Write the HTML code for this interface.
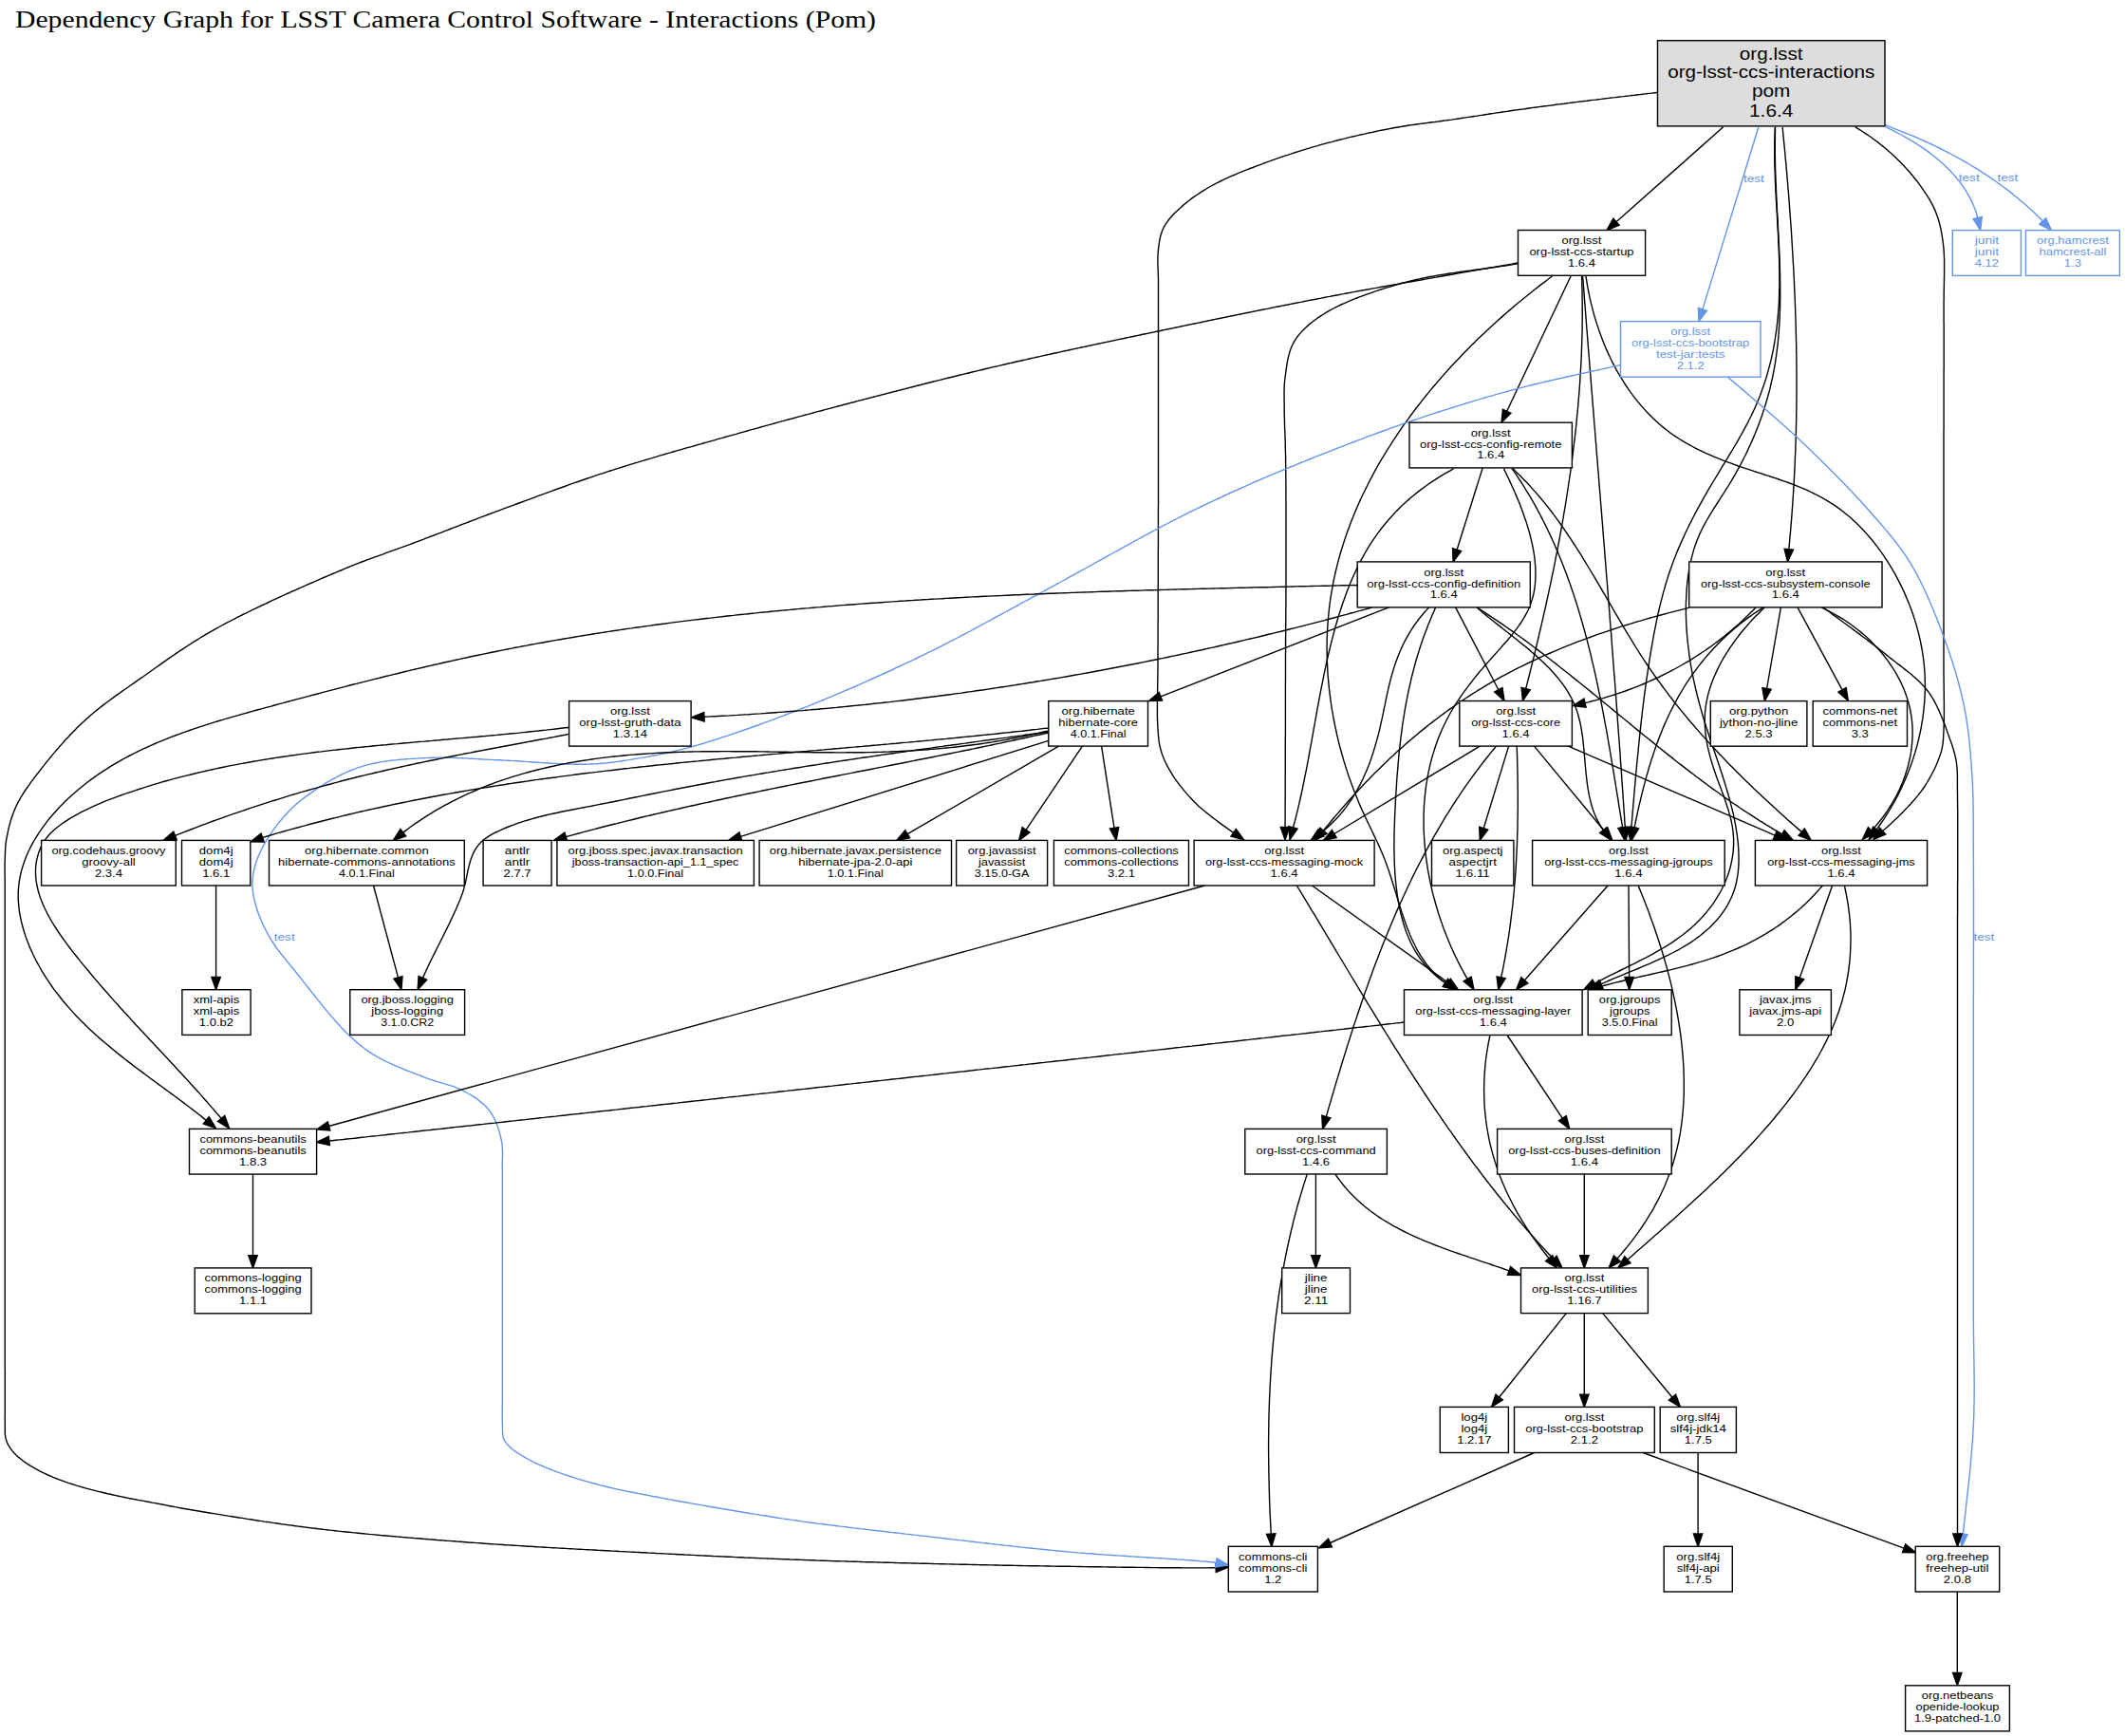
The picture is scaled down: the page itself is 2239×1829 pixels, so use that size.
<!DOCTYPE html><html><head><meta charset="utf-8"><style>html,body{margin:0;padding:0;background:#fff;overflow:hidden}svg{display:block}text{font-family:"Liberation Sans",sans-serif}</style></head><body>
<svg xmlns="http://www.w3.org/2000/svg" width="2239" height="1829" viewBox="0 0 2239 1829">
<rect width="2239" height="1829" fill="#fff"/>
<text x="16" y="29.3" font-family="Liberation Serif, serif" style="font-family:'Liberation Serif',serif" font-size="24.5" textLength="907" lengthAdjust="spacingAndGlyphs">Dependency Graph for LSST Camera Control Software - Interactions (Pom)</text>
<path d="M1815.7,133.8 1703,233.7" fill="none" stroke="#000" stroke-width="1.4"/>
<polygon points="1693,242.5 1699.8,230.2 1706.1,237.2" fill="#000" stroke="#000" stroke-width="1.4"/>
<path d="M1852.9,133.8 1793.9,325.9" fill="none" stroke="#6495ed" stroke-width="1.4"/>
<polygon points="1790,338.6 1789.4,324.5 1798.4,327.3" fill="#6495ed" stroke="#6495ed" stroke-width="1.4"/>
<path d="M1986.5,133.6 1990.2,135.4 1993.9,137.2 1997.6,139.1 2001.3,141 2005,143 2008.6,145.1 2012.3,147.2 2015.9,149.3 2019.4,151.6 2023,153.9 2026.5,156.2 2029.9,158.6 2033.3,161.1 2036.6,163.7 2039.9,166.3 2043.1,169 2046.2,171.7 2049.3,174.5 2052.3,177.4 2055.2,180.4 2058,183.4 2060.7,186.5 2063.3,189.7 2065.8,193 2068.2,196.3 2070.5,199.7 2072.6,203.2 2074.7,206.8 2076.6,210.4 2078.4,214.1 2080,218 2081.5,221.8 2082.8,225.8 2083.7,229.5" fill="none" stroke="#6495ed" stroke-width="1.4"/>
<polygon points="2086.7,242.5 2079.1,230.6 2088.3,228.5" fill="#6495ed" stroke="#6495ed" stroke-width="1.4"/>
<path d="M1986.7,131.9 1990.5,133.4 1994.4,134.8 1998.2,136.3 2002,137.8 2005.8,139.3 2009.6,140.9 2013.4,142.4 2017.2,144 2021,145.7 2024.7,147.3 2028.4,149 2032.2,150.7 2035.9,152.4 2039.6,154.2 2043.3,156 2046.9,157.8 2050.6,159.7 2054.2,161.5 2057.8,163.5 2061.4,165.4 2065,167.4 2068.6,169.4 2072.1,171.4 2075.6,173.5 2079.1,175.6 2082.6,177.7 2086.1,179.9 2089.5,182.1 2092.9,184.3 2096.3,186.6 2099.7,188.9 2103,191.2 2106.3,193.6 2109.6,196 2112.9,198.4 2116.1,200.9 2119.4,203.4 2122.5,206 2125.7,208.5 2128.8,211.2 2132,213.8 2135,216.5 2138.1,219.3 2141.1,222 2144.1,224.8 2147.1,227.7 2150,230.6 2152.2,232.9" fill="none" stroke="#6495ed" stroke-width="1.4"/>
<polygon points="2161.4,242.5 2148.8,236.2 2155.6,229.6" fill="#6495ed" stroke="#6495ed" stroke-width="1.4"/>
<path d="M1746.6,97.4 1743.6,97.7 1740.6,98.1 1737.7,98.4 1734.7,98.8 1731.7,99.1 1728.7,99.5 1725.7,99.8 1722.8,100.2 1719.8,100.5 1716.8,100.9 1713.8,101.2 1710.8,101.6 1707.8,101.9 1704.9,102.2 1701.9,102.6 1698.9,102.9 1695.9,103.3 1692.9,103.6 1690,104 1687,104.4 1684,104.7 1681,105.1 1678,105.4 1675.1,105.8 1672.1,106.2 1669.1,106.5 1666.1,106.9 1663.2,107.3 1660.2,107.6 1657.2,108 1654.2,108.4 1651.2,108.8 1648.3,109.2 1645.3,109.5 1642.3,109.9 1639.3,110.3 1636.4,110.7 1633.4,111.1 1630.4,111.5 1627.4,111.8 1624.5,112.2 1621.5,112.6 1618.5,113 1615.5,113.4 1612.6,113.8 1609.6,114.2 1606.6,114.7 1603.6,115.1 1600.7,115.5 1597.7,115.9 1594.7,116.3 1591.8,116.7 1588.8,117.2 1585.8,117.6 1582.8,118 1579.9,118.5 1576.9,118.9 1573.9,119.4 1571,119.8 1568,120.3 1565,120.7 1562.1,121.2 1559.1,121.6 1556.1,122.1 1553.2,122.5 1550.2,123 1547.2,123.4 1544.3,123.9 1541.3,124.3 1538.3,124.8 1535.4,125.2 1532.4,125.6 1529.4,126.1 1526.5,126.5 1523.5,126.9 1520.5,127.3 1517.5,127.7 1514.6,128.1 1511.6,128.5 1508.6,128.8 1505.6,129.2 1502.6,129.6 1499.7,130 1496.7,130.4 1493.7,130.8 1490.7,131.2 1487.8,131.6 1484.8,132 1481.8,132.5 1478.9,133 1475.9,133.5 1473,134 1470,134.5 1467.1,135 1464.1,135.6 1461.2,136.2 1458.2,136.8 1455.3,137.3 1452.3,137.9 1449.4,138.5 1446.5,139.2 1443.5,139.8 1440.6,140.4 1437.7,141.1 1434.7,141.7 1431.8,142.4 1428.9,143.1 1426,143.7 1423,144.4 1420.1,145.1 1417.2,145.9 1414.3,146.6 1411.4,147.3 1408.5,148 1405.6,148.8 1402.7,149.6 1399.8,150.3 1396.9,151.1 1394,151.9 1391.1,152.7 1388.2,153.6 1385.3,154.4 1382.4,155.2 1379.6,156.1 1376.7,156.9 1373.8,157.8 1370.9,158.7 1368.1,159.6 1365.2,160.5 1362.4,161.4 1359.5,162.3 1356.7,163.3 1353.8,164.2 1351,165.2 1348.1,166.2 1345.3,167.1 1342.5,168.1 1339.6,169.1 1336.8,170.2 1334,171.2 1331.2,172.2 1328.4,173.3 1325.5,174.3 1322.7,175.4 1319.9,176.5 1317.1,177.5 1314.3,178.6 1311.5,179.7 1308.7,180.8 1306,181.9 1303.2,183.1 1300.4,184.3 1297.7,185.4 1294.9,186.7 1292.2,187.9 1289.5,189.2 1286.8,190.5 1284.1,191.8 1281.4,193.2 1278.8,194.6 1276.1,196 1273.5,197.5 1270.9,199 1268.4,200.6 1265.8,202.2 1263.3,203.8 1260.8,205.5 1258.3,207.2 1255.9,208.9 1253.5,210.7 1251.1,212.6 1248.8,214.5 1246.5,216.4 1244.3,218.4 1242.1,220.4 1239.9,222.5 1237.7,224.6 1235.6,226.7 1233.6,229 1231.7,231.3 1229.9,233.6 1228.2,236.1 1226.7,238.7 1225.3,241.4 1224.2,244.2 1223.3,247 1222.5,249.9 1221.9,252.9 1221.4,255.8 1221,258.8 1220.6,261.8 1220.3,264.8 1220.1,267.8 1219.9,270.8 1219.9,273.8 1219.9,276.8 1220,279.8 1220.1,282.8 1220.2,285.8 1220.3,288.8 1220.4,291.8 1220.5,294.8 1220.5,297.8 1220.5,300.8 1220.5,303.8 1220.5,306.8 1220.5,309.8 1220.5,312.8 1220.5,315.8 1220.5,318.8 1220.5,321.8 1220.5,324.8 1220.5,327.8 1220.5,330.8 1220.5,333.8 1220.5,336.8 1220.5,339.8 1220.5,342.8 1220.5,345.8 1220.5,348.8 1220.5,351.8 1220.5,354.8 1220.5,357.8 1220.5,360.8 1220.5,363.8 1220.5,366.8 1220.5,369.8 1220.5,372.8 1220.5,375.8 1220.5,378.8 1220.5,381.8 1220.5,384.8 1220.5,387.8 1220.5,390.8 1220.5,393.8 1220.5,396.8 1220.5,399.8 1220.5,402.8 1220.5,405.8 1220.5,408.8 1220.5,411.8 1220.5,414.8 1220.5,417.8 1220.5,420.8 1220.5,423.8 1220.5,426.8 1220.5,429.8 1220.5,432.8 1220.5,435.8 1220.5,438.8 1220.5,441.8 1220.5,444.8 1220.5,447.8 1220.5,450.8 1220.5,453.8 1220.5,456.8 1220.5,459.8 1220.5,462.8 1220.5,465.8 1220.5,468.8 1220.5,471.8 1220.5,474.8 1220.5,477.8 1220.5,480.8 1220.5,483.8 1220.5,486.8 1220.5,489.8 1220.5,492.8 1220.5,495.8 1220.5,498.8 1220.5,501.8 1220.5,504.8 1220.5,507.8 1220.5,510.8 1220.5,513.8 1220.5,516.8 1220.5,519.8 1220.5,522.8 1220.5,525.9 1220.5,528.9 1220.5,531.9 1220.4,534.9 1220.4,537.9 1220.4,540.9 1220.4,543.9 1220.4,546.9 1220.4,549.9 1220.4,552.9 1220.4,555.9 1220.4,558.9 1220.4,561.9 1220.4,564.9 1220.4,567.9 1220.4,570.9 1220.4,573.9 1220.4,576.9 1220.3,579.9 1220.3,582.9 1220.3,585.9 1220.3,588.9 1220.3,591.9 1220.3,594.9 1220.3,597.9 1220.3,600.9 1220.3,603.9 1220.3,606.9 1220.3,609.9 1220.3,612.9 1220.3,615.9 1220.2,618.9 1220.2,621.9 1220.2,624.9 1220.2,627.9 1220.2,630.9 1220.2,633.9 1220.2,636.9 1220.2,639.9 1220.2,642.9 1220.2,645.9 1220.2,648.9 1220.2,651.9 1220.1,654.9 1220.1,657.9 1220.1,660.9 1220.1,663.9 1220.1,666.9 1220.1,669.9 1220.1,672.9 1220.1,675.9 1220.1,678.9 1220.1,681.9 1220,684.9 1220,687.9 1220,690.9 1220,693.9 1220,696.9 1220,699.9 1220,702.9 1220,705.9 1219.9,708.9 1219.9,711.9 1219.8,714.9 1219.8,717.9 1219.7,720.9 1219.7,723.9 1219.6,726.9 1219.6,729.9 1219.5,732.9 1219.5,735.9 1219.4,738.9 1219.4,741.9 1219.4,744.9 1219.4,747.9 1219.4,750.9 1219.4,753.9 1219.5,756.9 1219.6,759.9 1219.7,762.9 1219.9,765.9 1220.1,768.9 1220.3,771.9 1220.5,774.9 1220.8,777.9 1221.1,780.9 1221.6,783.8 1222.2,786.8 1223,789.7 1223.8,792.5 1224.8,795.4 1225.9,798.2 1227,801 1228.3,803.7 1229.6,806.4 1231,809 1232.5,811.7 1234,814.2 1235.6,816.8 1237.2,819.3 1239,821.8 1240.7,824.2 1242.5,826.6 1244.4,828.9 1246.3,831.3 1248.2,833.6 1250.1,835.9 1252.1,838.1 1254.1,840.3 1256.2,842.5 1258.3,844.7 1260.4,846.8 1262.6,848.9 1264.8,850.9 1267.1,852.8 1269.4,854.8 1271.7,856.6 1274.1,858.5 1276.4,860.4 1278.8,862.2 1281.2,864 1283.6,865.9 1286,867.6 1288.4,869.4 1290.9,871.1 1293.3,872.9 1295.8,874.6 1298.3,876.3 1299.7,877.2" fill="none" stroke="#000" stroke-width="1.4"/>
<polygon points="1310.6,884.8 1297,881.1 1302.3,873.4" fill="#000" stroke="#000" stroke-width="1.4"/>
<path d="M1954.8,133.6 1957.3,135.3 1959.8,136.9 1962.3,138.5 1964.8,140.2 1967.4,141.8 1969.8,143.5 1972.3,145.2 1974.7,147 1977.1,148.8 1979.5,150.6 1981.9,152.5 1984.2,154.4 1986.5,156.3 1988.8,158.2 1991.1,160.2 1993.4,162.2 1995.6,164.2 1997.7,166.3 1999.9,168.4 2002,170.5 2004.1,172.7 2006.1,174.8 2008.2,177.1 2010.2,179.3 2012.2,181.5 2014.1,183.8 2016,186.1 2017.9,188.5 2019.8,190.8 2021.6,193.2 2023.3,195.7 2025.1,198.1 2026.8,200.6 2028.5,203.1 2030.2,205.6 2031.8,208.1 2033.3,210.7 2034.8,213.3 2036.2,215.9 2037.5,218.6 2038.8,221.4 2039.9,224.2 2040.9,227 2041.9,229.8 2042.8,232.7 2043.6,235.6 2044.3,238.5 2045,241.4 2045.5,244.4 2046.1,247.3 2046.5,250.3 2047,253.3 2047.3,256.2 2047.7,259.2 2048,262.2 2048.2,265.2 2048.4,268.2 2048.5,271.2 2048.6,274.2 2048.6,277.2 2048.6,280.2 2048.6,283.2 2048.6,286.2 2048.6,289.2 2048.5,292.2 2048.5,295.2 2048.4,298.2 2048.4,301.2 2048.3,304.2 2048.2,307.2 2048.2,310.2 2048.2,313.2 2048.1,316.3 2048.1,319.3 2048.1,322.3 2048.1,325.3 2048.1,328.3 2048.1,331.3 2048.1,334.3 2048.1,337.3 2048.1,340.3 2048.2,343.3 2048.2,346.3 2048.2,349.3 2048.2,352.3 2048.2,355.3 2048.2,358.3 2048.2,361.3 2048.2,364.3 2048.2,367.3 2048.2,370.3 2048.2,373.3 2048.2,376.3 2048.2,379.3 2048.2,382.3 2048.2,385.3 2048.2,388.3 2048.1,391.3 2048.1,394.3 2048.1,397.3 2048.1,400.3 2048.1,403.3 2048.1,406.3 2048.1,409.3 2048.1,412.4 2048.1,415.4 2048.1,418.4 2048.1,421.4 2048.1,424.4 2048.1,427.4 2048.1,430.4 2048.1,433.4 2048.1,436.4 2048.1,439.4 2048.1,442.4 2048.1,445.4 2048.1,448.4 2048.1,451.4 2048,454.4 2048,457.4 2048,460.4 2048,463.4 2048,466.4 2048,469.4 2048,472.4 2048,475.4 2048,478.4 2048,481.4 2048,484.4 2048,487.4 2048,490.4 2048,493.4 2048,496.4 2048,499.4 2048,502.4 2048,505.4 2048,508.5 2048,511.5 2048,514.5 2048,517.5 2048,520.5 2048,523.5 2048,526.5 2048,529.5 2048,532.5 2048,535.5 2048,538.5 2048,541.5 2048,544.5 2048,547.5 2048,550.5 2048,553.5 2048,556.5 2048,559.5 2048,562.5 2048,565.5 2048,568.5 2048,571.5 2048,574.5 2048,577.5 2048,580.5 2048,583.5 2048,586.5 2048,589.5 2048,592.5 2048,595.5 2048,598.5 2048,601.5 2048,604.6 2048,607.6 2048,610.6 2048,613.6 2048,616.6 2048,619.6 2048,622.6 2048,625.6 2048,628.6 2048,631.6 2048,634.6 2048,637.6 2048,640.6 2048,643.6 2048,646.6 2048,649.6 2048,652.6 2048,655.6 2048,658.6 2048,661.6 2048,664.6 2048,667.6 2048,670.6 2048,673.6 2048,676.6 2048,679.6 2048,682.6 2048,685.6 2048,688.6 2048,691.6 2048,694.6 2048,697.6 2048,700.7 2048,703.7 2048,706.7 2048,709.7 2048.1,712.7 2048.1,715.7 2048.1,718.7 2048.2,721.7 2048.2,724.7 2048.2,727.7 2048.3,730.7 2048.3,733.7 2048.3,736.7 2048.4,739.7 2048.4,742.7 2048.4,745.7 2048.4,748.7 2048.4,751.7 2048.4,754.7 2048.4,757.7 2048.3,760.7 2048.2,763.7 2048.1,766.7 2048,769.7 2047.8,772.7 2047.7,775.7 2047.5,778.7 2047.3,781.7 2046.9,784.7 2046.4,787.6 2045.7,790.6 2044.9,793.5 2043.9,796.3 2042.9,799.1 2041.8,801.9 2040.7,804.7 2039.5,807.5 2038.2,810.2 2036.9,812.9 2035.5,815.5 2034.1,818.2 2032.6,820.8 2031.1,823.4 2029.6,826 2027.9,828.5 2026.2,831 2024.5,833.4 2022.6,835.8 2020.8,838.1 2018.8,840.4 2016.9,842.7 2014.9,845 2012.9,847.2 2010.8,849.4 2008.8,851.6 2006.7,853.8 2004.6,855.9 2002.5,858.1 2000.4,860.2 1998.2,862.3 1996,864.3 1993.8,866.4 1991.6,868.4 1989.4,870.4 1987.2,872.4 1984.9,874.4 1983.6,875.6" fill="none" stroke="#000" stroke-width="1.4"/>
<polygon points="1973.8,884.5 1980.5,872.1 1986.8,879" fill="#000" stroke="#000" stroke-width="1.4"/>
<path d="M1878.2,134 1878.5,138 1878.9,142.1 1879.3,146.1 1879.7,150.2 1880.1,154.2 1880.5,158.2 1880.9,162.3 1881.2,166.3 1881.6,170.4 1882,174.4 1882.3,178.5 1882.7,182.5 1883,186.6 1883.4,190.6 1883.7,194.6 1884,198.7 1884.4,202.7 1884.7,206.8 1885,210.8 1885.3,214.9 1885.6,218.9 1885.9,223 1886.2,227 1886.5,231.1 1886.8,235.1 1887.1,239.2 1887.4,243.2 1887.6,247.3 1887.9,251.3 1888.1,255.4 1888.4,259.4 1888.6,263.5 1888.9,267.6 1889.1,271.6 1889.3,275.7 1889.6,279.7 1889.8,283.8 1890,287.8 1890.2,291.9 1890.4,295.9 1890.6,300 1890.7,304 1890.9,308.1 1891.1,312.2 1891.3,316.2 1891.4,320.3 1891.6,324.3 1891.7,328.4 1891.8,332.4 1892,336.5 1892.1,340.6 1892.2,344.6 1892.3,348.7 1892.4,352.7 1892.5,356.8 1892.6,360.8 1892.7,364.9 1892.7,369 1892.8,373 1892.9,377.1 1892.9,381.1 1892.9,385.2 1893,389.2 1893,393.3 1893,397.4 1893,401.4 1893,405.5 1893,409.5 1893,413.6 1893,417.6 1892.9,421.7 1892.9,425.8 1892.9,429.8 1892.8,433.9 1892.7,437.9 1892.7,442 1892.6,446 1892.5,450.1 1892.4,454.2 1892.3,458.2 1892.2,462.3 1892,466.3 1891.9,470.4 1891.8,474.4 1891.6,478.5 1891.4,482.5 1891.3,486.6 1891.1,490.7 1890.9,494.7 1890.7,498.8 1890.5,502.8 1890.3,506.9 1890.1,510.9 1889.8,515 1889.6,519 1889.3,523.1 1889,527.1 1888.8,531.2 1888.5,535.2 1888.2,539.3 1887.9,543.3 1887.6,547.4 1887.2,551.4 1886.9,555.5 1886.6,559.5 1886.2,563.6 1885.8,567.6 1885.5,571.7 1885.1,575.7 1884.8,578.7" fill="none" stroke="#000" stroke-width="1.4"/>
<polygon points="1883.5,591.9 1880.1,578.2 1889.5,579.1" fill="#000" stroke="#000" stroke-width="1.4"/>
<path d="M1870.3,133.8 1870.2,137.8 1870,141.7 1869.9,145.7 1869.8,149.6 1869.8,153.6 1869.8,157.6 1869.8,161.6 1869.8,165.6 1869.8,169.6 1869.9,173.6 1870,177.6 1870.2,181.6 1870.3,185.7 1870.4,189.7 1870.6,193.8 1870.8,197.8 1871,201.9 1871.2,206 1871.4,210 1871.7,214.1 1871.9,218.2 1872.1,222.3 1872.4,226.3 1872.6,230.4 1872.8,234.5 1873,238.6 1873.3,242.7 1873.5,246.8 1873.7,250.9 1873.9,255 1874.1,259.1 1874.3,263.2 1874.4,267.3 1874.5,271.3 1874.7,275.4 1874.8,279.5 1874.8,283.6 1874.9,287.7 1874.9,291.7 1874.9,295.8 1874.9,299.9 1874.8,303.9 1874.7,308 1874.6,312 1874.5,316.1 1874.3,320.1 1874,324.1 1873.7,328.1 1873.4,332.1 1873.1,336.1 1872.6,340.1 1872.2,344.1 1871.7,348.1 1871.1,352 1870.5,356 1869.9,359.9 1869.2,363.8 1868.5,367.8 1867.7,371.7 1866.9,375.5 1866,379.4 1865,383.3 1864,387.1 1863,390.9 1861.9,394.7 1860.8,398.5 1859.6,402.3 1858.3,406.1 1857,409.8 1855.7,413.5 1854.3,417.2 1852.8,420.9 1851.3,424.5 1849.7,428.2 1848.1,431.8 1846.4,435.4 1844.7,439 1842.9,442.5 1841.1,446.1 1839.2,449.6 1837.3,453.1 1835.4,456.6 1833.4,460.1 1831.5,463.6 1829.5,467.1 1827.4,470.5 1825.4,474 1823.3,477.4 1821.2,480.9 1819.1,484.3 1817,487.8 1814.9,491.2 1812.9,494.7 1810.8,498.1 1808.7,501.6 1806.6,505 1804.5,508.5 1802.5,511.9 1800.4,515.4 1798.4,518.9 1796.4,522.4 1794.4,525.8 1792.5,529.3 1790.5,532.9 1788.6,536.4 1786.7,539.9 1784.8,543.5 1783,547 1781.2,550.6 1779.4,554.1 1777.7,557.7 1775.9,561.3 1774.3,565 1772.6,568.6 1771,572.2 1769.4,575.9 1767.8,579.6 1766.3,583.3 1764.9,587 1763.4,590.7 1762,594.4 1760.7,598.2 1759.4,602 1758.1,605.8 1756.9,609.6 1755.7,613.4 1754.6,617.3 1753.5,621.1 1752.4,625 1751.4,628.9 1750.3,632.8 1749.4,636.7 1748.4,640.6 1747.5,644.5 1746.6,648.5 1745.8,652.4 1745,656.4 1744.2,660.4 1743.4,664.3 1742.6,668.3 1741.9,672.3 1741.2,676.3 1740.5,680.3 1739.8,684.3 1739.1,688.3 1738.5,692.3 1737.8,696.3 1737.2,700.3 1736.6,704.3 1736,708.3 1735.4,712.3 1734.8,716.4 1734.3,720.4 1733.7,724.4 1733.2,728.4 1732.6,732.4 1732.1,736.4 1731.6,740.5 1731.1,744.5 1730.6,748.5 1730.2,752.5 1729.7,756.5 1729.2,760.6 1728.8,764.6 1728.3,768.6 1727.9,772.6 1727.5,776.6 1727.1,780.7 1726.7,784.7 1726.3,788.7 1725.9,792.7 1725.5,796.8 1725.1,800.8 1724.7,804.8 1724.3,808.8 1724,812.8 1723.6,816.9 1723.2,820.9 1722.9,824.9 1722.5,828.9 1722.2,832.9 1721.8,836.9 1721.5,840.9 1721.1,845 1720.8,849 1720.5,853 1720.1,857 1719.8,861 1719.5,865 1719.1,869 1718.9,871.7" fill="none" stroke="#000" stroke-width="1.4"/>
<polygon points="1717.8,885 1714.2,871.4 1723.6,872.1" fill="#000" stroke="#000" stroke-width="1.4"/>
<path d="M1870.5,134 1870.5,138 1870.4,141.9 1870.4,145.9 1870.3,149.9 1870.3,153.8 1870.3,157.8 1870.3,161.8 1870.4,165.8 1870.4,169.8 1870.5,173.8 1870.6,177.8 1870.7,181.8 1870.9,185.8 1871,189.8 1871.2,193.9 1871.4,197.9 1871.5,201.9 1871.7,206 1871.9,210 1872.1,214.1 1872.3,218.1 1872.5,222.2 1872.8,226.2 1873,230.3 1873.2,234.3 1873.4,238.4 1873.6,242.5 1873.8,246.5 1874,250.6 1874.2,254.7 1874.4,258.7 1874.6,262.8 1874.8,266.9 1875,270.9 1875.1,275 1875.2,279 1875.4,283.1 1875.5,287.2 1875.6,291.2 1875.6,295.3 1875.7,299.3 1875.7,303.4 1875.7,307.4 1875.7,311.5 1875.7,315.5 1875.6,319.5 1875.6,323.6 1875.4,327.6 1875.3,331.6 1875.1,335.6 1874.9,339.7 1874.7,343.7 1874.4,347.7 1874.1,351.7 1873.8,355.6 1873.4,359.6 1873,363.6 1872.5,367.6 1872,371.5 1871.5,375.5 1870.9,379.4 1870.3,383.4 1869.6,387.3 1868.9,391.2 1868.1,395.1 1867.3,399 1866.4,402.9 1865.5,406.8 1864.6,410.7 1863.6,414.5 1862.5,418.4 1861.4,422.2 1860.3,426.1 1859.1,429.9 1857.8,433.7 1856.6,437.5 1855.2,441.2 1853.9,445 1852.5,448.8 1851,452.5 1849.5,456.2 1848,459.9 1846.4,463.6 1844.8,467.3 1843.1,470.9 1841.4,474.6 1839.7,478.2 1837.9,481.8 1836,485.4 1834.2,489 1832.3,492.5 1830.3,496.1 1828.4,499.6 1826.3,503.1 1824.3,506.6 1822.2,510 1820.1,513.5 1817.9,516.9 1815.7,520.3 1813.5,523.7 1811.4,527.1 1809.2,530.5 1807,533.8 1804.9,537.2 1802.8,540.6 1800.7,544.1 1798.7,547.5 1796.8,550.9 1794.9,554.4 1793.1,557.9 1791.4,561.5 1789.9,565 1788.4,568.6 1787,572.3 1785.7,575.9 1784.5,579.6 1783.5,583.4 1782.5,587.1 1781.6,590.9 1780.7,594.7 1780,598.6 1779.4,602.4 1778.8,606.3 1778.3,610.2 1777.8,614.1 1777.4,618.1 1777.1,622 1776.9,626 1776.7,629.9 1776.5,633.9 1776.4,637.9 1776.4,641.9 1776.4,645.9 1776.5,649.9 1776.6,653.9 1776.8,657.9 1777,661.9 1777.3,665.9 1777.6,669.9 1778,673.9 1778.4,678 1778.9,682 1779.4,686 1779.9,690 1780.5,694.1 1781.1,698.1 1781.8,702.1 1782.5,706.1 1783.3,710.1 1784.1,714.1 1784.9,718.1 1785.8,722.1 1786.7,726.1 1787.7,730.1 1788.6,734 1789.7,738 1790.7,741.9 1791.8,745.9 1792.9,749.8 1794,753.7 1795.2,757.6 1796.4,761.5 1797.6,765.4 1798.9,769.3 1800.1,773.1 1801.4,777 1802.7,780.8 1804,784.7 1805.3,788.5 1806.6,792.3 1807.9,796.2 1809.2,800 1810.5,803.8 1811.8,807.7 1813,811.5 1814.3,815.3 1815.5,819.2 1816.7,823 1817.9,826.8 1819.1,830.7 1820.2,834.5 1821.3,838.4 1822.4,842.3 1823.4,846.1 1824.4,850 1825.4,853.9 1826.3,857.8 1827.1,861.7 1827.9,865.7 1828.7,869.6 1829.3,873.6 1830,877.6 1830.5,881.6 1831,885.6 1831.4,889.6 1831.7,893.6 1831.9,897.6 1832,901.6 1832.1,905.6 1832,909.5 1831.8,913.4 1831.5,917.3 1831,921.2 1830.4,925 1829.7,928.8 1828.8,932.5 1827.8,936.2 1826.6,939.8 1825.2,943.3 1823.7,946.8 1822,950.2 1820.2,953.6 1818.2,956.8 1816.1,960 1813.9,963.1 1811.5,966.2 1809,969.2 1806.4,972.1 1803.6,974.9 1800.8,977.7 1797.8,980.3 1794.8,982.9 1791.7,985.5 1788.5,987.9 1785.2,990.3 1781.8,992.6 1778.4,994.8 1774.8,996.9 1771.3,999 1767.7,1001.1 1764,1003 1760.3,1005 1756.5,1006.8 1752.7,1008.7 1748.9,1010.4 1745.1,1012.2 1741.2,1013.9 1737.4,1015.6 1733.5,1017.2 1729.6,1018.9 1725.8,1020.5 1721.9,1022.1 1718.1,1023.6 1714.2,1025.2 1710.4,1026.8 1706.7,1028.3 1702.9,1029.9 1699.2,1031.4 1695.6,1033 1692,1034.6 1688.5,1036.2 1686.9,1037" fill="none" stroke="#000" stroke-width="1.4"/>
<polygon points="1674.9,1042.8 1684.8,1032.8 1688.9,1041.2" fill="#000" stroke="#000" stroke-width="1.4"/>
<path d="M1599,277 1596,277.5 1593.1,278.1 1590.1,278.6 1587.2,279.1 1584.2,279.6 1581.3,280.1 1578.3,280.7 1575.4,281.2 1572.4,281.7 1569.4,282.2 1566.5,282.8 1563.5,283.3 1560.6,283.8 1557.6,284.3 1554.7,284.8 1551.7,285.3 1548.8,285.9 1545.8,286.4 1542.8,286.9 1539.9,287.4 1536.9,287.9 1534,288.4 1531,289 1528.1,289.5 1525.1,290 1522.2,290.5 1519.2,291 1516.2,291.5 1513.3,292.1 1510.3,292.6 1507.4,293.1 1504.4,293.6 1501.5,294.1 1498.5,294.7 1495.5,295.2 1492.6,295.7 1489.6,296.2 1486.7,296.7 1483.7,297.3 1480.8,297.8 1477.8,298.3 1474.9,298.8 1471.9,299.4 1469,299.9 1466,300.4 1463,300.9 1460.1,301.5 1457.1,302 1454.2,302.5 1451.2,303.1 1448.3,303.6 1445.3,304.1 1442.4,304.7 1439.4,305.2 1436.5,305.7 1433.5,306.3 1430.6,306.8 1427.6,307.4 1424.7,307.9 1421.7,308.5 1418.8,309 1415.8,309.6 1412.9,310.1 1409.9,310.7 1407,311.2 1404,311.8 1401.1,312.4 1398.1,312.9 1395.2,313.5 1392.2,314.1 1389.3,314.6 1386.3,315.2 1383.4,315.8 1380.4,316.3 1377.5,316.9 1374.5,317.5 1371.6,318.1 1368.7,318.6 1365.7,319.2 1362.8,319.8 1359.8,320.4 1356.9,321 1353.9,321.5 1351,322.1 1348,322.7 1345.1,323.3 1342.2,323.9 1339.2,324.5 1336.3,325.1 1333.3,325.6 1330.4,326.2 1327.5,326.8 1324.5,327.4 1321.6,328 1318.6,328.6 1315.7,329.2 1312.7,329.8 1309.8,330.4 1306.9,331 1303.9,331.6 1301,332.2 1298,332.8 1295.1,333.4 1292.2,334 1289.2,334.6 1286.3,335.2 1283.3,335.8 1280.4,336.4 1277.5,337 1274.5,337.6 1271.6,338.3 1268.6,338.9 1265.7,339.5 1262.8,340.1 1259.8,340.7 1256.9,341.3 1254,341.9 1251,342.5 1248.1,343.1 1245.1,343.7 1242.2,344.4 1239.3,345 1236.3,345.6 1233.4,346.2 1230.5,346.8 1227.5,347.4 1224.6,348 1221.6,348.7 1218.7,349.3 1215.8,349.9 1212.8,350.5 1209.9,351.1 1207,351.7 1204,352.3 1201.1,353 1198.1,353.6 1195.2,354.2 1192.3,354.8 1189.3,355.4 1186.4,356 1183.5,356.7 1180.5,357.3 1177.6,357.9 1174.7,358.5 1171.7,359.1 1168.8,359.8 1165.8,360.4 1162.9,361 1160,361.6 1157,362.2 1154.1,362.9 1151.2,363.5 1148.2,364.1 1145.3,364.7 1142.4,365.4 1139.4,366 1136.5,366.6 1133.6,367.3 1130.6,367.9 1127.7,368.5 1124.8,369.2 1121.8,369.8 1118.9,370.4 1116,371.1 1113,371.7 1110.1,372.3 1107.2,373 1104.2,373.6 1101.3,374.3 1098.4,374.9 1095.4,375.6 1092.5,376.2 1089.6,376.9 1086.7,377.5 1083.7,378.2 1080.8,378.9 1077.9,379.5 1074.9,380.2 1072,380.8 1069.1,381.5 1066.2,382.2 1063.2,382.8 1060.3,383.5 1057.4,384.2 1054.5,384.9 1051.5,385.6 1048.6,386.2 1045.7,386.9 1042.8,387.6 1039.9,388.3 1036.9,389 1034,389.7 1031.1,390.4 1028.2,391.1 1025.3,391.8 1022.3,392.5 1019.4,393.2 1016.5,393.9 1013.6,394.6 1010.7,395.3 1007.8,396 1004.9,396.8 1001.9,397.5 999,398.2 996.1,398.9 993.2,399.6 990.3,400.4 987.4,401.1 984.5,401.8 981.6,402.5 978.6,403.3 975.7,404 972.8,404.7 969.9,405.5 967,406.2 964.1,407 961.2,407.7 958.3,408.4 955.4,409.2 952.5,409.9 949.6,410.7 946.7,411.4 943.7,412.2 940.8,412.9 937.9,413.7 935,414.4 932.1,415.2 929.2,415.9 926.3,416.7 923.4,417.4 920.5,418.2 917.6,418.9 914.7,419.7 911.8,420.4 908.9,421.2 906,421.9 903.1,422.7 900.2,423.5 897.3,424.2 894.4,425 891.5,425.7 888.6,426.5 885.7,427.3 882.8,428 879.9,428.8 877,429.6 874.1,430.4 871.2,431.1 868.3,431.9 865.4,432.7 862.5,433.4 859.6,434.2 856.7,435 853.8,435.8 850.9,436.6 848,437.3 845.1,438.1 842.2,438.9 839.3,439.7 836.4,440.5 833.5,441.3 830.6,442 827.7,442.8 824.8,443.6 821.9,444.4 819,445.2 816.1,446 813.2,446.8 810.3,447.6 807.4,448.4 804.5,449.2 801.6,450 798.8,450.8 795.9,451.6 793,452.4 790.1,453.2 787.2,454 784.3,454.8 781.4,455.6 778.5,456.4 775.6,457.3 772.7,458.1 769.9,458.9 767,459.7 764.1,460.5 761.2,461.3 758.3,462.1 755.4,462.9 752.5,463.8 749.6,464.6 746.7,465.4 743.9,466.2 741,467 738.1,467.8 735.2,468.6 732.3,469.5 729.4,470.3 726.5,471.1 723.6,471.9 720.8,472.7 717.9,473.6 715,474.4 712.1,475.2 709.2,476 706.3,476.9 703.4,477.7 700.6,478.5 697.7,479.4 694.8,480.2 691.9,481.1 689,481.9 686.2,482.8 683.3,483.6 680.4,484.5 677.5,485.3 674.7,486.2 671.8,487.1 668.9,487.9 666,488.8 663.2,489.7 660.3,490.6 657.4,491.5 654.6,492.4 651.7,493.3 648.9,494.2 646,495.1 643.1,496 640.3,496.9 637.4,497.8 634.6,498.8 631.7,499.7 628.9,500.7 626,501.6 623.2,502.6 620.4,503.5 617.5,504.5 614.7,505.5 611.8,506.5 609,507.5 606.2,508.4 603.3,509.4 600.5,510.4 597.7,511.4 594.9,512.5 592,513.5 589.2,514.5 586.4,515.5 583.6,516.5 580.7,517.6 577.9,518.6 575.1,519.6 572.3,520.6 569.5,521.7 566.7,522.7 563.8,523.8 561,524.8 558.2,525.8 555.4,526.9 552.6,527.9 549.8,529 546.9,530 544.1,531 541.3,532.1 538.5,533.1 535.7,534.1 532.9,535.2 530.1,536.2 527.2,537.3 524.4,538.3 521.6,539.4 518.8,540.4 516,541.5 513.2,542.5 510.4,543.6 507.6,544.7 504.8,545.7 502,546.8 499.2,547.9 496.4,548.9 493.6,550 490.8,551.1 487.9,552.1 485.1,553.2 482.3,554.3 479.5,555.4 476.7,556.4 473.9,557.5 471.1,558.6 468.3,559.7 465.5,560.8 462.7,561.8 459.9,562.9 457.1,564 454.3,565 451.5,566.1 448.7,567.2 445.9,568.3 443.1,569.3 440.3,570.4 437.5,571.4 434.7,572.5 431.9,573.6 429.1,574.6 426.2,575.6 423.4,576.7 420.6,577.7 417.8,578.7 415,579.7 412.1,580.7 409.3,581.7 406.5,582.7 403.7,583.8 400.8,584.8 398,585.8 395.2,586.8 392.4,587.8 389.6,588.9 386.7,589.9 383.9,591 381.1,592 378.3,593.1 375.5,594.2 372.7,595.3 369.9,596.4 367.2,597.5 364.4,598.7 361.6,599.8 358.8,601 356.1,602.1 353.3,603.3 350.6,604.5 347.8,605.7 345,606.8 342.3,608 339.5,609.2 336.8,610.4 334,611.6 331.3,612.8 328.5,614 325.8,615.2 323,616.4 320.3,617.6 317.5,618.8 314.8,620 312,621.3 309.3,622.5 306.6,623.7 303.8,625 301.1,626.2 298.4,627.4 295.6,628.7 292.9,629.9 290.2,631.2 287.4,632.4 284.7,633.7 282,635 279.3,636.3 276.6,637.5 273.9,638.8 271.2,640.1 268.4,641.4 265.7,642.7 263,644 260.4,645.4 257.7,646.7 255,648 252.3,649.4 249.6,650.7 246.9,652.1 244.3,653.5 241.6,654.8 238.9,656.2 236.3,657.6 233.6,659 231,660.5 228.4,661.9 225.8,663.4 223.1,664.9 220.5,666.3 217.9,667.9 215.4,669.4 212.8,670.9 210.2,672.5 207.7,674.1 205.1,675.6 202.6,677.2 200.1,678.9 197.5,680.5 195,682.1 192.5,683.8 190,685.4 187.5,687.1 185,688.8 182.6,690.5 180.1,692.2 177.6,693.9 175.2,695.6 172.7,697.4 170.3,699.1 167.8,700.8 165.4,702.5 162.9,704.3 160.5,706 158,707.8 155.6,709.5 153.1,711.2 150.7,713 148.2,714.7 145.7,716.4 143.3,718.1 140.8,719.8 138.4,721.5 135.9,723.3 133.4,725 131,726.7 128.5,728.4 126.1,730.2 123.6,731.9 121.2,733.6 118.8,735.4 116.3,737.2 113.9,739 111.5,740.8 109.1,742.6 106.8,744.4 104.4,746.3 102.1,748.1 99.7,750 97.4,752 95.1,753.9 92.9,755.9 90.6,757.9 88.4,759.9 86.2,762 84.1,764 81.9,766.1 79.8,768.2 77.7,770.4 75.6,772.5 73.5,774.7 71.5,776.9 69.4,779.1 67.4,781.3 65.4,783.6 63.4,785.8 61.5,788.1 59.5,790.3 57.6,792.6 55.6,794.9 53.7,797.2 51.8,799.6 49.9,801.9 48,804.2 46.2,806.6 44.3,808.9 42.5,811.3 40.6,813.7 38.8,816 36.9,818.4 35.1,820.8 33.3,823.2 31.6,825.6 29.8,828.1 28.1,830.5 26.4,833 24.8,835.5 23.2,838.1 21.6,840.6 20.2,843.3 18.7,845.9 17.4,848.6 16.2,851.3 15,854.1 13.9,856.9 12.9,859.7 11.9,862.5 11.1,865.4 10.3,868.3 9.5,871.2 8.8,874.1 8.2,877.1 7.6,880 7,882.9 6.5,885.9 6.1,888.9 5.8,891.9 5.6,894.9 5.5,897.9 5.4,900.9 5.3,903.9 5.2,906.9 5.1,909.9 5.1,912.9 5.1,915.9 5.1,918.9 5.1,921.9 5.2,924.9 5.2,927.9 5.2,930.9 5.2,933.9 5.2,936.9 5.2,939.9 5.2,942.9 5.2,945.9 5.2,948.9 5.2,951.9 5.2,954.9 5.2,957.9 5.2,960.9 5.2,963.9 5.2,966.9 5.2,969.9 5.2,972.9 5.2,975.9 5.2,978.9 5.2,981.9 5.2,984.9 5.2,987.9 5.2,990.9 5.2,993.9 5.2,996.9 5.2,999.9 5.2,1002.9 5.2,1005.9 5.2,1008.9 5.2,1011.9 5.2,1014.9 5.2,1017.9 5.2,1020.9 5.2,1023.9 5.2,1026.9 5.2,1029.9 5.2,1032.9 5.2,1035.9 5.2,1038.9 5.2,1041.9 5.2,1044.9 5.2,1047.9 5.2,1050.9 5.2,1053.9 5.2,1056.9 5.2,1059.9 5.2,1062.9 5.2,1065.9 5.2,1068.9 5.2,1071.9 5.2,1074.9 5.2,1077.9 5.2,1080.9 5.2,1083.9 5.2,1086.9 5.2,1089.9 5.2,1092.9 5.2,1095.9 5.2,1098.9 5.2,1101.9 5.2,1104.9 5.2,1107.9 5.2,1110.9 5.2,1113.9 5.2,1116.9 5.2,1119.9 5.2,1122.9 5.2,1125.9 5.2,1128.9 5.2,1131.9 5.2,1134.9 5.2,1137.9 5.2,1140.9 5.2,1143.9 5.2,1146.9 5.2,1149.9 5.2,1152.9 5.2,1155.9 5.2,1158.9 5.2,1161.9 5.2,1164.9 5.2,1167.9 5.2,1170.9 5.2,1173.9 5.2,1176.9 5.2,1179.9 5.2,1182.9 5.2,1186 5.2,1189 5.2,1192 5.2,1195 5.2,1198 5.2,1201 5.2,1204 5.2,1207 5.2,1210 5.2,1213 5.2,1216 5.2,1219 5.2,1222 5.2,1225 5.2,1228 5.2,1231 5.2,1234 5.2,1237 5.2,1240 5.2,1243 5.2,1246 5.2,1249 5.2,1252 5.2,1255 5.2,1258 5.2,1261 5.2,1264 5.2,1267 5.2,1270 5.2,1273 5.2,1276 5.2,1279 5.2,1282 5.2,1285 5.2,1288 5.2,1291 5.2,1294 5.2,1297 5.2,1300 5.2,1303 5.2,1306 5.2,1309 5.2,1312 5.2,1315 5.2,1318 5.2,1321 5.2,1324 5.2,1327 5.2,1330 5.2,1333 5.2,1336 5.2,1339 5.2,1342 5.2,1345 5.2,1348 5.2,1351 5.2,1354 5.2,1357 5.2,1360 5.2,1363 5.2,1366 5.2,1369 5.2,1372 5.2,1375 5.2,1378 5.2,1381 5.2,1384 5.2,1387 5.2,1390 5.2,1393 5.2,1396 5.2,1399 5.2,1402 5.2,1405 5.2,1408 5.2,1411 5.2,1414 5.2,1417 5.2,1420 5.2,1423 5.2,1426 5.2,1429 5.2,1432 5.2,1435 5.2,1438 5.2,1441 5.3,1444 5.3,1447 5.3,1450 5.3,1453 5.3,1456 5.3,1459 5.3,1462 5.3,1465 5.3,1468 5.3,1471 5.3,1474 5.3,1477 5.3,1480 5.3,1483.1 5.3,1486.1 5.3,1489.1 5.2,1492.1 5.2,1495.1 5.3,1498.1 5.3,1501.1 5.3,1504.1 5.3,1507.1 5.3,1510.1 5.6,1513 6.2,1516 7.1,1518.8 8.3,1521.6 9.8,1524.2 11.5,1526.7 13.3,1529.1 15.3,1531.3 17.5,1533.4 19.7,1535.4 22,1537.3 24.4,1539.2 26.8,1540.9 29.3,1542.6 31.8,1544.2 34.4,1545.7 37,1547.2 39.6,1548.7 42.3,1550.1 45,1551.4 47.7,1552.7 50.4,1554 53.2,1555.2 55.9,1556.4 58.7,1557.5 61.5,1558.6 64.3,1559.7 67.1,1560.7 70,1561.7 72.8,1562.6 75.7,1563.5 78.5,1564.4 81.4,1565.3 84.3,1566.1 87.1,1567 90,1567.8 92.9,1568.6 95.8,1569.4 98.7,1570.1 101.6,1570.9 104.6,1571.6 107.5,1572.3 110.4,1573 113.3,1573.7 116.2,1574.3 119.2,1575 122.1,1575.6 125,1576.3 128,1576.9 130.9,1577.5 133.8,1578.1 136.8,1578.7 139.7,1579.3 142.7,1579.8 145.6,1580.4 148.6,1580.9 151.5,1581.4 154.5,1582 157.4,1582.5 160.4,1583.1 163.3,1583.6 166.3,1584.2 169.2,1584.8 172.2,1585.3 175.1,1585.9 178.1,1586.5 181,1587 184,1587.6 186.9,1588.1 189.9,1588.7 192.8,1589.2 195.8,1589.7 198.8,1590.2 201.7,1590.7 204.7,1591.2 207.6,1591.7 210.6,1592.2 213.5,1592.7 216.5,1593.2 219.5,1593.7 222.4,1594.2 225.4,1594.6 228.4,1595.1 231.3,1595.6 234.3,1596.1 237.2,1596.6 240.2,1597.1 243.2,1597.5 246.1,1598 249.1,1598.5 252.1,1599 255,1599.4 258,1599.9 260.9,1600.4 263.9,1600.8 266.9,1601.3 269.8,1601.7 272.8,1602.2 275.8,1602.6 278.7,1603.1 281.7,1603.5 284.7,1603.9 287.7,1604.4 290.6,1604.8 293.6,1605.2 296.6,1605.7 299.5,1606.1 302.5,1606.5 305.5,1606.9 308.5,1607.3 311.4,1607.7 314.4,1608.1 317.4,1608.5 320.4,1608.9 323.3,1609.3 326.3,1609.6 329.3,1610 332.3,1610.3 335.3,1610.7 338.2,1611 341.2,1611.4 344.2,1611.7 347.2,1612.1 350.2,1612.4 353.1,1612.7 356.1,1613.1 359.1,1613.4 362.1,1613.7 365.1,1614 368.1,1614.3 371,1614.6 374,1614.9 377,1615.2 380,1615.5 383,1615.8 386,1616.1 389,1616.4 392,1616.6 394.9,1616.9 397.9,1617.2 400.9,1617.5 403.9,1617.7 406.9,1618 409.9,1618.3 412.9,1618.5 415.9,1618.8 418.9,1619.1 421.8,1619.3 424.8,1619.6 427.8,1619.8 430.8,1620.1 433.8,1620.3 436.8,1620.6 439.8,1620.8 442.8,1621 445.8,1621.3 448.8,1621.5 451.8,1621.8 454.8,1622 457.7,1622.2 460.7,1622.5 463.7,1622.7 466.7,1622.9 469.7,1623.2 472.7,1623.4 475.7,1623.6 478.7,1623.8 481.7,1624.1 484.7,1624.3 487.7,1624.5 490.7,1624.7 493.7,1625 496.6,1625.2 499.6,1625.4 502.6,1625.6 505.6,1625.8 508.6,1626 511.6,1626.3 514.6,1626.5 517.6,1626.7 520.6,1626.9 523.6,1627.1 526.6,1627.3 529.6,1627.5 532.6,1627.7 535.6,1627.9 538.6,1628 541.6,1628.2 544.6,1628.4 547.5,1628.6 550.5,1628.8 553.5,1629 556.5,1629.2 559.5,1629.3 562.5,1629.5 565.5,1629.7 568.5,1629.9 571.5,1630 574.5,1630.2 577.5,1630.4 580.5,1630.6 583.5,1630.7 586.5,1630.9 589.5,1631.1 592.5,1631.2 595.5,1631.4 598.5,1631.6 601.5,1631.7 604.5,1631.9 607.5,1632.1 610.5,1632.2 613.5,1632.4 616.5,1632.6 619.5,1632.7 622.4,1632.9 625.4,1633 628.4,1633.2 631.4,1633.4 634.4,1633.5 637.4,1633.7 640.4,1633.8 643.4,1634 646.4,1634.1 649.4,1634.3 652.4,1634.5 655.4,1634.6 658.4,1634.8 661.4,1634.9 664.4,1635.1 667.4,1635.2 670.4,1635.4 673.4,1635.5 676.4,1635.7 679.4,1635.8 682.4,1636 685.4,1636.1 688.4,1636.3 691.4,1636.5 694.4,1636.6 697.4,1636.8 700.4,1636.9 703.4,1637.1 706.4,1637.2 709.4,1637.4 712.4,1637.5 715.4,1637.7 718.4,1637.8 721.4,1638 724.3,1638.1 727.3,1638.3 730.3,1638.4 733.3,1638.6 736.3,1638.7 739.3,1638.9 742.3,1639 745.3,1639.2 748.3,1639.3 751.3,1639.5 754.3,1639.6 757.3,1639.7 760.3,1639.9 763.3,1640 766.3,1640.2 769.3,1640.3 772.3,1640.4 775.3,1640.6 778.3,1640.7 781.3,1640.8 784.3,1641 787.3,1641.1 790.3,1641.2 793.3,1641.4 796.3,1641.5 799.3,1641.6 802.3,1641.8 805.3,1641.9 808.3,1642 811.3,1642.1 814.3,1642.2 817.3,1642.4 820.3,1642.5 823.3,1642.6 826.3,1642.7 829.3,1642.8 832.3,1643 835.3,1643.1 838.3,1643.2 841.3,1643.3 844.3,1643.4 847.3,1643.5 850.3,1643.6 853.3,1643.7 856.3,1643.8 859.3,1644 862.3,1644.1 865.3,1644.2 868.3,1644.3 871.3,1644.4 874.3,1644.5 877.3,1644.6 880.3,1644.7 883.3,1644.8 886.3,1644.9 889.3,1644.9 892.3,1645 895.3,1645.1 898.3,1645.2 901.3,1645.3 904.3,1645.4 907.3,1645.5 910.3,1645.6 913.3,1645.7 916.3,1645.8 919.3,1645.8 922.3,1645.9 925.3,1646 928.3,1646.1 931.3,1646.2 934.3,1646.3 937.3,1646.3 940.3,1646.4 943.3,1646.5 946.3,1646.6 949.3,1646.7 952.3,1646.7 955.3,1646.8 958.3,1646.9 961.3,1647 964.3,1647 967.3,1647.1 970.3,1647.2 973.3,1647.3 976.3,1647.3 979.3,1647.4 982.3,1647.5 985.3,1647.6 988.3,1647.6 991.3,1647.7 994.3,1647.8 997.3,1647.9 1000.3,1647.9 1003.3,1648 1006.3,1648.1 1009.3,1648.1 1012.3,1648.2 1015.3,1648.3 1018.3,1648.3 1021.3,1648.4 1024.3,1648.5 1027.3,1648.5 1030.3,1648.6 1033.3,1648.7 1036.3,1648.7 1039.3,1648.8 1042.3,1648.9 1045.3,1648.9 1048.3,1649 1051.3,1649 1054.3,1649.1 1057.3,1649.2 1060.3,1649.2 1063.3,1649.3 1066.3,1649.3 1069.3,1649.4 1072.3,1649.5 1075.3,1649.5 1078.3,1649.6 1081.3,1649.6 1084.3,1649.7 1087.3,1649.7 1090.3,1649.8 1093.3,1649.8 1096.3,1649.9 1099.3,1649.9 1102.3,1650 1105.3,1650 1108.3,1650.1 1111.3,1650.1 1114.3,1650.2 1117.3,1650.2 1120.3,1650.3 1123.3,1650.3 1126.3,1650.3 1129.3,1650.4 1132.3,1650.4 1135.3,1650.5 1138.3,1650.5 1141.3,1650.6 1144.3,1650.6 1147.3,1650.7 1150.3,1650.7 1153.3,1650.7 1156.3,1650.8 1159.3,1650.8 1162.3,1650.9 1165.3,1650.9 1168.3,1651 1171.3,1651 1174.3,1651 1177.3,1651.1 1180.3,1651.1 1183.3,1651.2 1186.3,1651.2 1189.3,1651.3 1192.3,1651.3 1195.3,1651.3 1198.3,1651.4 1201.3,1651.4 1204.3,1651.4 1207.3,1651.5 1210.3,1651.5 1213.3,1651.6 1216.3,1651.6 1219.3,1651.6 1222.3,1651.7 1225.3,1651.7 1228.3,1651.7 1231.3,1651.7 1234.3,1651.8 1237.3,1651.8 1240.3,1651.8 1243.3,1651.8 1246.3,1651.9 1249.3,1651.9 1252.3,1651.9 1255.3,1651.9 1258.3,1651.9 1261.3,1651.9 1264.3,1651.9 1267.3,1651.9 1270.3,1651.9 1273.3,1651.9 1276.3,1651.8 1279.3,1651.8 1281,1651.7" fill="none" stroke="#000" stroke-width="1.4"/>
<polygon points="1294.3,1651 1281.3,1656.4 1280.8,1647" fill="#000" stroke="#000" stroke-width="1.4"/>
<path d="M1599,277.9 1596,278.4 1593.1,278.9 1590.1,279.3 1587.2,279.8 1584.2,280.2 1581.2,280.6 1578.3,281 1575.3,281.5 1572.3,281.9 1569.4,282.3 1566.4,282.7 1563.4,283.1 1560.5,283.5 1557.5,283.9 1554.5,284.3 1551.5,284.7 1548.6,285.1 1545.6,285.5 1542.6,285.9 1539.7,286.3 1536.7,286.7 1533.7,287.2 1530.8,287.6 1527.8,288 1524.9,288.5 1521.9,289 1518.9,289.4 1516,289.9 1513,290.4 1510.1,291 1507.1,291.5 1504.2,292 1501.3,292.6 1498.3,293.2 1495.4,293.9 1492.5,294.5 1489.5,295.2 1486.6,295.9 1483.7,296.6 1480.8,297.4 1477.9,298.2 1475.1,299 1472.2,299.8 1469.3,300.6 1466.4,301.5 1463.6,302.3 1460.7,303.2 1457.8,304.1 1455,305 1452.1,305.9 1449.3,306.9 1446.4,307.8 1443.6,308.8 1440.8,309.8 1438,310.8 1435.2,311.9 1432.4,312.9 1429.6,314 1426.8,315.1 1424,316.2 1421.2,317.4 1418.5,318.6 1415.7,319.8 1413,321 1410.3,322.3 1407.6,323.6 1405,325 1402.3,326.4 1399.7,327.9 1397.1,329.4 1394.6,331 1392,332.6 1389.6,334.2 1387.1,336 1384.7,337.7 1382.3,339.5 1380,341.4 1377.7,343.4 1375.5,345.4 1373.3,347.5 1371.3,349.6 1369.3,351.9 1367.4,354.2 1365.7,356.7 1364,359.2 1362.6,361.8 1361.3,364.5 1360.1,367.3 1359.1,370.1 1358.3,373 1357.5,375.9 1356.9,378.8 1356.3,381.7 1355.9,384.7 1355.4,387.6 1355,390.6 1354.6,393.6 1354.2,396.6 1353.8,399.5 1353.5,402.5 1353.3,405.5 1353.1,408.5 1353.1,411.5 1353,414.5 1353.1,417.5 1353.1,420.5 1353.1,423.5 1353.2,426.5 1353.2,429.5 1353.2,432.5 1353.2,435.4 1353.3,438.4 1353.4,441.4 1353.5,444.4 1353.5,447.4 1353.6,450.4 1353.8,453.4 1353.9,456.4 1354,459.4 1354.1,462.4 1354.2,465.4 1354.3,468.4 1354.3,471.4 1354.4,474.4 1354.5,477.4 1354.6,480.4 1354.6,483.4 1354.6,486.4 1354.7,489.4 1354.7,492.3 1354.8,495.3 1354.8,498.3 1354.8,501.3 1354.8,504.3 1354.9,507.3 1354.9,510.3 1354.9,513.3 1354.9,516.3 1354.9,519.3 1354.9,522.3 1354.9,525.3 1355,528.3 1355,531.3 1355,534.3 1355,537.3 1355,540.3 1355,543.3 1355,546.3 1355,549.3 1355,552.3 1355,555.3 1355,558.3 1355,561.3 1355,564.2 1355,567.2 1355,570.2 1355,573.2 1355,576.2 1355,579.2 1355,582.2 1355,585.2 1355,588.2 1355,591.2 1355,594.2 1355,597.2 1355,600.2 1355,603.2 1355,606.2 1355,609.2 1355,612.2 1355,615.2 1355,618.2 1354.9,621.2 1354.9,624.2 1354.9,627.2 1354.9,630.2 1354.9,633.2 1354.9,636.1 1354.9,639.1 1354.8,642.1 1354.8,645.1 1354.8,648.1 1354.8,651.1 1354.8,654.1 1354.7,657.1 1354.7,660.1 1354.7,663.1 1354.7,666.1 1354.7,669.1 1354.6,672.1 1354.6,675.1 1354.6,678.1 1354.6,681.1 1354.6,684.1 1354.6,687.1 1354.5,690.1 1354.5,693.1 1354.5,696.1 1354.5,699.1 1354.5,702.1 1354.5,705 1354.5,708 1354.5,711 1354.5,714 1354.5,717 1354.4,720 1354.4,723 1354.4,726 1354.4,729 1354.4,732 1354.4,735 1354.4,738 1354.4,741 1354.4,744 1354.4,747 1354.4,750 1354.4,753 1354.4,756 1354.4,759 1354.4,762 1354.4,765 1354.4,768 1354.4,771 1354.4,774 1354.3,776.9 1354.3,779.9 1354.3,782.9 1354.3,785.9 1354.3,788.9 1354.3,791.9 1354.3,794.9 1354.3,797.9 1354.3,800.9 1354.3,803.9 1354.3,806.9 1354.3,809.9 1354.3,812.9 1354.3,815.9 1354.2,818.9 1354.2,821.9 1354.2,824.9 1354.2,827.9 1354.2,830.9 1354.2,833.9 1354.2,836.9 1354.2,839.9 1354.2,842.9 1354.1,845.9 1354.1,848.9 1354.1,851.8 1354.1,854.8 1354.1,857.8 1354.1,860.8 1354.1,863.8 1354.1,866.8 1354.1,869.8 1354,871.5" fill="none" stroke="#000" stroke-width="1.4"/>
<polygon points="1354,884.8 1349.3,871.5 1358.7,871.5" fill="#000" stroke="#000" stroke-width="1.4"/>
<path d="M1655.4,290.3 1587.7,433.2" fill="none" stroke="#000" stroke-width="1.4"/>
<polygon points="1582,445.2 1583.4,431.2 1591.9,435.2" fill="#000" stroke="#000" stroke-width="1.4"/>
<path d="M1636.2,290.3 1633,292.8 1629.9,295.2 1626.8,297.6 1623.6,299.9 1620.5,302.4 1617.4,304.8 1614.3,307.3 1611.2,309.7 1608.1,312.2 1605,314.7 1601.9,317.3 1598.8,319.8 1595.7,322.4 1592.7,325 1589.6,327.6 1586.6,330.3 1583.6,332.9 1580.5,335.6 1577.5,338.3 1574.5,341 1571.6,343.7 1568.6,346.5 1565.6,349.2 1562.7,352 1559.7,354.8 1556.8,357.6 1553.9,360.5 1551,363.3 1548.1,366.2 1545.3,369.1 1542.4,372 1539.6,374.9 1536.8,377.9 1534,380.8 1531.2,383.8 1528.4,386.8 1525.7,389.8 1523,392.9 1520.2,395.9 1517.6,399 1514.9,402.1 1512.2,405.2 1509.6,408.3 1507,411.4 1504.4,414.6 1501.8,417.7 1499.3,420.9 1496.8,424.1 1494.3,427.3 1491.8,430.5 1489.3,433.8 1486.9,437 1484.5,440.3 1482.1,443.6 1479.7,446.9 1477.4,450.2 1475.1,453.6 1472.8,456.9 1470.6,460.3 1468.3,463.7 1466.1,467.1 1464,470.5 1461.8,473.9 1459.7,477.3 1457.6,480.8 1455.5,484.2 1453.5,487.7 1451.5,491.2 1449.5,494.7 1447.6,498.2 1445.7,501.8 1443.8,505.3 1442,508.9 1440.2,512.5 1438.4,516.1 1436.6,519.7 1434.9,523.3 1433.2,526.9 1431.6,530.5 1430,534.2 1428.4,537.9 1426.9,541.5 1425.4,545.2 1423.9,548.9 1422.5,552.6 1421.1,556.4 1419.7,560.1 1418.4,563.9 1417.1,567.6 1415.9,571.4 1414.7,575.2 1413.5,579 1412.4,582.8 1411.3,586.6 1410.2,590.4 1409.2,594.3 1408.3,598.1 1407.3,602 1406.5,605.9 1405.6,609.7 1404.8,613.6 1404.1,617.5 1403.4,621.5 1402.7,625.4 1402.1,629.3 1401.5,633.3 1401,637.2 1400.5,641.2 1400.1,645.2 1399.7,649.2 1399.3,653.1 1399,657.1 1398.8,661.2 1398.5,665.2 1398.4,669.2 1398.2,673.2 1398.2,677.2 1398.1,681.3 1398.1,685.3 1398.2,689.4 1398.3,693.4 1398.4,697.5 1398.6,701.5 1398.8,705.6 1399,709.6 1399.3,713.7 1399.7,717.7 1400.1,721.8 1400.5,725.8 1401,729.8 1401.5,733.9 1402,737.9 1402.6,742 1403.2,746 1403.9,750 1404.6,754 1405.3,758 1406.1,762 1406.9,766 1407.8,770 1408.6,774 1409.6,777.9 1410.5,781.9 1411.5,785.8 1412.6,789.8 1413.7,793.7 1414.8,797.6 1415.9,801.5 1417.1,805.4 1418.3,809.2 1419.6,813.1 1420.8,816.9 1422.2,820.7 1423.5,824.5 1424.9,828.3 1426.3,832.1 1427.8,835.8 1429.3,839.6 1430.8,843.3 1432.3,847 1433.9,850.6 1435.5,854.3 1437.2,857.9 1438.9,861.5 1440.6,865.1 1442.3,868.7 1444,872.2 1445.7,875.8 1447.4,879.4 1449.1,883 1450.8,886.5 1452.5,890.1 1454.1,893.8 1455.7,897.4 1457.2,901.1 1458.7,904.8 1460.1,908.5 1461.5,912.2 1462.8,916 1464.1,919.8 1465.4,923.7 1466.6,927.5 1467.8,931.4 1469,935.3 1470.2,939.1 1471.4,943 1472.5,946.9 1473.7,950.8 1474.9,954.7 1476.1,958.5 1477.4,962.4 1478.7,966.2 1480,970 1481.3,973.8 1482.7,977.6 1484.2,981.3 1485.7,985 1487.3,988.7 1489,992.3 1490.7,995.8 1492.5,999.3 1494.4,1002.8 1496.4,1006.2 1498.6,1009.5 1500.8,1012.7 1503.1,1015.9 1505.6,1019 1508.2,1022 1510.9,1025 1513.7,1027.8 1516.7,1030.5 1519.9,1033.2 1523,1035.3" fill="none" stroke="#000" stroke-width="1.4"/>
<polygon points="1534,1042.8 1520.4,1039.2 1525.7,1031.4" fill="#000" stroke="#000" stroke-width="1.4"/>
<path d="M1666.6,290.3 1666.7,294.4 1666.8,298.4 1666.9,302.5 1667,306.6 1667.1,310.6 1667.1,314.7 1667.2,318.7 1667.2,322.8 1667.2,326.9 1667.2,330.9 1667.2,335 1667.2,339 1667.1,343.1 1667.1,347.2 1667,351.2 1666.9,355.3 1666.8,359.3 1666.6,363.4 1666.5,367.4 1666.3,371.5 1666.2,375.5 1666,379.6 1665.8,383.6 1665.6,387.7 1665.3,391.7 1665.1,395.7 1664.8,399.8 1664.6,403.8 1664.3,407.9 1664,411.9 1663.7,415.9 1663.3,420 1663,424 1662.7,428.1 1662.3,432.1 1661.9,436.1 1661.5,440.1 1661.1,444.2 1660.7,448.2 1660.3,452.2 1659.8,456.3 1659.4,460.3 1658.9,464.3 1658.4,468.3 1657.9,472.4 1657.4,476.4 1656.9,480.4 1656.4,484.4 1655.9,488.4 1655.3,492.4 1654.8,496.5 1654.2,500.5 1653.6,504.5 1653,508.5 1652.4,512.5 1651.8,516.5 1651.2,520.5 1650.6,524.5 1649.9,528.5 1649.3,532.5 1648.6,536.5 1647.9,540.5 1647.3,544.5 1646.6,548.5 1645.9,552.5 1645.2,556.5 1644.4,560.5 1643.7,564.5 1643,568.5 1642.2,572.5 1641.5,576.4 1640.7,580.4 1639.9,584.4 1639.1,588.4 1638.4,592.4 1637.6,596.3 1636.8,600.3 1635.9,604.3 1635.1,608.3 1634.3,612.2 1633.5,616.2 1632.6,620.2 1631.8,624.2 1630.9,628.1 1630,632.1 1629.2,636 1628.3,640 1627.4,644 1626.5,647.9 1625.6,651.9 1624.7,655.8 1623.8,659.8 1622.9,663.7 1621.9,667.7 1621,671.6 1620.1,675.6 1619.1,679.5 1618.2,683.5 1617.2,687.4 1616.3,691.4 1615.3,695.3 1614.3,699.2 1613.4,703.2 1612.4,707.1 1611.4,711 1610.4,715 1609.4,718.9 1608.4,722.8 1607.7,725.6" fill="none" stroke="#000" stroke-width="1.4"/>
<polygon points="1604.4,738.5 1603.1,724.4 1612.3,726.8" fill="#000" stroke="#000" stroke-width="1.4"/>
<path d="M1667.5,290.3 1667.9,294.3 1668.2,298.3 1668.5,302.3 1668.8,306.4 1669.1,310.4 1669.4,314.4 1669.7,318.4 1670.1,322.4 1670.4,326.5 1670.7,330.5 1671,334.5 1671.3,338.5 1671.6,342.5 1671.9,346.5 1672.3,350.6 1672.6,354.6 1672.9,358.6 1673.2,362.6 1673.5,366.6 1673.8,370.6 1674.2,374.7 1674.5,378.7 1674.8,382.7 1675.1,386.7 1675.4,390.7 1675.8,394.8 1676.1,398.8 1676.4,402.8 1676.7,406.8 1677,410.8 1677.4,414.8 1677.7,418.9 1678,422.9 1678.3,426.9 1678.7,430.9 1679,434.9 1679.3,438.9 1679.6,443 1679.9,447 1680.3,451 1680.6,455 1680.9,459 1681.2,463 1681.6,467.1 1681.9,471.1 1682.2,475.1 1682.5,479.1 1682.9,483.1 1683.2,487.1 1683.5,491.2 1683.8,495.2 1684.2,499.2 1684.5,503.2 1684.8,507.2 1685.1,511.3 1685.4,515.3 1685.8,519.3 1686.1,523.3 1686.4,527.3 1686.7,531.3 1687.1,535.4 1687.4,539.4 1687.7,543.4 1688,547.4 1688.4,551.4 1688.7,555.4 1689,559.5 1689.3,563.5 1689.6,567.5 1690,571.5 1690.3,575.5 1690.6,579.5 1690.9,583.6 1691.2,587.6 1691.6,591.6 1691.9,595.6 1692.2,599.6 1692.5,603.7 1692.8,607.7 1693.2,611.7 1693.5,615.7 1693.8,619.7 1694.1,623.7 1694.4,627.8 1694.7,631.8 1695.1,635.8 1695.4,639.8 1695.7,643.8 1696,647.8 1696.3,651.9 1696.6,655.9 1696.9,659.9 1697.3,663.9 1697.6,667.9 1697.9,672 1698.2,676 1698.5,680 1698.8,684 1699.1,688 1699.4,692 1699.7,696.1 1700,700.1 1700.3,704.1 1700.6,708.1 1701,712.1 1701.3,716.2 1701.6,720.2 1701.9,724.2 1702.2,728.2 1702.5,732.2 1702.8,736.2 1703.1,740.3 1703.4,744.3 1703.7,748.3 1704,752.3 1704.2,756.3 1704.5,760.4 1704.8,764.4 1705.1,768.4 1705.4,772.4 1705.7,776.4 1706,780.5 1706.3,784.5 1706.6,788.5 1706.9,792.5 1707.2,796.5 1707.4,800.6 1707.7,804.6 1708,808.6 1708.3,812.6 1708.6,816.6 1708.8,820.7 1709.1,824.7 1709.4,828.7 1709.7,832.7 1710,836.7 1710.2,840.8 1710.5,844.8 1710.8,848.8 1711,852.8 1711.3,856.8 1711.6,860.9 1711.8,864.9 1712.1,868.9 1712.3,871.7" fill="none" stroke="#000" stroke-width="1.4"/>
<polygon points="1713.1,885 1707.6,872 1717,871.4" fill="#000" stroke="#000" stroke-width="1.4"/>
<path d="M1670.8,290.3 1671.5,294.2 1672.1,298.1 1672.8,302.1 1673.5,306 1674.3,309.9 1675.1,313.9 1676,317.8 1677,321.7 1678,325.7 1679,329.6 1680.1,333.5 1681.3,337.4 1682.5,341.3 1683.8,345.1 1685.1,349 1686.5,352.8 1687.9,356.6 1689.4,360.4 1690.9,364.2 1692.5,367.9 1694.2,371.6 1695.9,375.3 1697.6,379 1699.4,382.6 1701.3,386.2 1703.2,389.8 1705.2,393.3 1707.3,396.8 1709.4,400.2 1711.5,403.6 1713.7,407 1716,410.3 1718.3,413.6 1720.7,416.8 1723.1,419.9 1725.6,423.1 1728.1,426.1 1730.7,429.1 1733.4,432.1 1736.1,435 1738.8,437.8 1741.6,440.6 1744.5,443.3 1747.4,446 1750.4,448.5 1753.5,451.1 1756.6,453.5 1759.7,455.9 1762.9,458.2 1766.2,460.4 1769.5,462.5 1772.9,464.6 1776.3,466.7 1779.8,468.6 1783.3,470.5 1786.8,472.4 1790.4,474.2 1794.1,475.9 1797.7,477.6 1801.4,479.2 1805.1,480.8 1808.9,482.4 1812.6,483.9 1816.4,485.4 1820.2,486.8 1824.1,488.2 1827.9,489.6 1831.7,491 1835.6,492.3 1839.5,493.6 1843.4,494.9 1847.2,496.2 1851.1,497.5 1855,498.7 1858.9,500 1862.7,501.2 1866.6,502.5 1870.4,503.7 1874.2,505 1878,506.3 1881.8,507.6 1885.6,509 1889.3,510.4 1893,511.8 1896.7,513.3 1900.4,514.8 1904,516.4 1907.5,518.1 1911.1,519.8 1914.6,521.6 1918,523.4 1921.5,525.3 1924.8,527.3 1928.2,529.3 1931.5,531.4 1934.7,533.6 1937.9,535.9 1941,538.2 1944.1,540.7 1947.2,543.2 1950.2,545.7 1953.1,548.4 1956,551.1 1958.8,553.9 1961.6,556.7 1964.4,559.7 1967,562.6 1969.7,565.7 1972.3,568.7 1974.8,571.9 1977.3,575.1 1979.7,578.3 1982.1,581.6 1984.4,584.9 1986.6,588.3 1988.9,591.7 1991,595.2 1993.1,598.7 1995.2,602.2 1997.2,605.7 1999.1,609.3 2001,612.9 2002.8,616.6 2004.6,620.2 2006.3,623.9 2007.9,627.6 2009.5,631.4 2011.1,635.1 2012.5,638.9 2014,642.7 2015.3,646.5 2016.6,650.3 2017.8,654.1 2019,658 2020.1,661.9 2021.1,665.8 2022.1,669.7 2023,673.6 2023.8,677.5 2024.6,681.5 2025.3,685.4 2025.9,689.4 2026.5,693.3 2027,697.3 2027.4,701.3 2027.7,705.3 2028,709.3 2028.2,713.3 2028.3,717.3 2028.4,721.3 2028.4,725.3 2028.3,729.3 2028.1,733.3 2027.9,737.3 2027.6,741.3 2027.2,745.2 2026.8,749.2 2026.3,753.2 2025.8,757.2 2025.1,761.2 2024.5,765.1 2023.7,769.1 2022.9,773 2022,776.9 2021.1,780.8 2020.1,784.7 2019,788.6 2017.9,792.5 2016.7,796.4 2015.5,800.2 2014.2,804 2012.8,807.8 2011.4,811.6 2009.9,815.3 2008.4,819.1 2006.8,822.8 2005.1,826.5 2003.4,830.1 2001.7,833.8 1999.9,837.4 1998,841 1996.1,844.5 1994.1,848 1992.1,851.5 1990,855 1987.9,858.4 1985.7,861.8 1983.5,865.1 1981.2,868.5 1978.9,871.7 1977.3,873.9" fill="none" stroke="#000" stroke-width="1.4"/>
<polygon points="1969.2,884.5 1973.5,871.1 1981,876.8" fill="#000" stroke="#000" stroke-width="1.4"/>
<path d="M1707.5,384.4 1704.6,385.1 1701.7,385.7 1698.7,386.4 1695.8,387.1 1692.9,387.7 1689.9,388.4 1687,389.1 1684.1,389.7 1681.2,390.4 1678.2,391 1675.3,391.6 1672.4,392.3 1669.4,392.9 1666.5,393.6 1663.6,394.2 1660.6,394.9 1657.7,395.5 1654.8,396.2 1651.8,396.8 1648.9,397.5 1646,398.1 1643.1,398.8 1640.1,399.5 1637.2,400.1 1634.3,400.8 1631.4,401.5 1628.4,402.2 1625.5,402.9 1622.6,403.6 1619.7,404.3 1616.8,405 1613.8,405.7 1610.9,406.4 1608,407.1 1605.1,407.9 1602.2,408.6 1599.3,409.4 1596.4,410.2 1593.5,410.9 1590.6,411.7 1587.7,412.5 1584.8,413.3 1581.9,414.1 1579,414.9 1576.1,415.7 1573.3,416.6 1570.4,417.4 1567.5,418.2 1564.6,419 1561.7,419.9 1558.8,420.7 1556,421.6 1553.1,422.4 1550.2,423.3 1547.3,424.2 1544.5,425 1541.6,425.9 1538.7,426.8 1535.9,427.7 1533,428.6 1530.1,429.5 1527.3,430.4 1524.4,431.3 1521.5,432.2 1518.7,433.1 1515.8,434 1513,434.9 1510.1,435.9 1507.3,436.8 1504.4,437.7 1501.6,438.7 1498.7,439.6 1495.9,440.6 1493,441.6 1490.2,442.5 1487.3,443.5 1484.5,444.5 1481.7,445.4 1478.8,446.4 1476,447.4 1473.2,448.4 1470.3,449.4 1467.5,450.4 1464.7,451.4 1461.9,452.4 1459,453.5 1456.2,454.5 1453.4,455.5 1450.6,456.5 1447.8,457.6 1445,458.6 1442.1,459.7 1439.3,460.7 1436.5,461.8 1433.7,462.8 1430.9,463.9 1428.1,465 1425.3,466 1422.5,467.1 1419.7,468.2 1416.9,469.3 1414.1,470.3 1411.3,471.4 1408.5,472.5 1405.7,473.6 1402.9,474.7 1400.1,475.8 1397.3,476.9 1394.5,478 1391.7,479.1 1388.9,480.2 1386.1,481.3 1383.4,482.4 1380.6,483.5 1377.8,484.6 1375,485.8 1372.2,486.9 1369.4,488 1366.6,489.1 1363.9,490.3 1361.1,491.4 1358.3,492.5 1355.5,493.7 1352.8,494.8 1350,496 1347.2,497.1 1344.4,498.3 1341.7,499.4 1338.9,500.6 1336.1,501.8 1333.4,502.9 1330.6,504.1 1327.9,505.3 1325.1,506.5 1322.4,507.7 1319.6,508.9 1316.9,510.1 1314.1,511.3 1311.4,512.6 1308.6,513.8 1305.9,515 1303.2,516.3 1300.4,517.5 1297.7,518.7 1295,520 1292.3,521.2 1289.5,522.5 1286.8,523.8 1284.1,525 1281.4,526.3 1278.6,527.6 1275.9,528.8 1273.2,530.1 1270.5,531.4 1267.8,532.7 1265.1,534 1262.4,535.3 1259.7,536.6 1257,537.9 1254.3,539.2 1251.6,540.6 1248.9,541.9 1246.2,543.3 1243.6,544.6 1240.9,546 1238.2,547.4 1235.5,548.7 1232.9,550.1 1230.2,551.5 1227.5,552.9 1224.9,554.3 1222.2,555.7 1219.6,557.1 1216.9,558.5 1214.3,559.9 1211.6,561.3 1209,562.8 1206.4,564.2 1203.7,565.6 1201.1,567.1 1198.5,568.5 1195.8,569.9 1193.2,571.4 1190.6,572.8 1187.9,574.3 1185.3,575.7 1182.7,577.2 1180,578.6 1177.4,580.1 1174.8,581.5 1172.2,583 1169.5,584.4 1166.9,585.9 1164.3,587.3 1161.7,588.8 1159,590.3 1156.4,591.7 1153.8,593.2 1151.2,594.6 1148.5,596.1 1145.9,597.5 1143.3,599 1140.7,600.4 1138,601.9 1135.4,603.3 1132.8,604.8 1130.2,606.2 1127.5,607.7 1124.9,609.1 1122.3,610.6 1119.6,612 1117,613.5 1114.4,614.9 1111.7,616.4 1109.1,617.8 1106.5,619.2 1103.8,620.7 1101.2,622.1 1098.6,623.5 1095.9,624.9 1093.3,626.4 1090.6,627.8 1088,629.2 1085.3,630.6 1082.7,632.1 1080.1,633.5 1077.4,634.9 1074.8,636.4 1072.2,637.8 1069.5,639.3 1066.9,640.7 1064.3,642.1 1061.6,643.6 1059,645 1056.3,646.4 1053.7,647.9 1051.1,649.3 1048.4,650.7 1045.8,652.2 1043.2,653.6 1040.5,655 1037.9,656.5 1035.2,657.9 1032.6,659.3 1030,660.7 1027.3,662.1 1024.7,663.6 1022,665 1019.4,666.4 1016.7,667.8 1014.1,669.2 1011.4,670.6 1008.7,672 1006.1,673.4 1003.4,674.7 1000.7,676.1 998.1,677.5 995.4,678.8 992.7,680.2 990,681.6 987.4,682.9 984.7,684.3 982,685.6 979.3,686.9 976.6,688.2 973.9,689.6 971.2,690.9 968.5,692.2 965.8,693.5 963.1,694.8 960.4,696.1 957.7,697.3 955,698.6 952.2,699.9 949.5,701.2 946.8,702.5 944.1,703.7 941.4,705 938.6,706.3 935.9,707.5 933.2,708.8 930.5,710 927.7,711.3 925,712.5 922.3,713.7 919.5,715 916.8,716.2 914,717.4 911.3,718.6 908.6,719.8 905.8,721.1 903.1,722.3 900.3,723.5 897.6,724.7 894.8,725.9 892,727 889.3,728.2 886.5,729.4 883.8,730.6 881,731.7 878.2,732.9 875.5,734.1 872.7,735.2 869.9,736.4 867.2,737.5 864.4,738.7 861.6,739.8 858.8,740.9 856,742.1 853.3,743.2 850.5,744.3 847.7,745.4 844.9,746.5 842.1,747.6 839.3,748.7 836.5,749.8 833.7,750.9 830.9,751.9 828.1,753 825.3,754.1 822.5,755.1 819.7,756.2 816.9,757.3 814.1,758.3 811.2,759.3 808.4,760.4 805.6,761.4 802.8,762.4 800,763.5 797.1,764.5 794.3,765.5 791.5,766.5 788.7,767.5 785.8,768.5 783,769.5 780.2,770.5 777.3,771.4 774.5,772.4 771.6,773.4 768.8,774.3 765.9,775.3 763.1,776.2 760.2,777.2 757.4,778.1 754.5,779 751.7,779.9 748.8,780.8 745.9,781.7 743.1,782.6 740.2,783.5 737.3,784.3 734.4,785.2 731.6,786 728.7,786.8 725.8,787.6 722.9,788.4 720,789.1 717.1,789.9 714.1,790.6 711.2,791.3 708.3,792 705.4,792.7 702.5,793.3 699.5,794 696.6,794.6 693.6,795.2 690.7,795.7 687.7,796.3 684.8,796.8 681.8,797.4 678.9,797.9 675.9,798.4 673,798.9 670,799.4 667,799.9 664.1,800.4 661.1,800.9 658.2,801.3 655.2,801.8 652.2,802.2 649.2,802.6 646.3,803 643.3,803.3 640.3,803.7 637.3,804 634.3,804.2 631.3,804.5 628.3,804.7 625.3,804.9 622.3,805 619.3,805.1 616.3,805.2 613.3,805.2 610.3,805.3 607.3,805.2 604.3,805.2 601.3,805.1 598.3,805 595.3,804.9 592.3,804.8 589.3,804.7 586.3,804.5 583.3,804.4 580.4,804.2 577.4,804 574.4,803.8 571.4,803.6 568.4,803.4 565.4,803.2 562.4,803 559.4,802.8 556.4,802.6 553.4,802.4 550.4,802.2 547.4,802 544.4,801.8 541.4,801.6 538.4,801.5 535.4,801.3 532.4,801.1 529.4,801 526.4,800.8 523.4,800.7 520.4,800.6 517.4,800.4 514.4,800.3 511.4,800.1 508.4,800 505.4,799.8 502.5,799.6 499.5,799.4 496.5,799.2 493.5,799.1 490.5,798.9 487.5,798.7 484.5,798.6 481.5,798.5 478.5,798.3 475.5,798.2 472.5,798.2 469.5,798.1 466.5,798.1 463.5,798.1 460.5,798.1 457.5,798.2 454.5,798.3 451.5,798.4 448.5,798.6 445.5,798.7 442.5,798.9 439.5,799.1 436.5,799.2 433.5,799.4 430.5,799.6 427.5,799.8 424.5,800.1 421.5,800.3 418.5,800.6 415.5,800.9 412.6,801.2 409.6,801.6 406.6,802 403.6,802.4 400.7,802.9 397.7,803.5 394.8,804 391.8,804.7 388.9,805.4 386,806.1 383.1,806.9 380.3,807.8 377.4,808.7 374.6,809.8 371.8,810.8 369,812 366.2,813.1 363.5,814.4 360.8,815.7 358.1,817 355.4,818.4 352.8,819.8 350.1,821.2 347.5,822.7 344.9,824.2 342.4,825.7 339.8,827.3 337.3,828.9 334.8,830.5 332.3,832.2 329.8,833.9 327.3,835.6 324.9,837.4 322.4,839.1 320,840.9 317.7,842.8 315.3,844.7 313,846.6 310.8,848.6 308.6,850.6 306.4,852.7 304.3,854.8 302.2,857 300.2,859.2 298.2,861.4 296.3,863.7 294.4,866 292.5,868.4 290.7,870.8 288.9,873.2 287.1,875.6 285.5,878.1 283.8,880.6 282.2,883.2 280.6,885.7 279.1,888.3 277.6,890.9 276.2,893.6 274.9,896.2 273.6,899 272.4,901.7 271.3,904.5 270.2,907.3 269.3,910.2 268.5,913 267.7,916 267.1,918.9 266.6,921.9 266.3,924.8 266,927.8 265.9,930.8 265.9,933.8 266.1,936.8 266.5,939.8 266.9,942.8 267.5,945.7 268.2,948.6 268.9,951.5 269.7,954.4 270.6,957.3 271.5,960.2 272.5,963 273.6,965.8 274.7,968.6 275.9,971.3 277.1,974.1 278.4,976.8 279.8,979.5 281.2,982.1 282.6,984.8 284.1,987.4 285.6,989.9 287.2,992.5 288.9,995 290.6,997.5 292.3,999.9 294.1,1002.3 296,1004.7 297.8,1007 299.7,1009.4 301.6,1011.7 303.5,1014 305.4,1016.3 307.3,1018.7 309.2,1021 311.1,1023.3 313,1025.7 314.8,1028 316.7,1030.4 318.6,1032.7 320.4,1035.1 322.3,1037.4 324.1,1039.8 326,1042.2 327.8,1044.5 329.7,1046.9 331.6,1049.2 333.4,1051.6 335.3,1053.9 337.2,1056.3 339.1,1058.6 341,1060.9 342.9,1063.3 344.8,1065.6 346.7,1067.9 348.6,1070.2 350.6,1072.4 352.6,1074.7 354.5,1077 356.6,1079.2 358.6,1081.4 360.6,1083.6 362.7,1085.7 364.9,1087.9 367,1089.9 369.2,1092 371.4,1094.1 373.6,1096.1 375.8,1098.1 378.1,1100 380.5,1101.9 382.8,1103.8 385.2,1105.5 387.7,1107.3 390.2,1108.9 392.7,1110.6 395.3,1112.2 397.8,1113.7 400.5,1115.1 403.1,1116.5 405.8,1117.9 408.5,1119.2 411.2,1120.4 414,1121.7 416.7,1122.9 419.5,1124.1 422.3,1125.2 425,1126.3 427.8,1127.5 430.6,1128.6 433.4,1129.7 436.2,1130.7 439,1131.8 441.8,1132.9 444.6,1134 447.4,1135.1 450.2,1136.2 453,1137.2 455.9,1138.1 458.7,1139 461.6,1139.9 464.5,1140.7 467.4,1141.6 470.3,1142.4 473.1,1143.3 476,1144.2 478.8,1145.2 481.6,1146.3 484.4,1147.4 487.1,1148.7 489.8,1150.1 492.4,1151.5 495,1153 497.6,1154.6 500.1,1156.2 502.6,1157.9 505,1159.7 507.3,1161.6 509.6,1163.5 511.7,1165.6 513.8,1167.8 515.7,1170.1 517.4,1172.6 519,1175.1 520.4,1177.8 521.7,1180.5 522.9,1183.2 524,1186 525,1188.9 525.9,1191.7 526.7,1194.6 527.4,1197.5 528.1,1200.5 528.7,1203.4 529.1,1206.4 529.3,1209.4 529.5,1212.4 529.5,1215.4 529.5,1218.4 529.4,1221.4 529.3,1224.4 529.3,1227.4 529.3,1230.4 529.4,1233.4 529.4,1236.4 529.4,1239.4 529.4,1242.4 529.4,1245.4 529.4,1248.4 529.4,1251.4 529.4,1254.4 529.4,1257.4 529.4,1260.4 529.4,1263.4 529.4,1266.4 529.4,1269.4 529.4,1272.4 529.4,1275.4 529.4,1278.4 529.4,1281.4 529.4,1284.4 529.4,1287.4 529.4,1290.4 529.4,1293.4 529.4,1296.4 529.4,1299.4 529.4,1302.4 529.4,1305.4 529.4,1308.4 529.4,1311.4 529.4,1314.4 529.4,1317.4 529.4,1320.4 529.4,1323.4 529.4,1326.4 529.4,1329.4 529.4,1332.4 529.4,1335.4 529.4,1338.4 529.4,1341.4 529.4,1344.4 529.4,1347.4 529.4,1350.4 529.4,1353.4 529.4,1356.4 529.4,1359.4 529.4,1362.4 529.4,1365.4 529.4,1368.4 529.4,1371.4 529.4,1374.4 529.4,1377.4 529.4,1380.4 529.4,1383.5 529.4,1386.5 529.4,1389.5 529.4,1392.5 529.4,1395.5 529.4,1398.5 529.4,1401.5 529.4,1404.5 529.4,1407.5 529.4,1410.5 529.4,1413.5 529.4,1416.5 529.4,1419.5 529.4,1422.5 529.4,1425.5 529.4,1428.5 529.4,1431.5 529.4,1434.5 529.4,1437.5 529.4,1440.5 529.4,1443.5 529.4,1446.5 529.4,1449.5 529.4,1452.5 529.4,1455.5 529.4,1458.5 529.4,1461.5 529.4,1464.5 529.4,1467.5 529.4,1470.5 529.4,1473.5 529.4,1476.5 529.3,1479.5 529.3,1482.5 529.3,1485.5 529.3,1488.5 529.2,1491.5 529.3,1494.5 529.3,1497.5 529.4,1500.5 529.5,1503.5 529.5,1506.5 529.6,1509.5 529.9,1512.5 530.5,1515.4 531.8,1518.1 533.5,1520.6 535.5,1522.8 537.7,1524.9 539.9,1526.8 542.3,1528.7 544.8,1530.4 547.3,1532 549.9,1533.6 552.5,1535.1 555.1,1536.6 557.7,1538 560.4,1539.4 563,1540.8 565.8,1542.1 568.5,1543.3 571.2,1544.5 574,1545.7 576.8,1546.9 579.5,1548 582.3,1549.1 585.2,1550.1 588,1551.1 590.8,1552.1 593.6,1553.1 596.5,1554.1 599.3,1555 602.2,1556 605,1556.9 607.9,1557.8 610.8,1558.6 613.7,1559.5 616.5,1560.3 619.4,1561.2 622.3,1562 625.2,1562.8 628.1,1563.5 631,1564.3 633.9,1565.1 636.8,1565.8 639.7,1566.5 642.7,1567.2 645.6,1567.9 648.5,1568.6 651.4,1569.3 654.4,1569.9 657.3,1570.5 660.2,1571.1 663.2,1571.7 666.1,1572.2 669.1,1572.8 672,1573.4 675,1573.9 677.9,1574.5 680.9,1575 683.8,1575.6 686.8,1576.2 689.7,1576.7 692.7,1577.3 695.6,1577.9 698.6,1578.4 701.5,1579 704.5,1579.6 707.4,1580.1 710.4,1580.7 713.3,1581.2 716.3,1581.7 719.2,1582.3 722.2,1582.8 725.1,1583.3 728.1,1583.9 731,1584.4 734,1584.9 737,1585.4 739.9,1585.9 742.9,1586.4 745.8,1587 748.8,1587.5 751.7,1588 754.7,1588.5 757.7,1589 760.6,1589.5 763.6,1590 766.5,1590.5 769.5,1591 772.4,1591.5 775.4,1592 778.4,1592.5 781.3,1593 784.3,1593.5 787.3,1594 790.2,1594.5 793.2,1594.9 796.1,1595.4 799.1,1595.9 802.1,1596.4 805,1596.8 808,1597.3 811,1597.8 813.9,1598.2 816.9,1598.7 819.9,1599.2 822.8,1599.6 825.8,1600.1 828.8,1600.5 831.7,1600.9 834.7,1601.4 837.7,1601.8 840.6,1602.2 843.6,1602.6 846.6,1603.1 849.6,1603.5 852.5,1603.9 855.5,1604.3 858.5,1604.7 861.5,1605.1 864.4,1605.4 867.4,1605.8 870.4,1606.2 873.4,1606.6 876.3,1607 879.3,1607.3 882.3,1607.7 885.3,1608.1 888.3,1608.4 891.2,1608.8 894.2,1609.2 897.2,1609.5 900.2,1609.9 903.2,1610.2 906.1,1610.6 909.1,1610.9 912.1,1611.3 915.1,1611.6 918.1,1612 921,1612.3 924,1612.7 927,1613 930,1613.3 933,1613.7 936,1614 938.9,1614.4 941.9,1614.7 944.9,1615 947.9,1615.4 950.9,1615.7 953.9,1616.1 956.8,1616.4 959.8,1616.7 962.8,1617.1 965.8,1617.4 968.8,1617.8 971.7,1618.1 974.7,1618.4 977.7,1618.8 980.7,1619.1 983.7,1619.5 986.7,1619.8 989.6,1620.1 992.6,1620.5 995.6,1620.8 998.6,1621.2 1001.6,1621.5 1004.5,1621.9 1007.5,1622.2 1010.5,1622.6 1013.5,1622.9 1016.5,1623.3 1019.4,1623.6 1022.4,1624 1025.4,1624.3 1028.4,1624.7 1031.4,1625 1034.4,1625.4 1037.3,1625.7 1040.3,1626 1043.3,1626.4 1046.3,1626.7 1049.3,1627.1 1052.2,1627.4 1055.2,1627.7 1058.2,1628.1 1061.2,1628.4 1064.2,1628.7 1067.2,1629.1 1070.1,1629.4 1073.1,1629.7 1076.1,1630.1 1079.1,1630.4 1082.1,1630.7 1085.1,1631 1088,1631.3 1091,1631.6 1094,1631.9 1097,1632.2 1100,1632.5 1103,1632.8 1106,1633.1 1109,1633.4 1111.9,1633.7 1114.9,1634 1117.9,1634.3 1120.9,1634.6 1123.9,1634.8 1126.9,1635.1 1129.9,1635.4 1132.9,1635.6 1135.9,1635.9 1138.8,1636.1 1141.8,1636.3 1144.8,1636.6 1147.8,1636.8 1150.8,1637 1153.8,1637.2 1156.8,1637.5 1159.8,1637.7 1162.8,1637.9 1165.8,1638.1 1168.8,1638.3 1171.8,1638.5 1174.8,1638.7 1177.8,1638.9 1180.8,1639.1 1183.8,1639.3 1186.8,1639.5 1189.7,1639.7 1192.7,1639.9 1195.7,1640.1 1198.7,1640.2 1201.7,1640.4 1204.7,1640.6 1207.7,1640.8 1210.7,1641 1213.7,1641.2 1216.7,1641.4 1219.7,1641.6 1222.7,1641.8 1225.7,1641.9 1228.7,1642.1 1231.7,1642.3 1234.7,1642.5 1237.7,1642.7 1240.7,1642.9 1243.7,1643.1 1246.7,1643.3 1249.6,1643.6 1252.6,1643.8 1255.6,1644 1258.6,1644.2 1261.6,1644.4 1264.6,1644.7 1267.6,1644.9 1270.6,1645.2 1273.6,1645.5 1276.6,1645.8 1279.5,1646.2 1281.2,1646.5" fill="none" stroke="#6495ed" stroke-width="1.4"/>
<polygon points="1294.3,1648.9 1280.4,1651.1 1282.1,1641.9" fill="#6495ed" stroke="#6495ed" stroke-width="1.4"/>
<path d="M1820.5,397.2 1822.8,399.2 1825.1,401.1 1827.3,403.1 1829.6,405 1831.9,407 1834.2,408.9 1836.5,410.9 1838.7,412.8 1841,414.8 1843.3,416.7 1845.6,418.7 1847.9,420.6 1850.1,422.6 1852.4,424.5 1854.7,426.5 1857,428.4 1859.2,430.4 1861.5,432.4 1863.8,434.3 1866,436.3 1868.3,438.3 1870.5,440.3 1872.8,442.3 1875,444.3 1877.3,446.2 1879.5,448.2 1881.8,450.2 1884,452.2 1886.3,454.2 1888.5,456.2 1890.7,458.2 1892.9,460.3 1895.1,462.3 1897.3,464.4 1899.5,466.4 1901.7,468.5 1903.8,470.6 1906,472.7 1908.1,474.8 1910.3,476.9 1912.4,479 1914.6,481.1 1916.7,483.2 1918.9,485.3 1921,487.4 1923.1,489.5 1925.2,491.6 1927.4,493.7 1929.5,495.9 1931.6,498 1933.7,500.1 1935.8,502.2 1937.9,504.4 1940,506.5 1942.1,508.7 1944.2,510.8 1946.3,513 1948.4,515.2 1950.5,517.3 1952.5,519.5 1954.6,521.7 1956.6,523.9 1958.7,526.1 1960.7,528.3 1962.7,530.5 1964.7,532.7 1966.7,535 1968.7,537.2 1970.7,539.5 1972.7,541.8 1974.6,544 1976.6,546.3 1978.6,548.5 1980.6,550.8 1982.5,553.1 1984.5,555.3 1986.4,557.6 1988.4,559.9 1990.3,562.2 1992.2,564.5 1994.1,566.9 1996,569.2 1997.8,571.6 1999.6,574 2001.4,576.4 2003.2,578.8 2004.9,581.2 2006.6,583.7 2008.3,586.2 2010,588.7 2011.6,591.2 2013.2,593.8 2014.7,596.4 2016.2,599 2017.7,601.6 2019.1,604.2 2020.6,606.8 2021.9,609.5 2023.3,612.2 2024.6,614.9 2026,617.6 2027.2,620.3 2028.5,623 2029.8,625.7 2031,628.5 2032.2,631.2 2033.4,634 2034.6,636.7 2035.7,639.5 2036.9,642.3 2038,645 2039.1,647.8 2040.3,650.6 2041.4,653.4 2042.4,656.2 2043.5,659 2044.6,661.8 2045.6,664.6 2046.7,667.4 2047.7,670.3 2048.8,673.1 2049.8,675.9 2050.8,678.7 2051.8,681.5 2052.8,684.4 2053.8,687.2 2054.7,690.1 2055.7,692.9 2056.6,695.8 2057.5,698.6 2058.4,701.5 2059.3,704.4 2060.2,707.2 2061,710.1 2061.9,713 2062.7,715.9 2063.5,718.8 2064.2,721.7 2065,724.6 2065.7,727.5 2066.4,730.4 2067.1,733.3 2067.8,736.3 2068.4,739.2 2069.1,742.1 2069.7,745.1 2070.2,748 2070.8,751 2071.3,753.9 2071.8,756.9 2072.3,759.8 2072.7,762.8 2073.1,765.8 2073.5,768.7 2073.9,771.7 2074.3,774.7 2074.6,777.7 2074.9,780.7 2075.2,783.7 2075.5,786.6 2075.8,789.6 2076.1,792.6 2076.3,795.6 2076.5,798.6 2076.8,801.6 2077,804.6 2077.2,807.6 2077.4,810.6 2077.6,813.6 2077.8,816.6 2078,819.6 2078.2,822.6 2078.3,825.6 2078.5,828.6 2078.6,831.6 2078.7,834.6 2078.8,837.6 2078.9,840.6 2079,843.6 2079,846.6 2079.1,849.6 2079.1,852.6 2079.1,855.6 2079.2,858.6 2079.2,861.6 2079.2,864.6 2079.2,867.6 2079.2,870.6 2079.2,873.6 2079.2,876.6 2079.2,879.6 2079.2,882.6 2079.2,885.6 2079.2,888.6 2079.2,891.6 2079.3,894.6 2079.3,897.6 2079.3,900.6 2079.3,903.6 2079.3,906.6 2079.4,909.6 2079.4,912.6 2079.4,915.6 2079.4,918.6 2079.4,921.6 2079.4,924.6 2079.4,927.6 2079.5,930.6 2079.5,933.6 2079.5,936.6 2079.5,939.6 2079.5,942.6 2079.5,945.6 2079.5,948.6 2079.5,951.6 2079.5,954.6 2079.5,957.6 2079.5,960.6 2079.5,963.6 2079.5,966.6 2079.5,969.6 2079.5,972.6 2079.5,975.6 2079.5,978.6 2079.5,981.6 2079.5,984.6 2079.5,987.6 2079.5,990.6 2079.5,993.6 2079.5,996.6 2079.4,999.6 2079.4,1002.6 2079.4,1005.6 2079.4,1008.6 2079.4,1011.6 2079.4,1014.6 2079.4,1017.6 2079.4,1020.6 2079.4,1023.6 2079.4,1026.6 2079.4,1029.6 2079.4,1032.6 2079.4,1035.6 2079.4,1038.6 2079.4,1041.6 2079.4,1044.6 2079.4,1047.7 2079.3,1050.7 2079.3,1053.7 2079.3,1056.7 2079.3,1059.7 2079.3,1062.7 2079.3,1065.7 2079.3,1068.7 2079.3,1071.7 2079.3,1074.7 2079.3,1077.7 2079.3,1080.7 2079.3,1083.7 2079.3,1086.7 2079.3,1089.7 2079.3,1092.7 2079.3,1095.7 2079.3,1098.7 2079.3,1101.7 2079.3,1104.7 2079.3,1107.7 2079.3,1110.7 2079.3,1113.7 2079.3,1116.7 2079.3,1119.7 2079.3,1122.7 2079.3,1125.7 2079.3,1128.7 2079.3,1131.7 2079.3,1134.7 2079.3,1137.7 2079.3,1140.7 2079.3,1143.7 2079.3,1146.7 2079.3,1149.7 2079.3,1152.7 2079.3,1155.7 2079.3,1158.7 2079.3,1161.7 2079.3,1164.7 2079.3,1167.7 2079.3,1170.7 2079.3,1173.7 2079.3,1176.7 2079.3,1179.7 2079.3,1182.7 2079.3,1185.7 2079.3,1188.7 2079.3,1191.7 2079.3,1194.7 2079.3,1197.7 2079.3,1200.7 2079.3,1203.7 2079.3,1206.7 2079.3,1209.7 2079.3,1212.7 2079.3,1215.7 2079.3,1218.7 2079.3,1221.7 2079.3,1224.7 2079.3,1227.7 2079.3,1230.7 2079.3,1233.7 2079.3,1236.7 2079.3,1239.7 2079.3,1242.7 2079.3,1245.7 2079.3,1248.7 2079.3,1251.7 2079.3,1254.7 2079.3,1257.7 2079.3,1260.7 2079.3,1263.7 2079.3,1266.8 2079.3,1269.8 2079.3,1272.8 2079.3,1275.8 2079.3,1278.8 2079.3,1281.8 2079.3,1284.8 2079.3,1287.8 2079.3,1290.8 2079.3,1293.8 2079.3,1296.8 2079.3,1299.8 2079.3,1302.8 2079.3,1305.8 2079.3,1308.8 2079.3,1311.8 2079.3,1314.8 2079.3,1317.8 2079.3,1320.8 2079.3,1323.8 2079.3,1326.8 2079.3,1329.8 2079.3,1332.8 2079.3,1335.8 2079.3,1338.8 2079.3,1341.8 2079.3,1344.8 2079.3,1347.8 2079.3,1350.8 2079.3,1353.8 2079.3,1356.8 2079.3,1359.8 2079.3,1362.8 2079.3,1365.8 2079.3,1368.8 2079.3,1371.8 2079.3,1374.8 2079.3,1377.8 2079.3,1380.8 2079.3,1383.8 2079.3,1386.8 2079.3,1389.8 2079.3,1392.8 2079.4,1395.8 2079.4,1398.8 2079.4,1401.8 2079.5,1404.8 2079.5,1407.8 2079.5,1410.8 2079.6,1413.8 2079.6,1416.8 2079.7,1419.8 2079.7,1422.8 2079.8,1425.8 2079.8,1428.8 2079.9,1431.8 2079.9,1434.8 2080,1437.8 2080,1440.8 2080,1443.8 2080.1,1446.8 2080.1,1449.8 2080.1,1452.8 2080.1,1455.8 2080.2,1458.8 2080.2,1461.8 2080.2,1464.8 2080.2,1467.8 2080.1,1470.8 2080.1,1473.8 2080.1,1476.8 2080,1479.8 2079.9,1482.8 2079.9,1485.8 2079.8,1488.8 2079.7,1491.8 2079.6,1494.8 2079.5,1497.8 2079.3,1500.8 2079.2,1503.8 2079,1506.8 2078.8,1509.8 2078.7,1512.8 2078.5,1515.8 2078.3,1518.8 2078,1521.8 2077.8,1524.8 2077.6,1527.8 2077.3,1530.8 2077.1,1533.8 2076.8,1536.8 2076.5,1539.8 2076.3,1542.7 2076,1545.7 2075.7,1548.7 2075.4,1551.7 2075.1,1554.7 2074.8,1557.7 2074.5,1560.7 2074.1,1563.6 2073.8,1566.6 2073.5,1569.6 2073.2,1572.6 2072.8,1575.6 2072.5,1578.6 2072.2,1581.5 2071.8,1584.5 2071.5,1587.5 2071.2,1590.5 2070.9,1593.5 2070.5,1596.5 2070.2,1599.4 2069.9,1602.4 2069.5,1605.4 2069.2,1608.4 2068.9,1611.4 2068.6,1614.4 2068.4,1616.1" fill="none" stroke="#6495ed" stroke-width="1.4"/>
<polygon points="2067.1,1629.3 2063.8,1615.6 2073.1,1616.5" fill="#6495ed" stroke="#6495ed" stroke-width="1.4"/>
<path d="M1562.2,492.9 1535.1,579.2" fill="none" stroke="#000" stroke-width="1.4"/>
<polygon points="1531.1,591.9 1530.6,577.8 1539.6,580.6" fill="#000" stroke="#000" stroke-width="1.4"/>
<path d="M1531.6,493.6 1528.1,495.8 1524.4,497.8 1520.8,499.9 1517.2,502.1 1513.7,504.3 1510.2,506.6 1506.8,508.9 1503.4,511.3 1500,513.7 1496.8,516.1 1493.5,518.6 1490.4,521.2 1487.2,523.8 1484.2,526.4 1481.2,529.1 1478.2,531.8 1475.3,534.6 1472.5,537.5 1469.7,540.3 1467,543.2 1464.3,546.2 1461.7,549.2 1459.2,552.2 1456.7,555.3 1454.2,558.5 1451.9,561.6 1449.6,564.8 1447.3,568.1 1445.1,571.4 1443,574.7 1440.9,578.1 1438.9,581.5 1437,584.9 1435.1,588.4 1433.2,591.9 1431.4,595.4 1429.7,599 1428,602.6 1426.3,606.2 1424.7,609.8 1423.1,613.5 1421.6,617.2 1420.1,620.9 1418.7,624.7 1417.3,628.4 1416,632.2 1414.6,636 1413.4,639.8 1412.1,643.7 1410.9,647.5 1409.7,651.4 1408.6,655.2 1407.4,659.1 1406.4,663 1405.3,666.9 1404.3,670.9 1403.2,674.8 1402.3,678.7 1401.3,682.6 1400.3,686.6 1399.4,690.5 1398.5,694.5 1397.6,698.5 1396.8,702.4 1395.9,706.4 1395.1,710.4 1394.3,714.4 1393.5,718.3 1392.7,722.3 1391.9,726.3 1391.1,730.3 1390.4,734.3 1389.6,738.3 1388.9,742.3 1388.1,746.3 1387.4,750.3 1386.7,754.3 1386,758.3 1385.3,762.3 1384.5,766.3 1383.8,770.4 1383.1,774.4 1382.4,778.4 1381.7,782.4 1380.9,786.4 1380.2,790.4 1379.5,794.4 1378.8,798.3 1378,802.3 1377.3,806.3 1376.5,810.3 1375.7,814.3 1374.9,818.2 1374.1,822.2 1373.3,826.2 1372.5,830.1 1371.7,834.1 1370.8,838 1369.9,842 1369,845.9 1368.1,849.8 1367.2,853.7 1366.2,857.6 1365.3,861.5 1364.3,865.4 1363.2,869.3 1362.5,872" fill="none" stroke="#000" stroke-width="1.4"/>
<polygon points="1359,884.8 1358,870.7 1367,873.2" fill="#000" stroke="#000" stroke-width="1.4"/>
<path d="M1584.4,493.6 1586,497 1587.7,500.5 1589.4,504 1591.1,507.6 1592.7,511.2 1594.4,514.9 1596.1,518.7 1597.7,522.4 1599.3,526.3 1600.9,530.1 1602.4,534 1603.9,537.9 1605.3,541.9 1606.7,545.9 1608.1,549.9 1609.3,553.9 1610.5,557.9 1611.7,562 1612.7,566 1613.7,570.1 1614.6,574.1 1615.4,578.2 1616.1,582.2 1616.7,586.2 1617.2,590.2 1617.5,594.2 1617.8,598.2 1617.9,602.1 1618,606 1617.8,609.9 1617.6,613.8 1617.2,617.6 1616.7,621.3 1616,625 1615.1,628.7 1614.1,632.3 1612.9,635.8 1611.6,639.3 1610.1,642.8 1608.4,646.1 1606.6,649.4 1604.6,652.7 1602.6,656 1600.4,659.2 1598.1,662.3 1595.7,665.4 1593.3,668.6 1590.7,671.6 1588.2,674.7 1585.5,677.8 1582.8,680.8 1580.1,683.9 1577.4,686.9 1574.6,689.9 1571.9,693 1569.1,696.1 1566.4,699.2 1563.7,702.3 1561.1,705.4 1558.4,708.5 1555.8,711.7 1553.2,714.9 1550.7,718.1 1548.2,721.3 1545.8,724.6 1543.3,727.8 1541,731.1 1538.7,734.4 1536.4,737.8 1534.2,741.2 1532.1,744.6 1530,748 1528,751.5 1526.1,755 1524.2,758.5 1522.5,762.1 1520.7,765.7 1519.1,769.3 1517.5,772.9 1516,776.6 1514.6,780.3 1513.3,784 1512,787.8 1510.8,791.6 1509.6,795.4 1508.5,799.2 1507.5,803 1506.6,806.9 1505.7,810.8 1504.9,814.7 1504.1,818.6 1503.5,822.5 1502.8,826.5 1502.3,830.4 1501.8,834.4 1501.4,838.4 1501,842.4 1500.7,846.4 1500.4,850.4 1500.3,854.5 1500.1,858.5 1500.1,862.6 1500.1,866.6 1500.1,870.7 1500.2,874.7 1500.4,878.8 1500.6,882.8 1500.9,886.9 1501.2,891 1501.6,895 1502,899.1 1502.5,903.2 1503.1,907.2 1503.7,911.3 1504.3,915.3 1505,919.4 1505.8,923.4 1506.6,927.4 1507.4,931.4 1508.3,935.4 1509.2,939.4 1510.2,943.4 1511.3,947.4 1512.4,951.3 1513.5,955.2 1514.7,959.2 1515.9,963.1 1517.2,967 1518.5,970.8 1519.8,974.7 1521.2,978.5 1522.7,982.3 1524.1,986.1 1525.7,989.8 1527.2,993.6 1528.8,997.3 1530.5,1001 1532.1,1004.6 1533.9,1008.2 1535.6,1011.8 1537.4,1015.4 1539.2,1018.9 1541.1,1022.4 1543,1025.9 1544.9,1029.3 1546.1,1031.4" fill="none" stroke="#000" stroke-width="1.4"/>
<polygon points="1553,1042.8 1542.1,1033.8 1550.2,1029" fill="#000" stroke="#000" stroke-width="1.4"/>
<path d="M1592.8,493.6 1595.3,496.9 1597.6,500.2 1599.8,503.6 1602.1,507 1604.3,510.4 1606.4,513.8 1608.5,517.3 1610.6,520.7 1612.7,524.2 1614.7,527.7 1616.7,531.2 1618.7,534.7 1620.6,538.3 1622.5,541.8 1624.3,545.4 1626.2,549 1628,552.6 1629.8,556.2 1631.5,559.8 1633.2,563.4 1634.9,567.1 1636.6,570.8 1638.2,574.4 1639.8,578.1 1641.4,581.8 1642.9,585.5 1644.4,589.3 1645.9,593 1647.4,596.7 1648.8,600.5 1650.3,604.3 1651.6,608 1653,611.8 1654.4,615.6 1655.7,619.4 1657,623.3 1658.3,627.1 1659.5,630.9 1660.8,634.8 1662,638.6 1663.2,642.5 1664.3,646.4 1665.5,650.3 1666.6,654.1 1667.7,658 1668.8,661.9 1669.9,665.8 1670.9,669.8 1672,673.7 1673,677.6 1674,681.6 1675,685.5 1676,689.4 1676.9,693.4 1677.8,697.4 1678.8,701.3 1679.7,705.3 1680.6,709.3 1681.5,713.2 1682.3,717.2 1683.2,721.2 1684,725.2 1684.8,729.2 1685.7,733.2 1686.5,737.2 1687.3,741.2 1688.1,745.2 1688.8,749.2 1689.6,753.2 1690.3,757.2 1691.1,761.2 1691.8,765.2 1692.6,769.2 1693.3,773.2 1694,777.3 1694.7,781.3 1695.4,785.3 1696.1,789.3 1696.8,793.3 1697.4,797.3 1698.1,801.3 1698.8,805.3 1699.5,809.4 1700.1,813.4 1700.8,817.4 1701.4,821.4 1702.1,825.4 1702.7,829.4 1703.4,833.4 1704,837.3 1704.7,841.3 1705.3,845.3 1705.9,849.3 1706.6,853.3 1707.2,857.2 1707.9,861.2 1708.5,865.2 1709.2,869.1 1709.6,871.9" fill="none" stroke="#000" stroke-width="1.4"/>
<polygon points="1711.6,885 1704.9,872.6 1714.2,871.1" fill="#000" stroke="#000" stroke-width="1.4"/>
<path d="M1594,493.6 1596.8,496.5 1599.8,499.4 1602.7,502.3 1605.5,505.2 1608.4,508.1 1611.2,511.1 1613.9,514.1 1616.6,517.1 1619.3,520.1 1621.9,523.2 1624.5,526.3 1627.1,529.4 1629.6,532.6 1632.1,535.8 1634.6,539 1637,542.2 1639.4,545.4 1641.8,548.7 1644.1,552 1646.5,555.3 1648.8,558.6 1651,561.9 1653.3,565.3 1655.5,568.6 1657.7,572 1659.9,575.4 1662.1,578.8 1664.3,582.2 1666.4,585.7 1668.5,589.1 1670.6,592.6 1672.7,596 1674.8,599.5 1676.9,603 1679,606.4 1681,609.9 1683.1,613.4 1685.1,616.9 1687.2,620.4 1689.2,623.9 1691.3,627.4 1693.3,630.9 1695.3,634.4 1697.4,637.9 1699.4,641.4 1701.4,644.9 1703.5,648.4 1705.5,651.9 1707.6,655.4 1709.6,658.9 1711.7,662.4 1713.8,665.8 1715.9,669.3 1718,672.7 1720.1,676.2 1722.2,679.6 1724.3,683 1726.5,686.5 1728.6,689.9 1730.8,693.2 1733,696.6 1735.3,700 1737.5,703.3 1739.8,706.6 1742.1,709.9 1744.4,713.2 1746.7,716.5 1749.1,719.7 1751.5,723 1753.9,726.2 1756.3,729.4 1758.7,732.6 1761.2,735.8 1763.6,739 1766.1,742.1 1768.6,745.3 1771.2,748.4 1773.7,751.5 1776.3,754.6 1778.8,757.7 1781.4,760.8 1784.1,763.8 1786.7,766.9 1789.3,769.9 1792,772.9 1794.7,775.9 1797.4,778.9 1800.1,781.9 1802.8,784.9 1805.5,787.8 1808.3,790.8 1811,793.7 1813.8,796.6 1816.6,799.6 1819.4,802.5 1822.2,805.4 1825.1,808.2 1827.9,811.1 1830.8,814 1833.6,816.8 1836.5,819.7 1839.4,822.5 1842.3,825.3 1845.2,828.1 1848.1,830.9 1851.1,833.7 1854,836.5 1857,839.3 1859.9,842 1862.9,844.8 1865.9,847.5 1868.9,850.3 1871.9,853 1874.9,855.7 1877.9,858.5 1880.9,861.2 1883.9,863.9 1887,866.6 1890,869.3 1893,871.9 1896.1,874.6 1898.3,876.6" fill="none" stroke="#000" stroke-width="1.4"/>
<polygon points="1908.2,885.4 1895.1,880.1 1901.4,873" fill="#000" stroke="#000" stroke-width="1.4"/>
<path d="M1430.2,616.7 1426.1,616.5 1422.1,616.6 1418.1,616.7 1414.1,616.8 1410.1,616.9 1406.1,617 1402.1,617.1 1398.2,617.2 1394.2,617.3 1390.2,617.4 1386.2,617.4 1382.2,617.5 1378.2,617.6 1374.2,617.7 1370.2,617.8 1366.2,617.9 1362.2,618 1358.2,618.1 1354.2,618.2 1350.2,618.3 1346.2,618.4 1342.2,618.5 1338.2,618.6 1334.2,618.7 1330.2,618.7 1326.2,618.8 1322.2,618.9 1318.2,619 1314.2,619.1 1310.2,619.2 1306.2,619.3 1302.2,619.4 1298.2,619.5 1294.2,619.6 1290.2,619.7 1286.2,619.8 1282.2,619.9 1278.2,620 1274.2,620.1 1270.2,620.2 1266.2,620.3 1262.1,620.4 1258.1,620.5 1254.1,620.6 1250.1,620.7 1246.1,620.8 1242.1,620.9 1238.1,621 1234.1,621.1 1230,621.3 1226,621.4 1222,621.5 1218,621.6 1214,621.7 1210,621.8 1206,621.9 1201.9,622.1 1197.9,622.2 1193.9,622.3 1189.9,622.4 1185.9,622.5 1181.8,622.7 1177.8,622.8 1173.8,622.9 1169.8,623 1165.8,623.2 1161.8,623.3 1157.7,623.4 1153.7,623.6 1149.7,623.7 1145.7,623.9 1141.7,624 1137.6,624.1 1133.6,624.3 1129.6,624.4 1125.6,624.6 1121.6,624.7 1117.5,624.9 1113.5,625 1109.5,625.2 1105.5,625.3 1101.5,625.5 1097.4,625.7 1093.4,625.8 1089.4,626 1085.4,626.1 1081.3,626.3 1077.3,626.5 1073.3,626.7 1069.3,626.8 1065.3,627 1061.2,627.2 1057.2,627.4 1053.2,627.6 1049.2,627.8 1045.2,627.9 1041.1,628.1 1037.1,628.3 1033.1,628.5 1029.1,628.7 1025.1,628.9 1021,629.1 1017,629.3 1013,629.6 1009,629.8 1005,630 1000.9,630.2 996.9,630.4 992.9,630.7 988.9,630.9 984.9,631.1 980.9,631.3 976.8,631.6 972.8,631.8 968.8,632.1 964.8,632.3 960.8,632.6 956.8,632.8 952.7,633.1 948.7,633.3 944.7,633.6 940.7,633.9 936.7,634.1 932.7,634.4 928.7,634.7 924.6,635 920.6,635.2 916.6,635.5 912.6,635.8 908.6,636.1 904.6,636.4 900.6,636.7 896.6,637 892.6,637.3 888.6,637.6 884.5,637.9 880.5,638.3 876.5,638.6 872.5,638.9 868.5,639.2 864.5,639.6 860.5,639.9 856.5,640.2 852.5,640.6 848.5,640.9 844.5,641.3 840.5,641.6 836.5,642 832.5,642.4 828.5,642.7 824.5,643.1 820.5,643.5 816.5,643.9 812.5,644.3 808.5,644.7 804.5,645 800.5,645.4 796.5,645.9 792.5,646.3 788.6,646.7 784.6,647.1 780.6,647.5 776.6,647.9 772.6,648.4 768.6,648.8 764.6,649.2 760.6,649.7 756.7,650.1 752.7,650.6 748.7,651.1 744.7,651.5 740.7,652 736.7,652.5 732.8,652.9 728.8,653.4 724.8,653.9 720.8,654.4 716.9,654.9 712.9,655.4 708.9,655.9 704.9,656.4 701,657 697,657.5 693,658 689.1,658.5 685.1,659.1 681.1,659.6 677.2,660.2 673.2,660.7 669.2,661.3 665.3,661.9 661.3,662.4 657.4,663 653.4,663.6 649.4,664.2 645.5,664.8 641.5,665.4 637.6,666 633.6,666.6 629.7,667.2 625.7,667.8 621.8,668.5 617.8,669.1 613.9,669.7 609.9,670.4 606,671 602.1,671.7 598.1,672.4 594.2,673 590.2,673.7 586.3,674.4 582.4,675.1 578.4,675.8 574.5,676.5 570.6,677.2 566.6,677.9 562.7,678.6 558.8,679.3 554.9,680.1 550.9,680.8 547,681.6 543.1,682.3 539.2,683.1 535.3,683.8 531.4,684.6 527.4,685.4 523.5,686.2 519.6,687 515.7,687.8 511.8,688.6 507.9,689.4 504,690.2 500.1,691 496.2,691.8 492.3,692.7 488.4,693.5 484.5,694.4 480.6,695.2 476.7,696.1 472.8,697 468.9,697.8 465,698.7 461.1,699.6 457.2,700.5 453.3,701.4 449.4,702.3 445.5,703.2 441.6,704.1 437.8,705 433.9,705.9 430,706.9 426.1,707.8 422.2,708.7 418.3,709.7 414.4,710.6 410.5,711.6 406.6,712.5 402.8,713.5 398.9,714.5 395,715.4 391.1,716.4 387.2,717.4 383.3,718.4 379.4,719.4 375.5,720.4 371.6,721.3 367.7,722.3 363.8,723.4 359.9,724.4 356,725.4 352.1,726.4 348.2,727.4 344.3,728.4 340.4,729.4 336.5,730.5 332.6,731.5 328.7,732.5 324.8,733.6 320.9,734.6 317,735.6 313,736.7 309.1,737.7 305.2,738.8 301.3,739.8 297.4,740.9 293.4,741.9 289.5,743 285.6,744.1 281.7,745.1 277.7,746.2 273.8,747.3 269.8,748.3 265.9,749.4 262,750.5 258,751.6 254.1,752.7 250.2,753.8 246.3,754.9 242.3,756.1 238.4,757.2 234.5,758.4 230.6,759.5 226.7,760.7 222.8,761.9 218.9,763.1 215.1,764.4 211.2,765.6 207.4,766.9 203.5,768.2 199.7,769.5 195.9,770.8 192.1,772.2 188.3,773.6 184.5,775 180.7,776.4 177,777.9 173.2,779.4 169.5,780.9 165.8,782.4 162.1,784 158.5,785.6 154.8,787.3 151.2,788.9 147.6,790.6 144,792.4 140.5,794.2 136.9,796 133.4,797.8 129.9,799.7 126.5,801.6 123,803.6 119.6,805.6 116.2,807.7 112.8,809.8 109.5,811.9 106.2,814.1 102.9,816.3 99.7,818.6 96.5,820.9 93.3,823.3 90.1,825.7 87,828.2 83.9,830.7 80.9,833.3 77.8,835.9 74.9,838.6 71.9,841.3 69,844.1 66.1,846.9 63.3,849.8 60.6,852.7 57.9,855.7 55.2,858.7 52.6,861.8 50.1,864.9 47.7,868.1 45.3,871.3 43,874.6 40.8,877.8 38.7,881.2 36.6,884.5 34.7,887.9 32.8,891.4 31.1,894.8 29.4,898.3 27.9,901.8 26.5,905.4 25.2,909 24,912.6 22.9,916.2 22,919.9 21.2,923.6 20.5,927.3 20,931 19.6,934.8 19.3,938.6 19.2,942.4 19.2,946.2 19.4,950 19.7,953.8 20.1,957.6 20.6,961.5 21.3,965.3 22.1,969.2 23,973 24,976.8 25.1,980.7 26.3,984.5 27.6,988.3 29,992.1 30.5,995.8 32.1,999.6 33.8,1003.3 35.5,1007 37.4,1010.7 39.3,1014.4 41.3,1018 43.3,1021.6 45.4,1025.1 47.6,1028.7 49.9,1032.1 52.2,1035.6 54.5,1039 56.9,1042.3 59.4,1045.6 61.9,1048.8 64.4,1052 67,1055.2 69.6,1058.3 72.3,1061.4 75,1064.4 77.7,1067.4 80.5,1070.4 83.3,1073.3 86.2,1076.2 89.1,1079.1 92,1081.9 94.9,1084.7 97.9,1087.5 100.9,1090.2 103.9,1092.9 107,1095.6 110.1,1098.2 113.2,1100.8 116.3,1103.4 119.4,1106 122.6,1108.6 125.7,1111.1 128.9,1113.6 132.1,1116.2 135.3,1118.6 138.5,1121.1 141.7,1123.6 145,1126 148.2,1128.4 151.5,1130.9 154.7,1133.3 158,1135.7 161.2,1138.1 164.5,1140.5 167.7,1142.9 171,1145.2 174.2,1147.6 177.5,1150 180.7,1152.4 183.9,1154.8 187.2,1157.1 190.4,1159.5 193.5,1161.9 196.7,1164.3 199.9,1166.7 203,1169.1 206.2,1171.5 209.3,1174 212.4,1176.4 215.4,1178.9 217.3,1180.4" fill="none" stroke="#000" stroke-width="1.4"/>
<polygon points="227.6,1188.8 214.3,1184 220.3,1176.7" fill="#000" stroke="#000" stroke-width="1.4"/>
<path d="M1445.8,639.9 1441.9,641 1438.1,642.1 1434.2,643.1 1430.3,644.2 1426.4,645.3 1422.5,646.3 1418.7,647.4 1414.8,648.4 1410.9,649.4 1407,650.5 1403.1,651.5 1399.2,652.5 1395.3,653.6 1391.4,654.6 1387.5,655.6 1383.7,656.6 1379.8,657.6 1375.9,658.6 1372,659.6 1368.1,660.6 1364.2,661.6 1360.3,662.5 1356.4,663.5 1352.5,664.5 1348.6,665.5 1344.7,666.4 1340.7,667.4 1336.8,668.3 1332.9,669.3 1329,670.2 1325.1,671.2 1321.2,672.1 1317.3,673 1313.4,673.9 1309.4,674.9 1305.5,675.8 1301.6,676.7 1297.7,677.6 1293.8,678.5 1289.9,679.4 1285.9,680.3 1282,681.2 1278.1,682.1 1274.2,682.9 1270.2,683.8 1266.3,684.7 1262.4,685.5 1258.4,686.4 1254.5,687.2 1250.6,688.1 1246.6,688.9 1242.7,689.8 1238.8,690.6 1234.8,691.4 1230.9,692.3 1227,693.1 1223,693.9 1219.1,694.7 1215.2,695.5 1211.2,696.3 1207.3,697.1 1203.3,697.9 1199.4,698.7 1195.4,699.5 1191.5,700.2 1187.5,701 1183.6,701.8 1179.6,702.5 1175.7,703.3 1171.7,704 1167.8,704.8 1163.8,705.5 1159.9,706.3 1155.9,707 1152,707.7 1148,708.5 1144.1,709.2 1140.1,709.9 1136.1,710.6 1132.2,711.3 1128.2,712 1124.3,712.7 1120.3,713.4 1116.3,714.1 1112.4,714.7 1108.4,715.4 1104.4,716.1 1100.5,716.7 1096.5,717.4 1092.5,718 1088.6,718.7 1084.6,719.3 1080.6,720 1076.6,720.6 1072.7,721.2 1068.7,721.9 1064.7,722.5 1060.8,723.1 1056.8,723.7 1052.8,724.3 1048.8,724.9 1044.8,725.5 1040.9,726.1 1036.9,726.7 1032.9,727.2 1028.9,727.8 1024.9,728.4 1021,728.9 1017,729.5 1013,730.1 1009,730.6 1005,731.1 1001,731.7 997.1,732.2 993.1,732.7 989.1,733.3 985.1,733.8 981.1,734.3 977.1,734.8 973.1,735.3 969.1,735.8 965.1,736.3 961.2,736.8 957.2,737.2 953.2,737.7 949.2,738.2 945.2,738.6 941.2,739.1 937.2,739.6 933.2,740 929.2,740.5 925.2,740.9 921.2,741.3 917.2,741.8 913.2,742.2 909.2,742.6 905.2,743 901.2,743.4 897.2,743.8 893.2,744.2 889.2,744.6 885.2,745 881.2,745.4 877.2,745.7 873.2,746.1 869.2,746.5 865.2,746.8 861.2,747.2 857.1,747.5 853.1,747.9 849.1,748.2 845.1,748.6 841.1,748.9 837.1,749.2 833.1,749.5 829.1,749.8 825.1,750.1 821.1,750.4 817,750.7 813,751 809,751.3 805,751.6 801,751.9 797,752.1 793,752.4 789,752.7 784.9,752.9 780.9,753.1 776.9,753.4 772.9,753.6 768.9,753.9 764.9,754.1 760.8,754.3 756.8,754.5 752.8,754.7 748.8,754.9 744.8,755.1 742,755.3" fill="none" stroke="#000" stroke-width="1.4"/>
<polygon points="728.7,756 741.7,750.6 742.2,760" fill="#000" stroke="#000" stroke-width="1.4"/>
<path d="M1463.4,639.9 1222.9,733.8" fill="none" stroke="#000" stroke-width="1.4"/>
<polygon points="1210.5,738.6 1221.2,729.4 1224.6,738.1" fill="#000" stroke="#000" stroke-width="1.4"/>
<path d="M1505.6,639.9 1502.8,643.1 1499.9,646.2 1497.2,649.5 1494.6,652.8 1492.1,656.1 1489.7,659.5 1487.5,662.9 1485.3,666.3 1483.3,669.8 1481.3,673.4 1479.4,677 1477.7,680.6 1476,684.3 1474.4,688 1472.9,691.7 1471.5,695.5 1470.1,699.3 1468.9,703.1 1467.7,707 1466.6,710.9 1465.5,714.8 1464.5,718.8 1463.5,722.7 1462.6,726.7 1461.7,730.7 1460.8,734.7 1460,738.7 1459.2,742.7 1458.3,746.7 1457.5,750.8 1456.7,754.8 1455.8,758.8 1454.9,762.8 1454,766.8 1453.1,770.8 1452.1,774.7 1451,778.7 1449.9,782.6 1448.8,786.5 1447.6,790.4 1446.4,794.3 1445.1,798.1 1443.8,801.9 1442.4,805.7 1440.9,809.5 1439.3,813.2 1437.7,816.8 1436.1,820.5 1434.3,824.1 1432.5,827.7 1430.6,831.2 1428.6,834.7 1426.6,838.1 1424.5,841.5 1422.2,844.8 1419.9,848.1 1417.6,851.3 1415.1,854.5 1412.5,857.6 1409.8,860.7 1407,863.7 1404.2,866.6 1401.2,869.5 1398.1,872.3 1394.9,875.1 1391.8,877.4" fill="none" stroke="#000" stroke-width="1.4"/>
<polygon points="1381.2,885.4 1389,873.6 1394.7,881.1" fill="#000" stroke="#000" stroke-width="1.4"/>
<path d="M1512.6,639.9 1511,643.7 1509.3,647.5 1507.7,651.4 1506.1,655.2 1504.6,659.1 1503.1,662.9 1501.6,666.8 1500.2,670.6 1498.8,674.5 1497.5,678.4 1496.2,682.2 1495,686.1 1493.8,690 1492.6,693.9 1491.5,697.8 1490.4,701.7 1489.4,705.6 1488.4,709.5 1487.4,713.4 1486.5,717.3 1485.6,721.3 1484.7,725.2 1483.9,729.1 1483,733.1 1482.3,737 1481.5,741 1480.8,744.9 1480.1,748.9 1479.5,752.9 1478.8,756.9 1478.2,760.8 1477.6,764.8 1477.1,768.8 1476.6,772.8 1476,776.8 1475.6,780.8 1475.1,784.9 1474.7,788.9 1474.2,792.9 1473.8,797 1473.5,801 1473.1,805.1 1472.8,809.1 1472.4,813.2 1472.1,817.2 1471.8,821.3 1471.5,825.4 1471.3,829.5 1471,833.6 1470.8,837.7 1470.5,841.8 1470.3,845.9 1470.1,850 1469.9,854.1 1469.7,858.3 1469.5,862.4 1469.4,866.5 1469.2,870.7 1469.1,874.8 1469,879 1469,883.1 1468.9,887.2 1468.9,891.4 1468.9,895.5 1469,899.6 1469.1,903.7 1469.2,907.8 1469.4,911.9 1469.6,916 1469.8,920.1 1470.1,924.2 1470.5,928.2 1470.9,932.2 1471.4,936.3 1471.9,940.3 1472.4,944.2 1473.1,948.2 1473.8,952.1 1474.6,956.1 1475.4,960 1476.3,963.8 1477.3,967.7 1478.3,971.5 1479.5,975.3 1480.7,979 1482,982.7 1483.5,986.3 1485,989.9 1486.7,993.5 1488.4,997 1490.3,1000.4 1492.3,1003.8 1494.4,1007 1496.6,1010.3 1499,1013.4 1501.5,1016.5 1504.2,1019.5 1506.9,1022.4 1509.9,1025.3 1512.9,1028 1516.1,1030.7 1519.4,1033.3 1522.9,1035.5" fill="none" stroke="#000" stroke-width="1.4"/>
<polygon points="1534,1042.8 1520.3,1039.5 1525.4,1031.6" fill="#000" stroke="#000" stroke-width="1.4"/>
<path d="M1533.6,639.9 1578.9,726.7" fill="none" stroke="#000" stroke-width="1.4"/>
<polygon points="1585,738.5 1574.7,728.9 1583,724.5" fill="#000" stroke="#000" stroke-width="1.4"/>
<path d="M1556.2,639.9 1559.1,642.5 1562.1,645.1 1565.1,647.6 1568.2,650.2 1571.4,652.8 1574.5,655.3 1577.8,657.9 1581,660.4 1584.3,663 1587.6,665.5 1590.8,668.1 1594.1,670.7 1597.4,673.3 1600.7,676 1604,678.6 1607.3,681.3 1610.5,683.9 1613.7,686.7 1616.8,689.4 1620,692.2 1623,695 1626,697.8 1629,700.7 1631.9,703.6 1634.7,706.5 1637.4,709.5 1640,712.5 1642.6,715.6 1645,718.7 1647.4,721.9 1649.6,725.2 1651.7,728.4 1653.7,731.8 1655.6,735.2 1657.3,738.7 1658.9,742.2 1660.4,745.8 1661.7,749.5 1662.8,753.2 1663.8,757 1664.8,760.8 1665.6,764.7 1666.3,768.6 1666.9,772.6 1667.5,776.6 1668,780.6 1668.4,784.7 1668.8,788.8 1669.2,792.9 1669.5,797 1669.9,801.1 1670.2,805.3 1670.6,809.4 1671,813.5 1671.4,817.7 1671.9,821.8 1672.4,825.8 1673,829.9 1673.7,833.9 1674.4,837.9 1675.3,841.9 1676.3,845.8 1677.4,849.7 1678.6,853.5 1680,857.3 1681.6,861 1683.3,864.6 1685.2,868.2 1687.3,871.7 1689.4,874.5" fill="none" stroke="#000" stroke-width="1.4"/>
<polygon points="1697.6,885 1685.7,877.4 1693.1,871.6" fill="#000" stroke="#000" stroke-width="1.4"/>
<path d="M1556.2,639.9 1559.6,642.2 1563,644.4 1566.4,646.6 1569.8,648.8 1573.2,651.1 1576.6,653.4 1579.9,655.6 1583.3,657.9 1586.6,660.3 1589.9,662.6 1593.3,664.9 1596.6,667.3 1599.9,669.7 1603.2,672 1606.4,674.4 1609.7,676.8 1613,679.2 1616.2,681.7 1619.5,684.1 1622.7,686.6 1626,689 1629.2,691.5 1632.4,694 1635.6,696.5 1638.8,698.9 1642,701.5 1645.2,704 1648.4,706.5 1651.6,709 1654.8,711.5 1657.9,714.1 1661.1,716.6 1664.3,719.2 1667.4,721.7 1670.6,724.3 1673.8,726.8 1676.9,729.4 1680.1,732 1683.2,734.5 1686.4,737.1 1689.5,739.7 1692.7,742.3 1695.8,744.8 1698.9,747.4 1702.1,750 1705.2,752.6 1708.4,755.2 1711.5,757.8 1714.7,760.3 1717.8,762.9 1720.9,765.5 1724.1,768.1 1727.2,770.6 1730.4,773.2 1733.5,775.8 1736.7,778.3 1739.9,780.9 1743,783.4 1746.2,786 1749.3,788.5 1752.5,791.1 1755.7,793.6 1758.9,796.1 1762.1,798.6 1765.2,801.2 1768.4,803.7 1771.6,806.1 1774.8,808.6 1778.1,811.1 1781.3,813.6 1784.5,816 1787.7,818.5 1791,820.9 1794.2,823.4 1797.5,825.8 1800.7,828.2 1804,830.6 1807.3,833 1810.6,835.3 1813.9,837.7 1817.2,840 1820.5,842.4 1823.8,844.7 1827.2,847 1830.5,849.2 1833.9,851.5 1837.3,853.8 1840.7,856 1844,858.2 1847.5,860.4 1850.9,862.6 1854.3,864.8 1857.8,866.9 1861.2,869.1 1864.7,871.2 1868.2,873.3 1871.7,875.3 1875.2,877.4 1877.8,878.9" fill="none" stroke="#000" stroke-width="1.4"/>
<polygon points="1889.4,885.4 1875.5,883 1880.1,874.8" fill="#000" stroke="#000" stroke-width="1.4"/>
<path d="M1780.3,639.9 1776.5,641.1 1772.5,642.1 1768.6,643.1 1764.6,644.1 1760.7,645.1 1756.7,646.1 1752.8,647.2 1748.9,648.2 1744.9,649.3 1741,650.4 1737.1,651.5 1733.2,652.6 1729.3,653.8 1725.3,654.9 1721.4,656.1 1717.5,657.3 1713.6,658.5 1709.7,659.7 1705.9,660.9 1702,662.2 1698.1,663.5 1694.2,664.8 1690.4,666.1 1686.5,667.4 1682.7,668.7 1678.8,670.1 1675,671.5 1671.2,672.9 1667.4,674.3 1663.6,675.7 1659.8,677.2 1656,678.7 1652.2,680.2 1648.4,681.7 1644.7,683.2 1640.9,684.8 1637.2,686.4 1633.5,688 1629.7,689.6 1626,691.2 1622.3,692.9 1618.7,694.6 1615,696.3 1611.3,698 1607.7,699.8 1604.1,701.6 1600.4,703.4 1596.8,705.2 1593.2,707 1589.7,708.9 1586.1,710.8 1582.5,712.7 1579,714.7 1575.5,716.7 1572,718.6 1568.5,720.7 1565,722.7 1561.6,724.8 1558.1,726.9 1554.7,729 1551.3,731.2 1547.9,733.3 1544.5,735.5 1541.2,737.8 1537.8,740 1534.5,742.3 1531.2,744.6 1527.9,746.9 1524.6,749.3 1521.4,751.6 1518.1,754 1514.9,756.5 1511.7,758.9 1508.5,761.4 1505.3,763.8 1502.2,766.4 1499,768.9 1495.9,771.4 1492.8,774 1489.7,776.6 1486.6,779.2 1483.5,781.9 1480.5,784.5 1477.5,787.2 1474.4,789.9 1471.4,792.6 1468.5,795.4 1465.5,798.1 1462.5,800.9 1459.6,803.7 1456.7,806.5 1453.8,809.4 1450.9,812.2 1448,815.1 1445.1,818 1442.3,820.9 1439.5,823.8 1436.6,826.8 1433.8,829.7 1431.1,832.7 1428.3,835.7 1425.5,838.7 1422.8,841.7 1420.1,844.8 1417.4,847.8 1414.7,850.9 1412,854 1409.4,857.1 1406.7,860.2 1404.1,863.3 1401.5,866.5 1398.9,869.7 1396.3,872.8 1394.4,875.2" fill="none" stroke="#000" stroke-width="1.4"/>
<polygon points="1385.9,885.4 1390.8,872.2 1398,878.2" fill="#000" stroke="#000" stroke-width="1.4"/>
<path d="M1850,639.9 1847.1,642.9 1844.2,645.8 1841.3,648.7 1838.3,651.6 1835.3,654.4 1832.3,657.2 1829.2,659.9 1826.1,662.6 1822.9,665.3 1819.8,667.9 1816.6,670.5 1813.3,673.1 1810.1,675.6 1806.8,678 1803.5,680.5 1800.1,682.8 1796.7,685.2 1793.3,687.5 1789.9,689.7 1786.4,692 1783,694.2 1779.5,696.3 1775.9,698.4 1772.4,700.5 1768.8,702.5 1765.2,704.5 1761.5,706.4 1757.9,708.3 1754.2,710.2 1750.5,712 1746.8,713.8 1743.1,715.5 1739.3,717.2 1735.6,718.9 1731.8,720.5 1728,722.1 1724.2,723.6 1720.3,725.1 1716.5,726.5 1712.6,728 1708.7,729.3 1704.8,730.7 1700.9,732 1697,733.2 1693,734.4 1689.1,735.6 1685.1,736.7 1681.1,737.8 1677.2,738.8 1673.2,739.9 1670.1,740.6" fill="none" stroke="#000" stroke-width="1.4"/>
<polygon points="1657.1,743.5 1669,736 1671.1,745.1" fill="#000" stroke="#000" stroke-width="1.4"/>
<path d="M1857.8,639.9 1854.4,642.3 1850.8,644.6 1847.3,647 1843.9,649.4 1840.5,651.9 1837.2,654.4 1833.9,657 1830.7,659.6 1827.5,662.3 1824.4,665 1821.3,667.7 1818.3,670.5 1815.3,673.3 1812.4,676.2 1809.5,679.1 1806.7,682 1803.9,685 1801.2,688 1798.5,691 1795.9,694.1 1793.4,697.3 1790.9,700.4 1788.4,703.6 1786,706.9 1783.6,710.1 1781.3,713.4 1779,716.8 1776.8,720.1 1774.7,723.5 1772.6,727 1770.5,730.4 1768.5,733.9 1766.5,737.5 1764.6,741 1762.7,744.6 1760.9,748.2 1759.1,751.8 1757.4,755.5 1755.7,759.2 1754,762.9 1752.4,766.6 1750.9,770.4 1749.4,774.2 1747.9,778 1746.5,781.8 1745.1,785.6 1743.7,789.5 1742.4,793.4 1741.1,797.3 1739.8,801.2 1738.6,805.1 1737.4,809 1736.3,813 1735.1,816.9 1734,820.9 1733,824.9 1731.9,828.9 1730.9,832.9 1729.9,836.9 1728.9,840.9 1728,844.9 1727,848.9 1726.1,852.9 1725.2,856.9 1724.4,861 1723.5,865 1722.7,869 1722,872" fill="none" stroke="#000" stroke-width="1.4"/>
<polygon points="1719.3,885 1717.4,871 1726.6,872.9" fill="#000" stroke="#000" stroke-width="1.4"/>
<path d="M1859.3,639.9 1856.5,642.6 1853.7,645.4 1850.9,648.2 1848.1,651.1 1845.3,654.1 1842.6,657.1 1839.9,660.2 1837.2,663.3 1834.6,666.5 1832,669.8 1829.5,673.1 1827,676.5 1824.6,679.9 1822.2,683.3 1820,686.8 1817.8,690.4 1815.6,693.9 1813.6,697.5 1811.7,701.2 1809.8,704.9 1808.1,708.6 1806.4,712.3 1804.9,716.1 1803.4,719.9 1802.1,723.7 1800.9,727.5 1799.8,731.4 1798.9,735.3 1798.1,739.2 1797.4,743.1 1796.9,747 1796.5,750.9 1796.3,754.8 1796.2,758.7 1796.3,762.7 1796.5,766.6 1796.8,770.5 1797.2,774.5 1797.8,778.4 1798.5,782.4 1799.2,786.3 1800.1,790.3 1801.1,794.2 1802.1,798.2 1803.3,802.1 1804.5,806.1 1805.7,810.1 1807.1,814 1808.5,818 1809.9,821.9 1811.4,825.9 1812.9,829.8 1814.3,833.8 1815.8,837.7 1817.2,841.6 1818.5,845.6 1819.8,849.5 1821.1,853.4 1822.2,857.4 1823.3,861.3 1824.2,865.2 1825,869.1 1825.6,873 1826.1,876.9 1826.4,880.8 1826.6,884.7 1826.6,888.5 1826.5,892.4 1826.2,896.2 1825.8,900 1825.2,903.8 1824.5,907.6 1823.7,911.3 1822.8,915 1821.7,918.7 1820.4,922.3 1819.1,925.9 1817.6,929.5 1816,933 1814.3,936.5 1812.5,940 1810.5,943.4 1808.5,946.7 1806.3,950.1 1804.1,953.3 1801.7,956.5 1799.2,959.6 1796.7,962.7 1794,965.8 1791.2,968.7 1788.4,971.6 1785.4,974.4 1782.4,977.2 1779.3,979.9 1776.1,982.5 1772.9,985 1769.5,987.5 1766.1,989.9 1762.7,992.3 1759.2,994.6 1755.6,996.8 1752,999 1748.3,1001.1 1744.7,1003.2 1741,1005.3 1737.2,1007.3 1733.5,1009.3 1729.7,1011.2 1725.9,1013.2 1722.2,1015.1 1718.4,1016.9 1714.6,1018.8 1710.9,1020.6 1707.1,1022.5 1703.4,1024.3 1699.8,1026.1 1696.1,1027.9 1692.5,1029.7 1688.9,1031.6 1685.4,1033.4 1682,1035.2 1680.3,1036.2" fill="none" stroke="#000" stroke-width="1.4"/>
<polygon points="1668.7,1042.8 1677.9,1032.1 1682.6,1040.3" fill="#000" stroke="#000" stroke-width="1.4"/>
<path d="M1876.4,639.9 1861.6,725.5" fill="none" stroke="#000" stroke-width="1.4"/>
<polygon points="1859.3,738.6 1856.9,724.7 1866.2,726.3" fill="#000" stroke="#000" stroke-width="1.4"/>
<path d="M1894,639.9 1941.1,726.9" fill="none" stroke="#000" stroke-width="1.4"/>
<polygon points="1947.4,738.6 1936.9,729.1 1945.2,724.7" fill="#000" stroke="#000" stroke-width="1.4"/>
<path d="M1919.3,639.9 1922.9,641.8 1926.6,643.6 1930.2,645.5 1933.8,647.5 1937.4,649.6 1941,651.7 1944.4,654 1947.9,656.3 1951.3,658.7 1954.6,661.2 1957.8,663.7 1961.1,666.4 1964.2,669 1967.3,671.8 1970.3,674.6 1973.2,677.5 1976,680.5 1978.8,683.5 1981.5,686.6 1984.1,689.7 1986.6,692.9 1989.1,696.2 1991.4,699.5 1993.7,702.8 1995.8,706.2 1997.9,709.6 1999.8,713.1 2001.7,716.6 2003.4,720.2 2005,723.8 2006.6,727.5 2008,731.2 2009.2,734.9 2010.4,738.6 2011.4,742.4 2012.4,746.2 2013.1,750 2013.8,753.9 2014.3,757.8 2014.7,761.7 2015,765.6 2015.1,769.5 2015.1,773.4 2015,777.4 2014.8,781.3 2014.4,785.3 2014,789.2 2013.4,793.2 2012.7,797.1 2011.9,801 2010.9,804.9 2009.9,808.8 2008.7,812.7 2007.5,816.5 2006.1,820.4 2004.7,824.2 2003.1,827.9 2001.4,831.7 1999.7,835.4 1997.8,839 1995.8,842.6 1993.8,846.2 1991.6,849.7 1989.4,853.2 1987,856.6 1984.6,860 1982.1,863.3 1979.5,866.5 1976.8,869.7 1974,872.8 1971.7,875.1" fill="none" stroke="#000" stroke-width="1.4"/>
<polygon points="1962.3,884.5 1968.4,871.8 1975,878.4" fill="#000" stroke="#000" stroke-width="1.4"/>
<path d="M1921.1,639.9 1923.5,641.7 1925.9,643.5 1928.3,645.3 1930.7,647.1 1933.1,648.9 1935.5,650.6 1937.9,652.4 1940.4,654.2 1942.8,656 1945.2,657.7 1947.6,659.5 1950,661.3 1952.4,663.1 1954.8,664.9 1957.2,666.6 1959.6,668.4 1962,670.2 1964.4,672 1966.8,673.8 1969.2,675.6 1971.6,677.4 1974,679.3 1976.4,681.1 1978.7,682.9 1981.1,684.8 1983.4,686.6 1985.8,688.5 1988.1,690.4 1990.4,692.3 1992.8,694.1 1995.2,696 1997.5,697.8 1999.9,699.6 2002.3,701.4 2004.7,703.3 2007,705.1 2009.4,707 2011.7,708.8 2014.1,710.7 2016.3,712.7 2018.6,714.7 2020.8,716.7 2022.9,718.8 2025,720.9 2027.1,723.1 2029,725.4 2030.9,727.7 2032.7,730.1 2034.4,732.6 2036,735.1 2037.5,737.7 2038.9,740.4 2040.3,743 2041.6,745.7 2042.9,748.4 2044.1,751.2 2045.3,753.9 2046.4,756.7 2047.5,759.5 2048.6,762.3 2049.7,765.1 2050.7,767.9 2051.7,770.7 2052.7,773.5 2053.7,776.4 2054.7,779.2 2055.7,782 2056.7,784.8 2057.6,787.7 2058.5,790.5 2059.3,793.4 2060,796.3 2060.7,799.3 2061.2,802.2 2061.6,805.2 2061.9,808.2 2062.2,811.2 2062.3,814.2 2062.4,817.1 2062.4,820.1 2062.4,823.1 2062.4,826.1 2062.4,829.1 2062.4,832.1 2062.5,835.1 2062.5,838.1 2062.5,841.1 2062.6,844.1 2062.6,847.1 2062.6,850.1 2062.7,853.1 2062.7,856.1 2062.7,859.1 2062.7,862.1 2062.7,865.1 2062.7,868.1 2062.7,871.1 2062.7,874.1 2062.7,877.1 2062.7,880.1 2062.7,883.1 2062.7,886.1 2062.7,889.1 2062.7,892.1 2062.7,895.1 2062.7,898.1 2062.7,901.1 2062.7,904.1 2062.7,907.1 2062.7,910 2062.7,913 2062.7,916 2062.7,919 2062.7,922 2062.7,925 2062.7,928 2062.6,931 2062.6,934 2062.6,937 2062.6,940 2062.6,943 2062.6,946 2062.6,949 2062.6,952 2062.6,955 2062.6,958 2062.6,961 2062.6,964 2062.5,967 2062.5,970 2062.5,973 2062.5,976 2062.5,979 2062.5,982 2062.5,985 2062.5,988 2062.5,991 2062.5,994 2062.5,997 2062.5,1000 2062.5,1003 2062.5,1005.9 2062.5,1008.9 2062.5,1011.9 2062.5,1014.9 2062.5,1017.9 2062.5,1020.9 2062.5,1023.9 2062.5,1026.9 2062.5,1029.9 2062.5,1032.9 2062.5,1035.9 2062.5,1038.9 2062.5,1041.9 2062.5,1044.9 2062.5,1047.9 2062.5,1050.9 2062.5,1053.9 2062.5,1056.9 2062.5,1059.9 2062.5,1062.9 2062.5,1065.9 2062.5,1068.9 2062.5,1071.9 2062.5,1074.9 2062.5,1077.9 2062.5,1080.9 2062.5,1083.9 2062.5,1086.9 2062.5,1089.9 2062.5,1092.9 2062.5,1095.9 2062.5,1098.9 2062.5,1101.8 2062.5,1104.8 2062.5,1107.8 2062.5,1110.8 2062.5,1113.8 2062.5,1116.8 2062.5,1119.8 2062.5,1122.8 2062.5,1125.8 2062.5,1128.8 2062.5,1131.8 2062.5,1134.8 2062.5,1137.8 2062.5,1140.8 2062.5,1143.8 2062.5,1146.8 2062.5,1149.8 2062.5,1152.8 2062.5,1155.8 2062.5,1158.8 2062.5,1161.8 2062.5,1164.8 2062.5,1167.8 2062.5,1170.8 2062.5,1173.8 2062.5,1176.8 2062.5,1179.8 2062.5,1182.8 2062.5,1185.8 2062.5,1188.8 2062.5,1191.8 2062.5,1194.8 2062.5,1197.7 2062.5,1200.7 2062.5,1203.7 2062.5,1206.7 2062.5,1209.7 2062.5,1212.7 2062.5,1215.7 2062.5,1218.7 2062.5,1221.7 2062.5,1224.7 2062.5,1227.7 2062.5,1230.7 2062.5,1233.7 2062.5,1236.7 2062.5,1239.7 2062.5,1242.7 2062.5,1245.7 2062.5,1248.7 2062.5,1251.7 2062.5,1254.7 2062.5,1257.7 2062.5,1260.7 2062.5,1263.7 2062.5,1266.7 2062.5,1269.7 2062.5,1272.7 2062.5,1275.7 2062.5,1278.7 2062.5,1281.7 2062.5,1284.7 2062.5,1287.7 2062.5,1290.7 2062.5,1293.6 2062.5,1296.6 2062.5,1299.6 2062.5,1302.6 2062.5,1305.6 2062.5,1308.6 2062.5,1311.6 2062.5,1314.6 2062.5,1317.6 2062.5,1320.6 2062.5,1323.6 2062.5,1326.6 2062.5,1329.6 2062.5,1332.6 2062.5,1335.6 2062.5,1338.6 2062.5,1341.6 2062.5,1344.6 2062.5,1347.6 2062.5,1350.6 2062.5,1353.6 2062.5,1356.6 2062.5,1359.6 2062.5,1362.6 2062.5,1365.6 2062.5,1368.6 2062.5,1371.6 2062.5,1374.6 2062.5,1377.6 2062.5,1380.6 2062.5,1383.6 2062.5,1386.6 2062.5,1389.5 2062.5,1392.5 2062.5,1395.5 2062.5,1398.5 2062.5,1401.5 2062.5,1404.5 2062.5,1407.5 2062.5,1410.5 2062.5,1413.5 2062.5,1416.5 2062.5,1419.5 2062.5,1422.5 2062.5,1425.5 2062.5,1428.5 2062.5,1431.5 2062.5,1434.5 2062.5,1437.5 2062.5,1440.5 2062.5,1443.5 2062.5,1446.5 2062.5,1449.5 2062.5,1452.5 2062.5,1455.5 2062.5,1458.5 2062.5,1461.5 2062.5,1464.5 2062.5,1467.5 2062.5,1470.5 2062.5,1473.5 2062.5,1476.5 2062.5,1479.5 2062.5,1482.5 2062.5,1485.4 2062.5,1488.4 2062.5,1491.4 2062.5,1494.4 2062.5,1497.4 2062.5,1500.4 2062.5,1503.4 2062.5,1506.4 2062.5,1509.4 2062.5,1512.4 2062.5,1515.4 2062.5,1518.4 2062.5,1521.4 2062.5,1524.4 2062.5,1527.4 2062.5,1530.4 2062.5,1533.4 2062.5,1536.4 2062.5,1539.4 2062.5,1542.4 2062.5,1545.4 2062.5,1548.4 2062.5,1551.4 2062.5,1554.4 2062.5,1557.4 2062.5,1560.4 2062.5,1563.4 2062.5,1566.4 2062.5,1569.4 2062.5,1572.4 2062.5,1575.4 2062.5,1578.4 2062.5,1581.3 2062.5,1584.3 2062.5,1587.3 2062.5,1590.3 2062.5,1593.3 2062.5,1596.3 2062.5,1599.3 2062.5,1602.3 2062.5,1605.3 2062.5,1608.3 2062.5,1611.3 2062.5,1614.3 2062.5,1616" fill="none" stroke="#000" stroke-width="1.4"/>
<polygon points="2062.5,1629.3 2057.8,1616 2067.2,1616" fill="#000" stroke="#000" stroke-width="1.4"/>
<path d="M599.3,766.5 595.3,766.8 591.3,767.2 587.3,767.7 583.3,768.2 579.4,768.6 575.4,769.1 571.4,769.5 567.4,770 563.4,770.4 559.4,770.8 555.4,771.2 551.4,771.6 547.4,772.1 543.4,772.5 539.4,772.8 535.4,773.2 531.4,773.6 527.4,774 523.4,774.4 519.4,774.7 515.4,775.1 511.4,775.5 507.4,775.8 503.4,776.2 499.3,776.5 495.3,776.9 491.3,777.3 487.3,777.6 483.3,777.9 479.3,778.3 475.2,778.6 471.2,779 467.2,779.3 463.2,779.7 459.1,780 455.1,780.4 451.1,780.7 447.1,781.1 443,781.4 439,781.8 435,782.1 431,782.5 427,782.8 422.9,783.2 418.9,783.6 414.9,783.9 410.9,784.3 406.8,784.7 402.8,785 398.8,785.4 394.8,785.8 390.8,786.2 386.8,786.6 382.7,787 378.7,787.4 374.7,787.8 370.7,788.2 366.7,788.7 362.7,789.1 358.7,789.5 354.7,790 350.6,790.4 346.6,790.9 342.6,791.4 338.6,791.9 334.6,792.3 330.6,792.8 326.6,793.4 322.7,793.9 318.7,794.4 314.7,794.9 310.7,795.5 306.7,796 302.7,796.6 298.7,797.2 294.8,797.8 290.8,798.4 286.8,799 282.9,799.6 278.9,800.3 274.9,800.9 271,801.6 267,802.3 263.1,803 259.1,803.7 255.2,804.4 251.2,805.1 247.3,805.9 243.3,806.6 239.4,807.4 235.5,808.2 231.5,809 227.6,809.9 223.7,810.7 219.8,811.6 215.9,812.5 212,813.4 208.1,814.3 204.2,815.2 200.3,816.2 196.4,817.1 192.5,818.1 188.6,819.1 184.7,820.1 180.9,821.2 177,822.3 173.1,823.3 169.3,824.4 165.4,825.6 161.6,826.7 157.7,827.9 153.9,829.1 150.1,830.3 146.2,831.5 142.4,832.8 138.6,834.1 134.8,835.4 131,836.7 127.2,838 123.4,839.4 119.6,840.8 115.8,842.2 112.1,843.7 108.3,845.2 104.6,846.8 100.9,848.4 97.1,850.1 93.5,851.8 89.8,853.6 86.1,855.4 82.5,857.4 78.9,859.4 75.3,861.4 71.7,863.6 68.2,865.9 64.8,868.2 61.5,870.7 58.3,873.2 55.3,875.9 52.4,878.8 49.9,881.7 47.5,884.9 45.5,888.1 43.7,891.5 42.1,894.9 40.7,898.4 39.7,902 38.8,905.6 38.1,909.2 37.7,912.8 37.5,916.4 37.5,920.1 37.7,923.7 38,927.3 38.6,930.9 39.3,934.5 40.2,938.2 41.2,941.8 42.4,945.4 43.7,949 45.2,952.6 46.8,956.2 48.5,959.8 50.3,963.3 52.3,966.9 54.3,970.5 56.4,974 58.7,977.5 60.9,981 63.3,984.5 65.7,988 68.2,991.4 70.7,994.8 73.3,998.2 75.9,1001.6 78.5,1005 81.1,1008.3 83.8,1011.6 86.4,1014.9 89.1,1018.1 91.8,1021.3 94.4,1024.5 97.1,1027.7 99.7,1030.9 102.4,1034 105.1,1037.1 107.7,1040.2 110.4,1043.3 113.1,1046.3 115.7,1049.3 118.4,1052.4 121.1,1055.4 123.8,1058.3 126.4,1061.3 129.1,1064.3 131.8,1067.2 134.5,1070.1 137.2,1073.1 139.8,1076 142.5,1078.9 145.2,1081.8 147.9,1084.7 150.6,1087.6 153.3,1090.4 155.9,1093.3 158.6,1096.2 161.3,1099.1 164,1101.9 166.7,1104.8 169.4,1107.7 172.1,1110.5 174.8,1113.4 177.4,1116.3 180.1,1119.2 182.8,1122.1 185.5,1125 188.2,1127.9 190.9,1130.8 193.6,1133.7 196.2,1136.6 198.9,1139.5 201.6,1142.5 204.3,1145.5 207,1148.4 209.7,1151.4 212.3,1154.4 215,1157.5 217.7,1160.5 220.4,1163.6 223,1166.6 225.7,1169.7 228.4,1172.9 231.1,1176 233.2,1178.5" fill="none" stroke="#000" stroke-width="1.4"/>
<polygon points="241.6,1188.8 229.5,1181.5 236.8,1175.5" fill="#000" stroke="#000" stroke-width="1.4"/>
<path d="M599.3,773.4 595.3,774.3 591.3,775 587.3,775.8 583.3,776.6 579.4,777.3 575.4,778.1 571.4,778.8 567.4,779.5 563.4,780.3 559.4,781 555.4,781.8 551.4,782.5 547.4,783.3 543.4,784 539.4,784.8 535.4,785.5 531.4,786.2 527.3,787 523.3,787.7 519.3,788.5 515.3,789.3 511.3,790 507.3,790.8 503.3,791.5 499.3,792.3 495.3,793.1 491.3,793.8 487.3,794.6 483.3,795.4 479.3,796.2 475.3,797 471.4,797.8 467.4,798.6 463.4,799.4 459.4,800.2 455.4,801 451.4,801.8 447.4,802.6 443.4,803.5 439.4,804.3 435.5,805.1 431.5,806 427.5,806.9 423.5,807.7 419.6,808.6 415.6,809.5 411.6,810.4 407.6,811.3 403.7,812.2 399.7,813.1 395.8,814 391.8,815 387.8,815.9 383.9,816.9 379.9,817.8 376,818.8 372.1,819.8 368.1,820.8 364.2,821.8 360.2,822.8 356.3,823.9 352.4,824.9 348.5,826 344.5,827 340.6,828.1 336.7,829.2 332.8,830.3 328.9,831.4 325,832.5 321.1,833.6 317.2,834.7 313.3,835.9 309.4,837 305.5,838.2 301.6,839.4 297.7,840.6 293.9,841.8 290,843 286.1,844.2 282.3,845.4 278.4,846.6 274.6,847.9 270.7,849.2 266.9,850.4 263,851.7 259.2,853 255.3,854.3 251.5,855.6 247.7,856.9 243.9,858.2 240,859.6 236.2,860.9 232.4,862.3 228.6,863.7 224.8,865 221,866.4 217.2,867.8 213.4,869.2 209.7,870.7 205.9,872.1 202.1,873.5 198.3,875 194.6,876.4 190.8,877.9 187.1,879.4 184.5,880.4" fill="none" stroke="#000" stroke-width="1.4"/>
<polygon points="172.2,885.4 182.8,876.1 186.3,884.8" fill="#000" stroke="#000" stroke-width="1.4"/>
<path d="M1104.8,767.3 1100.7,767.4 1096.7,767.9 1092.7,768.4 1088.7,768.8 1084.7,769.3 1080.8,769.7 1076.8,770.2 1072.8,770.6 1068.8,771 1064.8,771.5 1060.8,771.9 1056.8,772.3 1052.8,772.7 1048.8,773.2 1044.8,773.6 1040.8,774 1036.8,774.4 1032.7,774.8 1028.7,775.2 1024.7,775.6 1020.7,776 1016.7,776.4 1012.7,776.8 1008.7,777.2 1004.7,777.6 1000.7,778 996.7,778.4 992.6,778.7 988.6,779.1 984.6,779.5 980.6,779.9 976.6,780.2 972.6,780.6 968.6,781 964.5,781.4 960.5,781.7 956.5,782.1 952.5,782.4 948.5,782.8 944.4,783.2 940.4,783.5 936.4,783.9 932.4,784.2 928.4,784.6 924.3,785 920.3,785.3 916.3,785.7 912.3,786 908.2,786.4 904.2,786.7 900.2,787.1 896.2,787.4 892.1,787.8 888.1,788.1 884.1,788.5 880.1,788.8 876,789.2 872,789.5 868,789.9 864,790.2 859.9,790.6 855.9,790.9 851.9,791.3 847.9,791.6 843.8,792 839.8,792.3 835.8,792.7 831.8,793 827.7,793.4 823.7,793.7 819.7,794.1 815.6,794.4 811.6,794.8 807.6,795.1 803.6,795.5 799.5,795.9 795.5,796.2 791.5,796.6 787.5,797 783.4,797.3 779.4,797.7 775.4,798.1 771.4,798.4 767.3,798.8 763.3,799.2 759.3,799.5 755.3,799.9 751.2,800.3 747.2,800.7 743.2,801.1 739.2,801.5 735.2,801.9 731.1,802.2 727.1,802.6 723.1,803 719.1,803.4 715,803.8 711,804.3 707,804.7 703,805.1 699,805.5 695,805.9 690.9,806.3 686.9,806.8 682.9,807.2 678.9,807.6 674.9,808 670.9,808.5 666.8,808.9 662.8,809.4 658.8,809.8 654.8,810.3 650.8,810.7 646.8,811.2 642.8,811.7 638.8,812.1 634.8,812.6 630.8,813.1 626.8,813.6 622.7,814.1 618.7,814.5 614.7,815 610.7,815.5 606.7,816 602.7,816.6 598.7,817.1 594.7,817.6 590.7,818.1 586.7,818.7 582.7,819.2 578.8,819.7 574.8,820.3 570.8,820.8 566.8,821.4 562.8,821.9 558.8,822.5 554.8,823.1 550.8,823.7 546.8,824.3 542.9,824.8 538.9,825.4 534.9,826 530.9,826.7 526.9,827.3 522.9,827.9 519,828.5 515,829.2 511,829.8 507,830.4 503.1,831.1 499.1,831.8 495.1,832.4 491.2,833.1 487.2,833.8 483.2,834.5 479.3,835.2 475.3,835.9 471.3,836.6 467.4,837.3 463.4,838 459.5,838.7 455.5,839.5 451.6,840.2 447.6,841 443.7,841.7 439.7,842.5 435.8,843.3 431.8,844.1 427.9,844.9 423.9,845.7 420,846.5 416.1,847.3 412.1,848.1 408.2,849 404.2,849.8 400.3,850.7 396.4,851.5 392.5,852.4 388.5,853.3 384.6,854.1 380.7,855 376.8,855.9 372.8,856.9 368.9,857.8 365,858.7 361.1,859.6 357.2,860.6 353.3,861.6 349.4,862.5 345.5,863.5 341.6,864.5 337.7,865.5 333.8,866.5 329.9,867.5 326,868.5 322.1,869.6 318.2,870.6 314.3,871.7 310.4,872.7 306.5,873.8 302.6,874.9 298.8,876 294.9,877.1 291,878.2 287.1,879.3 283.3,880.5 279.4,881.6 276.7,882.6" fill="none" stroke="#000" stroke-width="1.4"/>
<polygon points="264.1,886.9 275.1,878.1 278.2,887" fill="#000" stroke="#000" stroke-width="1.4"/>
<path d="M1104.8,770.1 1100.8,770.7 1096.8,771.7 1092.8,772.6 1088.9,773.5 1084.9,774.4 1080.9,775.3 1076.9,776.1 1072.9,776.9 1069,777.7 1065,778.4 1061,779.2 1057,779.9 1053,780.6 1049.1,781.2 1045.1,781.9 1041.1,782.5 1037.1,783.1 1033.1,783.7 1029.2,784.3 1025.2,784.8 1021.2,785.3 1017.2,785.8 1013.2,786.3 1009.2,786.8 1005.3,787.2 1001.3,787.6 997.3,788 993.3,788.4 989.3,788.8 985.3,789.1 981.3,789.4 977.3,789.8 973.3,790.1 969.4,790.3 965.4,790.6 961.4,790.8 957.4,791.1 953.4,791.3 949.4,791.5 945.4,791.7 941.4,791.8 937.4,792 933.4,792.1 929.4,792.3 925.4,792.4 921.4,792.5 917.4,792.6 913.4,792.6 909.4,792.7 905.4,792.7 901.3,792.8 897.3,792.8 893.3,792.8 889.3,792.9 885.3,792.9 881.3,792.9 877.3,792.8 873.2,792.8 869.2,792.8 865.2,792.8 861.2,792.7 857.2,792.7 853.1,792.6 849.1,792.6 845.1,792.5 841.1,792.5 837,792.4 833,792.4 829,792.3 825,792.2 820.9,792.2 816.9,792.1 812.9,792.1 808.8,792 804.8,791.9 800.8,791.9 796.7,791.8 792.7,791.8 788.6,791.8 784.6,791.7 780.6,791.7 776.5,791.7 772.5,791.7 768.4,791.6 764.4,791.6 760.3,791.6 756.3,791.7 752.2,791.7 748.2,791.7 744.1,791.8 740.1,791.8 736,791.9 732,791.9 727.9,792 723.9,792.1 719.8,792.2 715.7,792.4 711.7,792.5 707.6,792.7 703.6,792.8 699.5,793 695.5,793.2 691.5,793.4 687.4,793.7 683.4,793.9 679.3,794.2 675.3,794.5 671.3,794.8 667.2,795.1 663.2,795.4 659.2,795.8 655.2,796.2 651.2,796.6 647.2,797 643.2,797.4 639.2,797.9 635.2,798.4 631.2,798.9 627.2,799.4 623.2,800 619.3,800.6 615.3,801.2 611.4,801.8 607.4,802.5 603.5,803.1 599.5,803.8 595.6,804.6 591.7,805.3 587.8,806.1 583.9,807 580,807.8 576.1,808.7 572.2,809.6 568.4,810.5 564.5,811.5 560.7,812.5 556.8,813.5 553,814.6 549.2,815.7 545.4,816.8 541.6,817.9 537.8,819.1 534,820.4 530.3,821.6 526.5,822.9 522.8,824.2 519.1,825.6 515.3,827 511.6,828.4 508,829.9 504.3,831.4 500.6,833 497,834.6 493.3,836.2 489.7,837.9 486.1,839.6 482.5,841.3 479,843.1 475.4,844.9 471.9,846.8 468.3,848.7 464.8,850.7 461.3,852.7 457.8,854.7 454.4,856.8 450.9,858.9 447.5,861.1 444.1,863.3 440.7,865.6 437.3,867.9 433.9,870.3 430.6,872.7 427.3,875.1 424.8,877.1" fill="none" stroke="#000" stroke-width="1.4"/>
<polygon points="414.4,885.4 421.9,873.4 427.7,880.8" fill="#000" stroke="#000" stroke-width="1.4"/>
<path d="M1104.8,771 1100.8,771.6 1096.8,772.1 1092.8,772.7 1088.8,773.2 1084.8,773.8 1080.8,774.3 1076.8,774.9 1072.8,775.4 1068.9,776 1064.9,776.5 1060.9,777.1 1056.9,777.6 1052.9,778.1 1048.9,778.7 1044.9,779.2 1040.9,779.8 1036.9,780.3 1032.9,780.9 1028.9,781.4 1024.9,782 1020.9,782.5 1016.9,783.1 1012.9,783.6 1008.9,784.2 1004.9,784.7 1000.9,785.3 996.9,785.8 992.9,786.4 988.9,786.9 984.9,787.5 980.9,788.1 976.9,788.6 972.9,789.2 969,789.7 965,790.3 961,790.9 957,791.4 953,792 949,792.6 945,793.1 941,793.7 937,794.3 933,794.8 929,795.4 925,796 921,796.6 917,797.2 913,797.7 909,798.3 905.1,798.9 901.1,799.5 897.1,800.1 893.1,800.7 889.1,801.3 885.1,801.9 881.1,802.5 877.1,803.1 873.1,803.7 869.2,804.3 865.2,804.9 861.2,805.6 857.2,806.2 853.2,806.8 849.2,807.4 845.2,808.1 841.3,808.7 837.3,809.3 833.3,810 829.3,810.6 825.3,811.3 821.3,811.9 817.4,812.6 813.4,813.2 809.4,813.9 805.4,814.5 801.5,815.2 797.5,815.9 793.5,816.6 789.5,817.2 785.6,817.9 781.6,818.6 777.6,819.3 773.6,820 769.7,820.7 765.7,821.4 761.7,822.1 757.8,822.8 753.8,823.6 749.8,824.3 745.9,825 741.9,825.7 737.9,826.5 734,827.2 730,828 726,828.7 722.1,829.5 718.1,830.2 714.2,831 710.2,831.8 706.3,832.6 702.3,833.4 698.4,834.1 694.4,834.9 690.4,835.7 686.5,836.5 682.5,837.3 678.6,838.1 674.6,838.9 670.7,839.7 666.7,840.5 662.8,841.3 658.8,842.1 654.9,842.9 650.9,843.7 647,844.5 643,845.3 639,846.1 635.1,846.8 631.1,847.6 627.1,848.4 623.2,849.2 619.2,849.9 615.2,850.7 611.3,851.4 607.3,852.2 603.3,853 599.4,853.8 595.4,854.5 591.4,855.3 587.5,856.2 583.5,857 579.6,857.9 575.7,858.8 571.7,859.8 567.8,860.8 563.9,861.8 560.1,862.9 556.2,864 552.3,865.2 548.5,866.4 544.7,867.7 540.9,869.1 537.1,870.5 533.3,872 529.6,873.6 525.8,875.3 522.2,877 518.6,878.9 515.1,880.9 511.8,883.1 508.7,885.5 505.9,888.2 503.4,891.1 501.2,894.3 499.3,897.6 497.7,901.2 496.3,904.9 495.1,908.8 494.1,912.7 493.1,916.7 492.3,920.7 491.5,924.8 490.7,928.8 489.7,932.7 488.7,936.6 487.5,940.5 486.1,944.2 484.7,947.9 483.2,951.6 481.6,955.3 480,959 478.3,962.6 476.6,966.2 474.9,969.9 473.2,973.5 471.4,977.1 469.6,980.7 467.8,984.4 466,988 464.2,991.6 462.4,995.2 460.6,998.8 458.8,1002.4 456.9,1006.1 455.1,1009.7 453.4,1013.3 451.6,1017 449.9,1020.6 448.2,1024.3 446.5,1027.9 445.4,1030.5" fill="none" stroke="#000" stroke-width="1.4"/>
<polygon points="440.1,1042.7 441.1,1028.6 449.7,1032.3" fill="#000" stroke="#000" stroke-width="1.4"/>
<path d="M1104.8,772 1100.8,772.8 1096.9,773.7 1092.9,774.5 1089,775.4 1085.1,776.3 1081.1,777.2 1077.2,778 1073.2,778.9 1069.3,779.7 1065.3,780.6 1061.4,781.4 1057.4,782.2 1053.5,783.1 1049.5,783.9 1045.5,784.7 1041.6,785.6 1037.6,786.4 1033.7,787.2 1029.7,788 1025.8,788.9 1021.8,789.7 1017.8,790.5 1013.9,791.3 1009.9,792.1 1005.9,792.9 1002,793.7 998,794.5 994.1,795.3 990.1,796.1 986.1,796.9 982.2,797.7 978.2,798.5 974.2,799.3 970.3,800 966.3,800.8 962.3,801.6 958.4,802.4 954.4,803.2 950.4,804 946.5,804.7 942.5,805.5 938.5,806.3 934.6,807.1 930.6,807.9 926.6,808.6 922.6,809.4 918.7,810.2 914.7,811 910.7,811.8 906.8,812.5 902.8,813.3 898.8,814.1 894.9,814.9 890.9,815.6 886.9,816.4 883,817.2 879,818 875,818.8 871.1,819.5 867.1,820.3 863.1,821.1 859.1,821.9 855.2,822.7 851.2,823.5 847.2,824.3 843.3,825 839.3,825.8 835.4,826.6 831.4,827.4 827.4,828.2 823.5,829 819.5,829.8 815.5,830.6 811.6,831.4 807.6,832.2 803.6,833 799.7,833.9 795.7,834.7 791.8,835.5 787.8,836.3 783.9,837.1 779.9,838 775.9,838.8 772,839.6 768,840.5 764.1,841.3 760.1,842.2 756.2,843 752.2,843.9 748.3,844.7 744.3,845.6 740.4,846.4 736.4,847.3 732.5,848.2 728.5,849 724.6,849.9 720.7,850.8 716.7,851.7 712.8,852.6 708.8,853.5 704.9,854.4 701,855.3 697,856.2 693.1,857.1 689.2,858 685.2,859 681.3,859.9 677.4,860.8 673.4,861.8 669.5,862.7 665.6,863.7 661.7,864.6 657.7,865.6 653.8,866.6 649.9,867.6 646,868.5 642.1,869.5 638.2,870.5 634.2,871.5 630.3,872.5 626.4,873.6 622.5,874.6 618.6,875.6 614.7,876.6 610.8,877.7 606.9,878.7 603,879.8 599.1,880.9 596.4,881.7" fill="none" stroke="#000" stroke-width="1.4"/>
<polygon points="583.6,885.4 595,877.2 597.7,886.2" fill="#000" stroke="#000" stroke-width="1.4"/>
<path d="M1104.8,780.4 780.4,881.4" fill="none" stroke="#000" stroke-width="1.4"/>
<polygon points="767.7,885.4 779,877 781.8,885.9" fill="#000" stroke="#000" stroke-width="1.4"/>
<path d="M1115.5,786.1 956.2,878.7" fill="none" stroke="#000" stroke-width="1.4"/>
<polygon points="944.7,885.4 953.8,874.7 958.6,882.8" fill="#000" stroke="#000" stroke-width="1.4"/>
<path d="M1140.4,786.1 1081,874.4" fill="none" stroke="#000" stroke-width="1.4"/>
<polygon points="1073.6,885.4 1077.1,871.7 1084.9,877" fill="#000" stroke="#000" stroke-width="1.4"/>
<path d="M1160.6,786.1 1174,872.3" fill="none" stroke="#000" stroke-width="1.4"/>
<polygon points="1176.1,885.4 1169.4,873 1178.7,871.5" fill="#000" stroke="#000" stroke-width="1.4"/>
<path d="M1559.3,786.1 1405.8,878.5" fill="none" stroke="#000" stroke-width="1.4"/>
<polygon points="1394.4,885.4 1403.4,874.5 1408.2,882.6" fill="#000" stroke="#000" stroke-width="1.4"/>
<path d="M1576.4,786.1 1573.9,789.3 1571.3,792.4 1568.7,795.6 1566.2,798.8 1563.6,802 1561.1,805.3 1558.7,808.5 1556.2,811.8 1553.8,815 1551.4,818.3 1549,821.6 1546.7,824.9 1544.3,828.2 1542,831.6 1539.7,834.9 1537.5,838.3 1535.2,841.6 1533,845 1530.8,848.4 1528.6,851.8 1526.5,855.3 1524.3,858.7 1522.2,862.1 1520.1,865.6 1518,869.1 1516,872.6 1514,876.1 1511.9,879.6 1509.9,883.1 1508,886.6 1506,890.1 1504.1,893.7 1502.1,897.2 1500.2,900.8 1498.4,904.4 1496.5,908 1494.6,911.6 1492.8,915.2 1491,918.8 1489.2,922.4 1487.4,926 1485.7,929.7 1483.9,933.3 1482.2,937 1480.5,940.7 1478.8,944.3 1477.1,948 1475.4,951.7 1473.8,955.4 1472.1,959.1 1470.5,962.8 1468.9,966.5 1467.3,970.3 1465.7,974 1464.2,977.7 1462.6,981.5 1461.1,985.2 1459.5,989 1458,992.8 1456.5,996.5 1455.1,1000.3 1453.6,1004.1 1452.1,1007.9 1450.7,1011.7 1449.2,1015.5 1447.8,1019.3 1446.4,1023.1 1445,1026.9 1443.6,1030.8 1442.2,1034.6 1440.9,1038.4 1439.5,1042.2 1438.1,1046.1 1436.8,1049.9 1435.5,1053.8 1434.2,1057.6 1432.9,1061.5 1431.6,1065.3 1430.3,1069.2 1429,1073 1427.7,1076.9 1426.4,1080.8 1425.2,1084.6 1423.9,1088.5 1422.7,1092.4 1421.5,1096.2 1420.2,1100.1 1419,1104 1417.8,1107.9 1416.6,1111.8 1415.4,1115.6 1414.2,1119.5 1413,1123.4 1411.9,1127.3 1410.7,1131.2 1409.5,1135.1 1408.3,1138.9 1407.2,1142.8 1406,1146.7 1404.9,1150.6 1403.7,1154.5 1402.6,1158.4 1401.5,1162.2 1400.3,1166.1 1399.2,1170 1398.1,1173.9 1397.3,1176.6" fill="none" stroke="#000" stroke-width="1.4"/>
<polygon points="1393.6,1189.4 1392.8,1175.3 1401.8,1177.9" fill="#000" stroke="#000" stroke-width="1.4"/>
<path d="M1589.6,786.1 1563.2,872.7" fill="none" stroke="#000" stroke-width="1.4"/>
<polygon points="1559.3,885.4 1558.7,871.3 1567.7,874.1" fill="#000" stroke="#000" stroke-width="1.4"/>
<path d="M1598.2,786.1 1598.3,790.2 1598.5,794.3 1598.6,798.4 1598.7,802.5 1598.8,806.6 1598.9,810.7 1599,814.8 1599.1,818.9 1599.1,823 1599.2,827.1 1599.2,831.2 1599.3,835.3 1599.3,839.4 1599.3,843.5 1599.3,847.6 1599.3,851.7 1599.2,855.8 1599.2,859.9 1599.1,864 1599,868.1 1599,872.2 1598.9,876.3 1598.7,880.4 1598.6,884.5 1598.5,888.6 1598.3,892.7 1598.1,896.8 1597.9,900.9 1597.7,904.9 1597.5,909 1597.2,913.1 1597,917.2 1596.7,921.3 1596.4,925.4 1596.1,929.5 1595.7,933.5 1595.4,937.6 1595,941.7 1594.6,945.8 1594.2,949.8 1593.8,953.9 1593.3,958 1592.8,962 1592.3,966.1 1591.8,970.2 1591.3,974.2 1590.7,978.3 1590.2,982.3 1589.6,986.4 1588.9,990.4 1588.3,994.5 1587.6,998.5 1586.9,1002.6 1586.2,1006.6 1585.5,1010.6 1584.7,1014.7 1584,1018.7 1583.2,1022.7 1582.3,1026.7 1581.6,1029.8" fill="none" stroke="#000" stroke-width="1.4"/>
<polygon points="1578.8,1042.8 1577.1,1028.8 1586.2,1030.8" fill="#000" stroke="#000" stroke-width="1.4"/>
<path d="M1616.5,786.1 1690.3,875.2" fill="none" stroke="#000" stroke-width="1.4"/>
<polygon points="1698.8,885.4 1686.7,878.2 1693.9,872.2" fill="#000" stroke="#000" stroke-width="1.4"/>
<path d="M1652.4,786.1 1870.2,880.1" fill="none" stroke="#000" stroke-width="1.4"/>
<polygon points="1882.4,885.4 1868.3,884.4 1872.1,875.8" fill="#000" stroke="#000" stroke-width="1.4"/>
<path d="M1269.4,933 346.5,1186.5" fill="none" stroke="#000" stroke-width="1.4"/>
<polygon points="333.7,1190 345.3,1181.9 347.8,1191" fill="#000" stroke="#000" stroke-width="1.4"/>
<path d="M1366.4,933 1368.5,936.5 1370.6,939.9 1372.7,943.4 1374.8,946.9 1376.9,950.3 1379,953.8 1381.1,957.3 1383.2,960.8 1385.3,964.2 1387.4,967.7 1389.4,971.2 1391.5,974.7 1393.6,978.2 1395.7,981.7 1397.8,985.1 1399.9,988.6 1402,992.1 1404.1,995.6 1406.2,999.1 1408.2,1002.6 1410.3,1006 1412.4,1009.5 1414.5,1013 1416.6,1016.5 1418.7,1020 1420.8,1023.5 1422.9,1027 1425,1030.5 1427.1,1033.9 1429.2,1037.4 1431.3,1040.9 1433.4,1044.4 1435.5,1047.9 1437.6,1051.3 1439.7,1054.8 1441.8,1058.3 1444,1061.8 1446.1,1065.2 1448.2,1068.7 1450.3,1072.2 1452.5,1075.6 1454.6,1079.1 1456.7,1082.6 1458.9,1086 1461,1089.5 1463.2,1092.9 1465.3,1096.4 1467.5,1099.8 1469.6,1103.3 1471.8,1106.7 1474,1110.2 1476.1,1113.6 1478.3,1117 1480.5,1120.5 1482.7,1123.9 1484.9,1127.3 1487.1,1130.7 1489.3,1134.1 1491.5,1137.5 1493.8,1140.9 1496,1144.3 1498.2,1147.7 1500.4,1151.1 1502.7,1154.5 1504.9,1157.9 1507.2,1161.3 1509.5,1164.6 1511.7,1168 1514,1171.4 1516.3,1174.7 1518.6,1178.1 1520.9,1181.4 1523.2,1184.7 1525.5,1188.1 1527.9,1191.4 1530.2,1194.7 1532.5,1198 1534.9,1201.3 1537.3,1204.6 1539.6,1207.9 1542,1211.2 1544.4,1214.5 1546.8,1217.8 1549.2,1221 1551.6,1224.3 1554,1227.6 1556.5,1230.8 1558.9,1234 1561.4,1237.3 1563.8,1240.5 1566.3,1243.7 1568.8,1246.9 1571.3,1250.1 1573.8,1253.3 1576.3,1256.5 1578.8,1259.7 1581.4,1262.8 1583.9,1266 1586.5,1269.1 1589.1,1272.3 1591.7,1275.4 1594.2,1278.5 1596.9,1281.6 1599.5,1284.7 1602.1,1287.8 1604.8,1290.9 1607.4,1294 1610.1,1297 1612.8,1300.1 1615.5,1303.1 1618.2,1306.2 1620.9,1309.2 1623.6,1312.2 1626.4,1315.2 1629.1,1318.2 1631.9,1321.2 1634.7,1324.1 1636.8,1326.3" fill="none" stroke="#000" stroke-width="1.4"/>
<polygon points="1646,1335.9 1633.4,1329.6 1640.2,1323.1" fill="#000" stroke="#000" stroke-width="1.4"/>
<path d="M1382.4,933 1525.7,1035.1" fill="none" stroke="#000" stroke-width="1.4"/>
<polygon points="1536.5,1042.8 1522.9,1038.9 1528.4,1031.3" fill="#000" stroke="#000" stroke-width="1.4"/>
<path d="M1694.1,933 1606.4,1032.8" fill="none" stroke="#000" stroke-width="1.4"/>
<polygon points="1597.6,1042.8 1602.8,1029.7 1609.9,1035.9" fill="#000" stroke="#000" stroke-width="1.4"/>
<path d="M1716,933 1716.6,1029.5" fill="none" stroke="#000" stroke-width="1.4"/>
<polygon points="1716.7,1042.8 1711.9,1029.5 1721.3,1029.5" fill="#000" stroke="#000" stroke-width="1.4"/>
<path d="M1726.2,933.4 1727.8,937.1 1729.3,940.7 1730.8,944.4 1732.2,948.1 1733.7,951.8 1735.1,955.6 1736.6,959.3 1738,963.1 1739.3,966.9 1740.7,970.7 1742.1,974.5 1743.4,978.3 1744.7,982.2 1746,986 1747.3,989.9 1748.5,993.8 1749.8,997.7 1751,1001.6 1752.2,1005.5 1753.3,1009.4 1754.5,1013.4 1755.6,1017.3 1756.7,1021.3 1757.7,1025.2 1758.8,1029.2 1759.8,1033.2 1760.8,1037.2 1761.7,1041.2 1762.6,1045.2 1763.5,1049.2 1764.4,1053.3 1765.2,1057.3 1766,1061.3 1766.8,1065.4 1767.5,1069.4 1768.2,1073.5 1768.9,1077.5 1769.5,1081.6 1770.1,1085.7 1770.7,1089.7 1771.2,1093.8 1771.7,1097.9 1772.1,1101.9 1772.5,1106 1772.9,1110.1 1773.2,1114.2 1773.5,1118.2 1773.8,1122.3 1774,1126.4 1774.1,1130.5 1774.2,1134.5 1774.3,1138.6 1774.3,1142.7 1774.3,1146.7 1774.3,1150.8 1774.2,1154.8 1774,1158.9 1773.8,1162.9 1773.5,1166.9 1773.2,1171 1772.8,1175 1772.4,1179 1771.9,1183 1771.4,1187 1770.8,1190.9 1770.2,1194.9 1769.4,1198.8 1768.7,1202.8 1767.8,1206.7 1766.9,1210.6 1765.9,1214.4 1764.9,1218.3 1763.8,1222.2 1762.7,1226 1761.4,1229.8 1760.2,1233.6 1758.8,1237.3 1757.4,1241.1 1755.9,1244.8 1754.4,1248.5 1752.8,1252.2 1751.1,1255.8 1749.4,1259.5 1747.6,1263.1 1745.7,1266.7 1743.8,1270.2 1741.9,1273.8 1739.8,1277.3 1737.7,1280.7 1735.6,1284.2 1733.4,1287.6 1731.2,1291 1728.9,1294.4 1726.5,1297.8 1724.1,1301.1 1721.7,1304.4 1719.2,1307.7 1716.7,1310.9 1714.1,1314.1 1711.4,1317.3 1708.8,1320.5 1706.1,1323.6 1703.9,1326" fill="none" stroke="#000" stroke-width="1.4"/>
<polygon points="1695,1335.9 1700.4,1322.9 1707.4,1329.1" fill="#000" stroke="#000" stroke-width="1.4"/>
<path d="M1920.5,933 1917.6,936.1 1914.8,939.3 1911.9,942.4 1909,945.4 1906,948.4 1903.1,951.4 1900,954.2 1897,957 1893.9,959.7 1890.7,962.4 1887.5,965 1884.3,967.5 1881.1,970 1877.8,972.4 1874.5,974.8 1871.1,977 1867.8,979.3 1864.4,981.4 1860.9,983.6 1857.4,985.6 1853.9,987.6 1850.4,989.6 1846.9,991.4 1843.3,993.3 1839.7,995.1 1836,996.8 1832.3,998.5 1828.7,1000.1 1824.9,1001.7 1821.2,1003.2 1817.4,1004.7 1813.6,1006.1 1809.8,1007.5 1806,1008.8 1802.1,1010.1 1798.3,1011.4 1794.4,1012.6 1790.4,1013.7 1786.5,1014.9 1782.6,1016 1778.6,1017.1 1774.7,1018.1 1770.7,1019.1 1766.7,1020.1 1762.7,1021.1 1758.7,1022.1 1754.7,1023 1750.6,1024 1746.6,1024.9 1742.6,1025.8 1738.6,1026.7 1734.5,1027.6 1730.5,1028.5 1726.5,1029.4 1722.5,1030.4 1718.4,1031.3 1714.4,1032.2 1710.4,1033.2 1706.4,1034.2 1702.4,1035.1 1698.5,1036.1 1694.5,1037.2 1690.5,1038.2 1687.7,1039.1" fill="none" stroke="#000" stroke-width="1.4"/>
<polygon points="1674.9,1042.8 1686.3,1034.6 1689,1043.6" fill="#000" stroke="#000" stroke-width="1.4"/>
<path d="M1930.6,933 1896.2,1030.3" fill="none" stroke="#000" stroke-width="1.4"/>
<polygon points="1891.8,1042.8 1891.8,1028.7 1900.7,1031.8" fill="#000" stroke="#000" stroke-width="1.4"/>
<path d="M1943.5,933 1944.2,937 1945.1,941.2 1945.9,945.3 1946.6,949.5 1947.3,953.6 1947.8,957.8 1948.4,961.9 1948.8,966 1949.2,970.1 1949.5,974.2 1949.7,978.4 1949.9,982.5 1950,986.5 1950,990.6 1949.9,994.7 1949.8,998.7 1949.6,1002.8 1949.4,1006.8 1949.1,1010.8 1948.7,1014.9 1948.2,1018.8 1947.7,1022.8 1947.1,1026.8 1946.4,1030.7 1945.7,1034.7 1944.9,1038.6 1944.1,1042.5 1943.1,1046.3 1942.1,1050.2 1941.1,1054 1940,1057.8 1938.8,1061.6 1937.5,1065.4 1936.2,1069.1 1934.8,1072.9 1933.4,1076.6 1931.9,1080.3 1930.3,1083.9 1928.7,1087.6 1927,1091.2 1925.3,1094.8 1923.5,1098.4 1921.7,1101.9 1919.8,1105.5 1917.9,1109 1916,1112.5 1914,1115.9 1911.9,1119.4 1909.8,1122.8 1907.7,1126.3 1905.5,1129.7 1903.3,1133.1 1901,1136.4 1898.7,1139.8 1896.4,1143.1 1894.1,1146.4 1891.7,1149.7 1889.3,1153 1886.8,1156.2 1884.4,1159.4 1881.9,1162.7 1879.4,1165.9 1876.8,1169 1874.3,1172.2 1871.7,1175.3 1869.1,1178.5 1866.5,1181.6 1863.8,1184.7 1861.2,1187.8 1858.5,1190.8 1855.8,1193.9 1853.1,1196.9 1850.3,1199.9 1847.6,1203 1844.8,1205.9 1842,1208.9 1839.2,1211.9 1836.4,1214.8 1833.6,1217.8 1830.7,1220.7 1827.8,1223.6 1825,1226.5 1822.1,1229.4 1819.2,1232.3 1816.3,1235.2 1813.3,1238 1810.4,1240.9 1807.5,1243.7 1804.5,1246.5 1801.6,1249.3 1798.6,1252.2 1795.6,1255 1792.6,1257.7 1789.6,1260.5 1786.6,1263.3 1783.6,1266 1780.6,1268.8 1777.6,1271.5 1774.6,1274.3 1771.5,1277 1768.5,1279.7 1765.5,1282.5 1762.5,1285.2 1759.4,1287.9 1756.4,1290.6 1753.3,1293.3 1750.3,1296 1747.3,1298.7 1744.2,1301.3 1741.2,1304 1738.1,1306.7 1735.1,1309.4 1732.1,1312 1729.1,1314.7 1726,1317.3 1723,1320 1720,1322.7 1717,1325.3 1714.9,1327.1" fill="none" stroke="#000" stroke-width="1.4"/>
<polygon points="1704.9,1335.9 1711.8,1323.6 1718,1330.7" fill="#000" stroke="#000" stroke-width="1.4"/>
<path d="M227.6,933 227.6,1029.4" fill="none" stroke="#000" stroke-width="1.4"/>
<polygon points="227.6,1042.7 222.9,1029.4 232.3,1029.4" fill="#000" stroke="#000" stroke-width="1.4"/>
<path d="M393.5,933 419.5,1029.9" fill="none" stroke="#000" stroke-width="1.4"/>
<polygon points="422.9,1042.7 414.9,1031.1 424,1028.6" fill="#000" stroke="#000" stroke-width="1.4"/>
<path d="M1479.5,1077 1475.5,1077.5 1471.5,1077.9 1467.5,1078.4 1463.5,1078.8 1459.5,1079.3 1455.6,1079.7 1451.6,1080.2 1447.6,1080.6 1443.6,1081.1 1439.6,1081.5 1435.6,1082 1431.6,1082.4 1427.6,1082.8 1423.6,1083.3 1419.6,1083.7 1415.6,1084.2 1411.6,1084.6 1407.7,1085.1 1403.7,1085.5 1399.7,1086 1395.7,1086.4 1391.7,1086.9 1387.7,1087.3 1383.7,1087.8 1379.7,1088.2 1375.7,1088.7 1371.7,1089.1 1367.7,1089.6 1363.7,1090 1359.8,1090.5 1355.8,1090.9 1351.8,1091.3 1347.8,1091.8 1343.8,1092.2 1339.8,1092.7 1335.8,1093.1 1331.8,1093.6 1327.8,1094 1323.8,1094.5 1319.8,1094.9 1315.8,1095.4 1311.9,1095.8 1307.9,1096.3 1303.9,1096.7 1299.9,1097.2 1295.9,1097.6 1291.9,1098 1287.9,1098.5 1283.9,1098.9 1279.9,1099.4 1275.9,1099.8 1271.9,1100.3 1267.9,1100.7 1264,1101.2 1260,1101.6 1256,1102.1 1252,1102.5 1248,1102.9 1244,1103.4 1240,1103.8 1236,1104.3 1232,1104.7 1228,1105.2 1224,1105.6 1220,1106.1 1216.1,1106.5 1212.1,1106.9 1208.1,1107.4 1204.1,1107.8 1200.1,1108.3 1196.1,1108.7 1192.1,1109.2 1188.1,1109.6 1184.1,1110.1 1180.1,1110.5 1176.1,1110.9 1172.1,1111.4 1168.1,1111.8 1164.2,1112.3 1160.2,1112.7 1156.2,1113.2 1152.2,1113.6 1148.2,1114.1 1144.2,1114.5 1140.2,1114.9 1136.2,1115.4 1132.2,1115.8 1128.2,1116.3 1124.2,1116.7 1120.2,1117.2 1116.3,1117.6 1112.3,1118 1108.3,1118.5 1104.3,1118.9 1100.3,1119.4 1096.3,1119.8 1092.3,1120.3 1088.3,1120.7 1084.3,1121.1 1080.3,1121.6 1076.3,1122 1072.3,1122.5 1068.3,1122.9 1064.4,1123.4 1060.4,1123.8 1056.4,1124.2 1052.4,1124.7 1048.4,1125.1 1044.4,1125.6 1040.4,1126 1036.4,1126.4 1032.4,1126.9 1028.4,1127.3 1024.4,1127.8 1020.4,1128.2 1016.4,1128.7 1012.5,1129.1 1008.5,1129.5 1004.5,1130 1000.5,1130.4 996.5,1130.9 992.5,1131.3 988.5,1131.7 984.5,1132.2 980.5,1132.6 976.5,1133.1 972.5,1133.5 968.5,1134 964.5,1134.4 960.6,1134.8 956.6,1135.3 952.6,1135.7 948.6,1136.2 944.6,1136.6 940.6,1137 936.6,1137.5 932.6,1137.9 928.6,1138.4 924.6,1138.8 920.6,1139.2 916.6,1139.7 912.6,1140.1 908.7,1140.6 904.7,1141 900.7,1141.4 896.7,1141.9 892.7,1142.3 888.7,1142.8 884.7,1143.2 880.7,1143.6 876.7,1144.1 872.7,1144.5 868.7,1145 864.7,1145.4 860.7,1145.8 856.8,1146.3 852.8,1146.7 848.8,1147.2 844.8,1147.6 840.8,1148 836.8,1148.5 832.8,1148.9 828.8,1149.4 824.8,1149.8 820.8,1150.2 816.8,1150.7 812.8,1151.1 808.8,1151.6 804.9,1152 800.9,1152.4 796.9,1152.9 792.9,1153.3 788.9,1153.8 784.9,1154.2 780.9,1154.6 776.9,1155.1 772.9,1155.5 768.9,1155.9 764.9,1156.4 760.9,1156.8 756.9,1157.3 752.9,1157.7 749,1158.1 745,1158.6 741,1159 737,1159.5 733,1159.9 729,1160.3 725,1160.8 721,1161.2 717,1161.6 713,1162.1 709,1162.5 705,1163 701,1163.4 697.1,1163.8 693.1,1164.3 689.1,1164.7 685.1,1165.1 681.1,1165.6 677.1,1166 673.1,1166.5 669.1,1166.9 665.1,1167.3 661.1,1167.8 657.1,1168.2 653.1,1168.6 649.1,1169.1 645.1,1169.5 641.2,1170 637.2,1170.4 633.2,1170.8 629.2,1171.3 625.2,1171.7 621.2,1172.1 617.2,1172.6 613.2,1173 609.2,1173.5 605.2,1173.9 601.2,1174.3 597.2,1174.8 593.2,1175.2 589.2,1175.6 585.3,1176.1 581.3,1176.5 577.3,1176.9 573.3,1177.4 569.3,1177.8 565.3,1178.3 561.3,1178.7 557.3,1179.1 553.3,1179.6 549.3,1180 545.3,1180.4 541.3,1180.9 537.3,1181.3 533.3,1181.7 529.4,1182.2 525.4,1182.6 521.4,1183.1 517.4,1183.5 513.4,1183.9 509.4,1184.4 505.4,1184.8 501.4,1185.2 497.4,1185.7 493.4,1186.1 489.4,1186.5 485.4,1187 481.4,1187.4 477.4,1187.8 473.5,1188.3 469.5,1188.7 465.5,1189.2 461.5,1189.6 457.5,1190 453.5,1190.5 449.5,1190.9 445.5,1191.3 441.5,1191.8 437.5,1192.2 433.5,1192.6 429.5,1193.1 425.5,1193.5 421.5,1193.9 417.6,1194.4 413.6,1194.8 409.6,1195.2 405.6,1195.7 401.6,1196.1 397.6,1196.6 393.6,1197 389.6,1197.4 385.6,1197.9 381.6,1198.3 377.6,1198.7 373.6,1199.2 369.6,1199.6 365.6,1200 361.7,1200.5 357.7,1200.9 353.7,1201.3 349.7,1201.8 346.9,1202.1" fill="none" stroke="#000" stroke-width="1.4"/>
<polygon points="333.7,1203.5 346.4,1197.4 347.4,1206.7" fill="#000" stroke="#000" stroke-width="1.4"/>
<path d="M1569.9,1090.5 1569.2,1094.6 1568.3,1098.7 1567.6,1102.8 1566.9,1106.9 1566.3,1111 1565.7,1115.2 1565.2,1119.3 1564.8,1123.4 1564.5,1127.5 1564.2,1131.6 1563.9,1135.7 1563.8,1139.8 1563.7,1143.9 1563.6,1148 1563.7,1152.1 1563.8,1156.2 1563.9,1160.3 1564.1,1164.3 1564.4,1168.4 1564.8,1172.4 1565.2,1176.4 1565.7,1180.5 1566.2,1184.5 1566.8,1188.5 1567.5,1192.5 1568.2,1196.4 1569,1200.4 1569.9,1204.3 1570.8,1208.3 1571.8,1212.2 1572.8,1216.1 1574,1219.9 1575.1,1223.8 1576.4,1227.6 1577.7,1231.5 1579,1235.3 1580.4,1239.1 1581.9,1242.8 1583.4,1246.6 1585,1250.3 1586.7,1254 1588.4,1257.7 1590.1,1261.3 1592,1265 1593.8,1268.6 1595.7,1272.2 1597.7,1275.8 1599.7,1279.3 1601.8,1282.8 1603.9,1286.3 1606.1,1289.8 1608.3,1293.3 1610.5,1296.7 1612.8,1300.1 1615.2,1303.5 1617.6,1306.8 1620,1310.2 1622.5,1313.5 1625,1316.7 1627.5,1320 1630.1,1323.2 1632.2,1325.7" fill="none" stroke="#000" stroke-width="1.4"/>
<polygon points="1640.7,1335.9 1628.6,1328.7 1635.8,1322.7" fill="#000" stroke="#000" stroke-width="1.4"/>
<path d="M1588,1090.5 1646.4,1178.3" fill="none" stroke="#000" stroke-width="1.4"/>
<polygon points="1653.8,1189.4 1642.5,1180.9 1650.3,1175.7" fill="#000" stroke="#000" stroke-width="1.4"/>
<path d="M266.5,1237.1 266.5,1322.6" fill="none" stroke="#000" stroke-width="1.4"/>
<polygon points="266.5,1335.9 261.8,1322.6 271.2,1322.6" fill="#000" stroke="#000" stroke-width="1.4"/>
<path d="M1386.4,1237 1386.4,1322.6" fill="none" stroke="#000" stroke-width="1.4"/>
<polygon points="1386.4,1335.9 1381.7,1322.6 1391.1,1322.6" fill="#000" stroke="#000" stroke-width="1.4"/>
<path d="M1406.8,1237 1409.3,1240.5 1411.8,1243.9 1414.4,1247.2 1417,1250.5 1419.8,1253.6 1422.6,1256.7 1425.4,1259.6 1428.4,1262.5 1431.3,1265.3 1434.4,1268 1437.5,1270.7 1440.7,1273.2 1443.9,1275.7 1447.1,1278.1 1450.4,1280.5 1453.8,1282.8 1457.2,1285 1460.7,1287.1 1464.2,1289.2 1467.7,1291.3 1471.3,1293.2 1474.9,1295.2 1478.5,1297 1482.2,1298.9 1485.9,1300.6 1489.7,1302.4 1493.5,1304.1 1497.2,1305.7 1501.1,1307.3 1504.9,1308.9 1508.8,1310.4 1512.6,1312 1516.5,1313.4 1520.4,1314.9 1524.4,1316.3 1528.3,1317.8 1532.2,1319.2 1536.2,1320.5 1540.1,1321.9 1544.1,1323.2 1548,1324.6 1552,1325.9 1555.9,1327.2 1559.9,1328.6 1563.8,1329.9 1567.8,1331.2 1571.7,1332.5 1575.6,1333.9 1579.5,1335.2 1583.4,1336.5 1587.2,1337.9 1590,1338.9" fill="none" stroke="#000" stroke-width="1.4"/>
<polygon points="1602.5,1343.5 1588.4,1343.3 1591.6,1334.5" fill="#000" stroke="#000" stroke-width="1.4"/>
<path d="M1377.2,1237 1376,1240.9 1374.8,1244.8 1373.6,1248.6 1372.4,1252.5 1371.2,1256.4 1370.1,1260.3 1368.9,1264.2 1367.8,1268.1 1366.7,1272 1365.7,1275.9 1364.6,1279.8 1363.6,1283.7 1362.6,1287.7 1361.7,1291.6 1360.7,1295.5 1359.8,1299.5 1358.9,1303.4 1358,1307.3 1357.1,1311.3 1356.3,1315.2 1355.5,1319.2 1354.7,1323.2 1353.9,1327.1 1353.1,1331.1 1352.4,1335.1 1351.7,1339 1351,1343 1350.3,1347 1349.6,1351 1349,1354.9 1348.3,1358.9 1347.7,1362.9 1347.1,1366.9 1346.6,1370.9 1346,1374.9 1345.5,1378.9 1345,1382.9 1344.4,1386.9 1344,1390.9 1343.5,1395 1343.1,1399 1342.6,1403 1342.2,1407 1341.8,1411 1341.4,1415.1 1341.1,1419.1 1340.7,1423.1 1340.4,1427.1 1340,1431.2 1339.7,1435.2 1339.5,1439.2 1339.2,1443.3 1338.9,1447.3 1338.7,1451.3 1338.5,1455.4 1338.2,1459.4 1338,1463.5 1337.9,1467.5 1337.7,1471.6 1337.5,1475.6 1337.4,1479.6 1337.2,1483.7 1337.1,1487.7 1337,1491.8 1336.9,1495.8 1336.8,1499.9 1336.8,1503.9 1336.7,1508 1336.7,1512 1336.6,1516.1 1336.6,1520.1 1336.6,1524.2 1336.6,1528.2 1336.6,1532.3 1336.7,1536.3 1336.7,1540.4 1336.8,1544.4 1336.8,1548.5 1336.9,1552.5 1337,1556.6 1337.1,1560.6 1337.2,1564.7 1337.3,1568.7 1337.4,1572.8 1337.5,1576.8 1337.6,1580.9 1337.8,1584.9 1337.9,1588.9 1338.1,1593 1338.3,1597 1338.5,1601.1 1338.7,1605.1 1338.9,1609.1 1339.1,1613.2 1339.2,1616" fill="none" stroke="#000" stroke-width="1.4"/>
<polygon points="1339.9,1629.3 1334.5,1616.3 1343.9,1615.8" fill="#000" stroke="#000" stroke-width="1.4"/>
<path d="M1669.3,1237 1669.3,1322.6" fill="none" stroke="#000" stroke-width="1.4"/>
<polygon points="1669.3,1335.9 1664.6,1322.6 1674,1322.6" fill="#000" stroke="#000" stroke-width="1.4"/>
<path d="M1650.3,1383.6 1579.7,1472" fill="none" stroke="#000" stroke-width="1.4"/>
<polygon points="1571.4,1482.4 1576,1469.1 1583.4,1474.9" fill="#000" stroke="#000" stroke-width="1.4"/>
<path d="M1669.3,1383.6 1669.3,1469.1" fill="none" stroke="#000" stroke-width="1.4"/>
<polygon points="1669.3,1482.4 1664.6,1469.1 1674,1469.1" fill="#000" stroke="#000" stroke-width="1.4"/>
<path d="M1688.7,1383.6 1762,1472.2" fill="none" stroke="#000" stroke-width="1.4"/>
<polygon points="1770.5,1482.4 1758.4,1475.2 1765.6,1469.2" fill="#000" stroke="#000" stroke-width="1.4"/>
<path d="M1616.7,1530.5 1401.5,1625.5" fill="none" stroke="#000" stroke-width="1.4"/>
<polygon points="1389.3,1630.9 1399.6,1621.2 1403.4,1629.8" fill="#000" stroke="#000" stroke-width="1.4"/>
<path d="M1731.2,1530.5 2006.1,1631.2" fill="none" stroke="#000" stroke-width="1.4"/>
<polygon points="2018.6,1635.8 2004.5,1635.6 2007.7,1626.8" fill="#000" stroke="#000" stroke-width="1.4"/>
<path d="M1789.1,1530.5 1789.1,1616" fill="none" stroke="#000" stroke-width="1.4"/>
<polygon points="1789.1,1629.3 1784.4,1616 1793.8,1616" fill="#000" stroke="#000" stroke-width="1.4"/>
<path d="M2062.3,1677 2062.3,1762.5" fill="none" stroke="#000" stroke-width="1.4"/>
<polygon points="2062.3,1775.8 2057.6,1762.5 2067,1762.5" fill="#000" stroke="#000" stroke-width="1.4"/>
<text x="1837" y="191.5" font-size="11.0" fill="#6495ed" textLength="21.9" lengthAdjust="spacingAndGlyphs">test</text>
<text x="2063.8" y="190.9" font-size="11.0" fill="#6495ed" textLength="21.9" lengthAdjust="spacingAndGlyphs">test</text>
<text x="2104.5" y="190.9" font-size="11.0" fill="#6495ed" textLength="21.9" lengthAdjust="spacingAndGlyphs">test</text>
<text x="288.8" y="991.3" font-size="11.0" fill="#6495ed" textLength="21.9" lengthAdjust="spacingAndGlyphs">test</text>
<text x="2079.5" y="990.5" font-size="11.0" fill="#6495ed" textLength="21.9" lengthAdjust="spacingAndGlyphs">test</text>
<rect x="1746.5" y="42.7" width="239.5" height="90.2" fill="#dddddd" stroke="#000" stroke-width="1.4"/>
<text x="1866.2" y="62.8" font-size="17.6" fill="#000" text-anchor="middle" textLength="66.8" lengthAdjust="spacingAndGlyphs">org.lsst</text>
<text x="1866.2" y="82" font-size="17.6" fill="#000" text-anchor="middle" textLength="218.1" lengthAdjust="spacingAndGlyphs">org-lsst-ccs-interactions</text>
<text x="1866.2" y="102.4" font-size="17.6" fill="#000" text-anchor="middle" textLength="40.4" lengthAdjust="spacingAndGlyphs">pom</text>
<text x="1866.2" y="122.8" font-size="17.6" fill="#000" text-anchor="middle" textLength="46.3" lengthAdjust="spacingAndGlyphs">1.6.4</text>
<rect x="1599.5" y="242.5" width="134.1" height="47.8" fill="#fff" stroke="#000" stroke-width="1.4"/>
<text x="1666.5" y="257" font-size="11.0" fill="#000" text-anchor="middle" textLength="41.9" lengthAdjust="spacingAndGlyphs">org.lsst</text>
<text x="1666.5" y="269" font-size="11.0" fill="#000" text-anchor="middle" textLength="110.2" lengthAdjust="spacingAndGlyphs">org-lsst-ccs-startup</text>
<text x="1666.5" y="280.8" font-size="11.0" fill="#000" text-anchor="middle" textLength="29.1" lengthAdjust="spacingAndGlyphs">1.6.4</text>
<rect x="2057.3" y="242.6" width="72.1" height="47.8" fill="#fff" stroke="#6495ed" stroke-width="1.4"/>
<text x="2093.4" y="257.1" font-size="11.0" fill="#6495ed" text-anchor="middle" textLength="25.3" lengthAdjust="spacingAndGlyphs">junit</text>
<text x="2093.4" y="269.1" font-size="11.0" fill="#6495ed" text-anchor="middle" textLength="25.3" lengthAdjust="spacingAndGlyphs">junit</text>
<text x="2093.4" y="280.9" font-size="11.0" fill="#6495ed" text-anchor="middle" textLength="25.4" lengthAdjust="spacingAndGlyphs">4.12</text>
<rect x="2134.4" y="242.6" width="99" height="47.8" fill="#fff" stroke="#6495ed" stroke-width="1.4"/>
<text x="2183.9" y="257.1" font-size="11.0" fill="#6495ed" text-anchor="middle" textLength="75.9" lengthAdjust="spacingAndGlyphs">org.hamcrest</text>
<text x="2183.9" y="269.1" font-size="11.0" fill="#6495ed" text-anchor="middle" textLength="71" lengthAdjust="spacingAndGlyphs">hamcrest-all</text>
<text x="2183.9" y="280.9" font-size="11.0" fill="#6495ed" text-anchor="middle" textLength="18.2" lengthAdjust="spacingAndGlyphs">1.3</text>
<rect x="1707.5" y="338.6" width="147.5" height="58.6" fill="#fff" stroke="#6495ed" stroke-width="1.4"/>
<text x="1781.2" y="352.5" font-size="11.0" fill="#6495ed" text-anchor="middle" textLength="41.9" lengthAdjust="spacingAndGlyphs">org.lsst</text>
<text x="1781.2" y="364.6" font-size="11.0" fill="#6495ed" text-anchor="middle" textLength="124.2" lengthAdjust="spacingAndGlyphs">org-lsst-ccs-bootstrap</text>
<text x="1781.2" y="376.7" font-size="11.0" fill="#6495ed" text-anchor="middle" textLength="72.4" lengthAdjust="spacingAndGlyphs">test-jar:tests</text>
<text x="1781.2" y="388.8" font-size="11.0" fill="#6495ed" text-anchor="middle" textLength="29.1" lengthAdjust="spacingAndGlyphs">2.1.2</text>
<rect x="1485" y="445.2" width="171.4" height="47.7" fill="#fff" stroke="#000" stroke-width="1.4"/>
<text x="1570.7" y="459.6" font-size="11.0" fill="#000" text-anchor="middle" textLength="41.9" lengthAdjust="spacingAndGlyphs">org.lsst</text>
<text x="1570.7" y="471.6" font-size="11.0" fill="#000" text-anchor="middle" textLength="149.3" lengthAdjust="spacingAndGlyphs">org-lsst-ccs-config-remote</text>
<text x="1570.7" y="483.4" font-size="11.0" fill="#000" text-anchor="middle" textLength="29.1" lengthAdjust="spacingAndGlyphs">1.6.4</text>
<rect x="1430.2" y="591.9" width="182.1" height="48" fill="#fff" stroke="#000" stroke-width="1.4"/>
<text x="1521.2" y="606.5" font-size="11.0" fill="#000" text-anchor="middle" textLength="41.9" lengthAdjust="spacingAndGlyphs">org.lsst</text>
<text x="1521.2" y="618.5" font-size="11.0" fill="#000" text-anchor="middle" textLength="162" lengthAdjust="spacingAndGlyphs">org-lsst-ccs-config-definition</text>
<text x="1521.2" y="630.3" font-size="11.0" fill="#000" text-anchor="middle" textLength="29.1" lengthAdjust="spacingAndGlyphs">1.6.4</text>
<rect x="1779.7" y="591.9" width="203.3" height="48" fill="#fff" stroke="#000" stroke-width="1.4"/>
<text x="1881.3" y="606.5" font-size="11.0" fill="#000" text-anchor="middle" textLength="41.9" lengthAdjust="spacingAndGlyphs">org.lsst</text>
<text x="1881.3" y="618.5" font-size="11.0" fill="#000" text-anchor="middle" textLength="178.6" lengthAdjust="spacingAndGlyphs">org-lsst-ccs-subsystem-console</text>
<text x="1881.3" y="630.3" font-size="11.0" fill="#000" text-anchor="middle" textLength="29.1" lengthAdjust="spacingAndGlyphs">1.6.4</text>
<rect x="599.6" y="738.6" width="128.5" height="47.5" fill="#fff" stroke="#000" stroke-width="1.4"/>
<text x="663.9" y="753" font-size="11.0" fill="#000" text-anchor="middle" textLength="41.9" lengthAdjust="spacingAndGlyphs">org.lsst</text>
<text x="663.9" y="765" font-size="11.0" fill="#000" text-anchor="middle" textLength="107.3" lengthAdjust="spacingAndGlyphs">org-lsst-gruth-data</text>
<text x="663.9" y="776.8" font-size="11.0" fill="#000" text-anchor="middle" textLength="36.3" lengthAdjust="spacingAndGlyphs">1.3.14</text>
<rect x="1104.8" y="738.6" width="104.7" height="47.5" fill="#fff" stroke="#000" stroke-width="1.4"/>
<text x="1157.2" y="753" font-size="11.0" fill="#000" text-anchor="middle" textLength="77.3" lengthAdjust="spacingAndGlyphs">org.hibernate</text>
<text x="1157.2" y="765" font-size="11.0" fill="#000" text-anchor="middle" textLength="83.8" lengthAdjust="spacingAndGlyphs">hibernate-core</text>
<text x="1157.2" y="776.8" font-size="11.0" fill="#000" text-anchor="middle" textLength="59" lengthAdjust="spacingAndGlyphs">4.0.1.Final</text>
<rect x="1537.8" y="738.5" width="118.6" height="47.6" fill="#fff" stroke="#000" stroke-width="1.4"/>
<text x="1597.1" y="752.9" font-size="11.0" fill="#000" text-anchor="middle" textLength="41.9" lengthAdjust="spacingAndGlyphs">org.lsst</text>
<text x="1597.1" y="764.9" font-size="11.0" fill="#000" text-anchor="middle" textLength="93.9" lengthAdjust="spacingAndGlyphs">org-lsst-ccs-core</text>
<text x="1597.1" y="776.7" font-size="11.0" fill="#000" text-anchor="middle" textLength="29.1" lengthAdjust="spacingAndGlyphs">1.6.4</text>
<rect x="1802.3" y="738.6" width="101.6" height="47.6" fill="#fff" stroke="#000" stroke-width="1.4"/>
<text x="1853.1" y="753" font-size="11.0" fill="#000" text-anchor="middle" textLength="62.3" lengthAdjust="spacingAndGlyphs">org.python</text>
<text x="1853.1" y="765" font-size="11.0" fill="#000" text-anchor="middle" textLength="82.3" lengthAdjust="spacingAndGlyphs">jython-no-jline</text>
<text x="1853.1" y="776.8" font-size="11.0" fill="#000" text-anchor="middle" textLength="29.1" lengthAdjust="spacingAndGlyphs">2.5.3</text>
<rect x="1910.2" y="738.6" width="99.3" height="47.6" fill="#fff" stroke="#000" stroke-width="1.4"/>
<text x="1959.8" y="753" font-size="11.0" fill="#000" text-anchor="middle" textLength="78.6" lengthAdjust="spacingAndGlyphs">commons-net</text>
<text x="1959.8" y="765" font-size="11.0" fill="#000" text-anchor="middle" textLength="78.6" lengthAdjust="spacingAndGlyphs">commons-net</text>
<text x="1959.8" y="776.8" font-size="11.0" fill="#000" text-anchor="middle" textLength="18.2" lengthAdjust="spacingAndGlyphs">3.3</text>
<rect x="43.6" y="885.4" width="141.7" height="47.6" fill="#fff" stroke="#000" stroke-width="1.4"/>
<text x="114.5" y="899.8" font-size="11.0" fill="#000" text-anchor="middle" textLength="120.1" lengthAdjust="spacingAndGlyphs">org.codehaus.groovy</text>
<text x="114.5" y="911.8" font-size="11.0" fill="#000" text-anchor="middle" textLength="56.4" lengthAdjust="spacingAndGlyphs">groovy-all</text>
<text x="114.5" y="923.6" font-size="11.0" fill="#000" text-anchor="middle" textLength="29.1" lengthAdjust="spacingAndGlyphs">2.3.4</text>
<rect x="191.5" y="885.4" width="72.3" height="47.6" fill="#fff" stroke="#000" stroke-width="1.4"/>
<text x="227.7" y="899.8" font-size="11.0" fill="#000" text-anchor="middle" textLength="35.8" lengthAdjust="spacingAndGlyphs">dom4j</text>
<text x="227.7" y="911.8" font-size="11.0" fill="#000" text-anchor="middle" textLength="35.8" lengthAdjust="spacingAndGlyphs">dom4j</text>
<text x="227.7" y="923.6" font-size="11.0" fill="#000" text-anchor="middle" textLength="29.1" lengthAdjust="spacingAndGlyphs">1.6.1</text>
<rect x="283.5" y="885.4" width="205.8" height="47.6" fill="#fff" stroke="#000" stroke-width="1.4"/>
<text x="386.4" y="899.8" font-size="11.0" fill="#000" text-anchor="middle" textLength="130.7" lengthAdjust="spacingAndGlyphs">org.hibernate.common</text>
<text x="386.4" y="911.8" font-size="11.0" fill="#000" text-anchor="middle" textLength="186.6" lengthAdjust="spacingAndGlyphs">hibernate-commons-annotations</text>
<text x="386.4" y="923.6" font-size="11.0" fill="#000" text-anchor="middle" textLength="59" lengthAdjust="spacingAndGlyphs">4.0.1.Final</text>
<rect x="509.1" y="885.4" width="72" height="47.6" fill="#fff" stroke="#000" stroke-width="1.4"/>
<text x="545.1" y="899.8" font-size="11.0" fill="#000" text-anchor="middle" textLength="26.6" lengthAdjust="spacingAndGlyphs">antlr</text>
<text x="545.1" y="911.8" font-size="11.0" fill="#000" text-anchor="middle" textLength="26.6" lengthAdjust="spacingAndGlyphs">antlr</text>
<text x="545.1" y="923.6" font-size="11.0" fill="#000" text-anchor="middle" textLength="29.1" lengthAdjust="spacingAndGlyphs">2.7.7</text>
<rect x="586.9" y="885.4" width="207.5" height="47.6" fill="#fff" stroke="#000" stroke-width="1.4"/>
<text x="690.6" y="899.8" font-size="11.0" fill="#000" text-anchor="middle" textLength="184.3" lengthAdjust="spacingAndGlyphs">org.jboss.spec.javax.transaction</text>
<text x="690.6" y="911.8" font-size="11.0" fill="#000" text-anchor="middle" textLength="175.6" lengthAdjust="spacingAndGlyphs">jboss-transaction-api_1.1_spec</text>
<text x="690.6" y="923.6" font-size="11.0" fill="#000" text-anchor="middle" textLength="59" lengthAdjust="spacingAndGlyphs">1.0.0.Final</text>
<rect x="800.1" y="885.4" width="202.4" height="47.6" fill="#fff" stroke="#000" stroke-width="1.4"/>
<text x="901.3" y="899.8" font-size="11.0" fill="#000" text-anchor="middle" textLength="181.3" lengthAdjust="spacingAndGlyphs">org.hibernate.javax.persistence</text>
<text x="901.3" y="911.8" font-size="11.0" fill="#000" text-anchor="middle" textLength="120.3" lengthAdjust="spacingAndGlyphs">hibernate-jpa-2.0-api</text>
<text x="901.3" y="923.6" font-size="11.0" fill="#000" text-anchor="middle" textLength="59" lengthAdjust="spacingAndGlyphs">1.0.1.Final</text>
<rect x="1007.6" y="885.4" width="96" height="47.6" fill="#fff" stroke="#000" stroke-width="1.4"/>
<text x="1055.6" y="899.8" font-size="11.0" fill="#000" text-anchor="middle" textLength="71.8" lengthAdjust="spacingAndGlyphs">org.javassist</text>
<text x="1055.6" y="911.8" font-size="11.0" fill="#000" text-anchor="middle" textLength="49.4" lengthAdjust="spacingAndGlyphs">javassist</text>
<text x="1055.6" y="923.6" font-size="11.0" fill="#000" text-anchor="middle" textLength="57.5" lengthAdjust="spacingAndGlyphs">3.15.0-GA</text>
<rect x="1110.4" y="885.4" width="142.1" height="47.6" fill="#fff" stroke="#000" stroke-width="1.4"/>
<text x="1181.5" y="899.8" font-size="11.0" fill="#000" text-anchor="middle" textLength="120.6" lengthAdjust="spacingAndGlyphs">commons-collections</text>
<text x="1181.5" y="911.8" font-size="11.0" fill="#000" text-anchor="middle" textLength="120.6" lengthAdjust="spacingAndGlyphs">commons-collections</text>
<text x="1181.5" y="923.6" font-size="11.0" fill="#000" text-anchor="middle" textLength="29.1" lengthAdjust="spacingAndGlyphs">3.2.1</text>
<rect x="1258.1" y="885.4" width="190" height="47.6" fill="#fff" stroke="#000" stroke-width="1.4"/>
<text x="1353.1" y="899.8" font-size="11.0" fill="#000" text-anchor="middle" textLength="41.9" lengthAdjust="spacingAndGlyphs">org.lsst</text>
<text x="1353.1" y="911.8" font-size="11.0" fill="#000" text-anchor="middle" textLength="166.2" lengthAdjust="spacingAndGlyphs">org-lsst-ccs-messaging-mock</text>
<text x="1353.1" y="923.6" font-size="11.0" fill="#000" text-anchor="middle" textLength="29.1" lengthAdjust="spacingAndGlyphs">1.6.4</text>
<rect x="1508.5" y="885.4" width="86.4" height="47.6" fill="#fff" stroke="#000" stroke-width="1.4"/>
<text x="1551.7" y="899.8" font-size="11.0" fill="#000" text-anchor="middle" textLength="63.5" lengthAdjust="spacingAndGlyphs">org.aspectj</text>
<text x="1551.7" y="911.8" font-size="11.0" fill="#000" text-anchor="middle" textLength="50.3" lengthAdjust="spacingAndGlyphs">aspectjrt</text>
<text x="1551.7" y="923.6" font-size="11.0" fill="#000" text-anchor="middle" textLength="36.3" lengthAdjust="spacingAndGlyphs">1.6.11</text>
<rect x="1614.6" y="885.4" width="202.6" height="47.6" fill="#fff" stroke="#000" stroke-width="1.4"/>
<text x="1715.9" y="899.8" font-size="11.0" fill="#000" text-anchor="middle" textLength="41.9" lengthAdjust="spacingAndGlyphs">org.lsst</text>
<text x="1715.9" y="911.8" font-size="11.0" fill="#000" text-anchor="middle" textLength="177.5" lengthAdjust="spacingAndGlyphs">org-lsst-ccs-messaging-jgroups</text>
<text x="1715.9" y="923.6" font-size="11.0" fill="#000" text-anchor="middle" textLength="29.1" lengthAdjust="spacingAndGlyphs">1.6.4</text>
<rect x="1849.4" y="885.4" width="181.2" height="47.6" fill="#fff" stroke="#000" stroke-width="1.4"/>
<text x="1940" y="899.8" font-size="11.0" fill="#000" text-anchor="middle" textLength="41.9" lengthAdjust="spacingAndGlyphs">org.lsst</text>
<text x="1940" y="911.8" font-size="11.0" fill="#000" text-anchor="middle" textLength="155.5" lengthAdjust="spacingAndGlyphs">org-lsst-ccs-messaging-jms</text>
<text x="1940" y="923.6" font-size="11.0" fill="#000" text-anchor="middle" textLength="29.1" lengthAdjust="spacingAndGlyphs">1.6.4</text>
<rect x="191.9" y="1042.7" width="72.2" height="47.7" fill="#fff" stroke="#000" stroke-width="1.4"/>
<text x="228" y="1057.2" font-size="11.0" fill="#000" text-anchor="middle" textLength="48.5" lengthAdjust="spacingAndGlyphs">xml-apis</text>
<text x="228" y="1069.2" font-size="11.0" fill="#000" text-anchor="middle" textLength="48.5" lengthAdjust="spacingAndGlyphs">xml-apis</text>
<text x="228" y="1081" font-size="11.0" fill="#000" text-anchor="middle" textLength="36.3" lengthAdjust="spacingAndGlyphs">1.0.b2</text>
<rect x="368.8" y="1042.7" width="120.8" height="47.7" fill="#fff" stroke="#000" stroke-width="1.4"/>
<text x="429.2" y="1057.2" font-size="11.0" fill="#000" text-anchor="middle" textLength="97.6" lengthAdjust="spacingAndGlyphs">org.jboss.logging</text>
<text x="429.2" y="1069.2" font-size="11.0" fill="#000" text-anchor="middle" textLength="75.7" lengthAdjust="spacingAndGlyphs">jboss-logging</text>
<text x="429.2" y="1081" font-size="11.0" fill="#000" text-anchor="middle" textLength="55.9" lengthAdjust="spacingAndGlyphs">3.1.0.CR2</text>
<rect x="1479.5" y="1042.8" width="187.6" height="47.7" fill="#fff" stroke="#000" stroke-width="1.4"/>
<text x="1573.3" y="1057.2" font-size="11.0" fill="#000" text-anchor="middle" textLength="41.9" lengthAdjust="spacingAndGlyphs">org.lsst</text>
<text x="1573.3" y="1069.2" font-size="11.0" fill="#000" text-anchor="middle" textLength="163.9" lengthAdjust="spacingAndGlyphs">org-lsst-ccs-messaging-layer</text>
<text x="1573.3" y="1081.1" font-size="11.0" fill="#000" text-anchor="middle" textLength="29.1" lengthAdjust="spacingAndGlyphs">1.6.4</text>
<rect x="1673.2" y="1042.8" width="88" height="47.7" fill="#fff" stroke="#000" stroke-width="1.4"/>
<text x="1717.2" y="1057.2" font-size="11.0" fill="#000" text-anchor="middle" textLength="64.7" lengthAdjust="spacingAndGlyphs">org.jgroups</text>
<text x="1717.2" y="1069.2" font-size="11.0" fill="#000" text-anchor="middle" textLength="42.3" lengthAdjust="spacingAndGlyphs">jgroups</text>
<text x="1717.2" y="1081.1" font-size="11.0" fill="#000" text-anchor="middle" textLength="59" lengthAdjust="spacingAndGlyphs">3.5.0.Final</text>
<rect x="1832.9" y="1042.8" width="96.5" height="47.7" fill="#fff" stroke="#000" stroke-width="1.4"/>
<text x="1881.2" y="1057.2" font-size="11.0" fill="#000" text-anchor="middle" textLength="54.6" lengthAdjust="spacingAndGlyphs">javax.jms</text>
<text x="1881.2" y="1069.2" font-size="11.0" fill="#000" text-anchor="middle" textLength="76.1" lengthAdjust="spacingAndGlyphs">javax.jms-api</text>
<text x="1881.2" y="1081.1" font-size="11.0" fill="#000" text-anchor="middle" textLength="18.2" lengthAdjust="spacingAndGlyphs">2.0</text>
<rect x="199.5" y="1189.4" width="134.1" height="47.7" fill="#fff" stroke="#000" stroke-width="1.4"/>
<text x="266.6" y="1203.8" font-size="11.0" fill="#000" text-anchor="middle" textLength="112.3" lengthAdjust="spacingAndGlyphs">commons-beanutils</text>
<text x="266.6" y="1215.8" font-size="11.0" fill="#000" text-anchor="middle" textLength="112.3" lengthAdjust="spacingAndGlyphs">commons-beanutils</text>
<text x="266.6" y="1227.7" font-size="11.0" fill="#000" text-anchor="middle" textLength="29.1" lengthAdjust="spacingAndGlyphs">1.8.3</text>
<rect x="1311.8" y="1189.4" width="149.6" height="47.6" fill="#fff" stroke="#000" stroke-width="1.4"/>
<text x="1386.6" y="1203.8" font-size="11.0" fill="#000" text-anchor="middle" textLength="41.9" lengthAdjust="spacingAndGlyphs">org.lsst</text>
<text x="1386.6" y="1215.8" font-size="11.0" fill="#000" text-anchor="middle" textLength="126.2" lengthAdjust="spacingAndGlyphs">org-lsst-ccs-command</text>
<text x="1386.6" y="1227.6" font-size="11.0" fill="#000" text-anchor="middle" textLength="29.1" lengthAdjust="spacingAndGlyphs">1.4.6</text>
<rect x="1577.6" y="1189.4" width="183.6" height="47.6" fill="#fff" stroke="#000" stroke-width="1.4"/>
<text x="1669.4" y="1203.8" font-size="11.0" fill="#000" text-anchor="middle" textLength="41.9" lengthAdjust="spacingAndGlyphs">org.lsst</text>
<text x="1669.4" y="1215.8" font-size="11.0" fill="#000" text-anchor="middle" textLength="160.4" lengthAdjust="spacingAndGlyphs">org-lsst-ccs-buses-definition</text>
<text x="1669.4" y="1227.6" font-size="11.0" fill="#000" text-anchor="middle" textLength="29.1" lengthAdjust="spacingAndGlyphs">1.6.4</text>
<rect x="205.2" y="1335.9" width="122.8" height="47.9" fill="#fff" stroke="#000" stroke-width="1.4"/>
<text x="266.6" y="1350.4" font-size="11.0" fill="#000" text-anchor="middle" textLength="102.1" lengthAdjust="spacingAndGlyphs">commons-logging</text>
<text x="266.6" y="1362.4" font-size="11.0" fill="#000" text-anchor="middle" textLength="102.1" lengthAdjust="spacingAndGlyphs">commons-logging</text>
<text x="266.6" y="1374.2" font-size="11.0" fill="#000" text-anchor="middle" textLength="29.1" lengthAdjust="spacingAndGlyphs">1.1.1</text>
<rect x="1350.7" y="1335.9" width="71.8" height="47.7" fill="#fff" stroke="#000" stroke-width="1.4"/>
<text x="1386.6" y="1350.3" font-size="11.0" fill="#000" text-anchor="middle" textLength="23.8" lengthAdjust="spacingAndGlyphs">jline</text>
<text x="1386.6" y="1362.3" font-size="11.0" fill="#000" text-anchor="middle" textLength="23.8" lengthAdjust="spacingAndGlyphs">jline</text>
<text x="1386.6" y="1374.2" font-size="11.0" fill="#000" text-anchor="middle" textLength="25.4" lengthAdjust="spacingAndGlyphs">2.11</text>
<rect x="1602.5" y="1335.9" width="133.9" height="47.7" fill="#fff" stroke="#000" stroke-width="1.4"/>
<text x="1669.5" y="1350.3" font-size="11.0" fill="#000" text-anchor="middle" textLength="41.9" lengthAdjust="spacingAndGlyphs">org.lsst</text>
<text x="1669.5" y="1362.3" font-size="11.0" fill="#000" text-anchor="middle" textLength="111" lengthAdjust="spacingAndGlyphs">org-lsst-ccs-utilities</text>
<text x="1669.5" y="1374.2" font-size="11.0" fill="#000" text-anchor="middle" textLength="36.3" lengthAdjust="spacingAndGlyphs">1.16.7</text>
<rect x="1517.3" y="1482.4" width="72.1" height="48.1" fill="#fff" stroke="#000" stroke-width="1.4"/>
<text x="1553.3" y="1497" font-size="11.0" fill="#000" text-anchor="middle" textLength="27.8" lengthAdjust="spacingAndGlyphs">log4j</text>
<text x="1553.3" y="1509" font-size="11.0" fill="#000" text-anchor="middle" textLength="27.8" lengthAdjust="spacingAndGlyphs">log4j</text>
<text x="1553.3" y="1520.9" font-size="11.0" fill="#000" text-anchor="middle" textLength="36.3" lengthAdjust="spacingAndGlyphs">1.2.17</text>
<rect x="1595.5" y="1482.4" width="147.8" height="48.1" fill="#fff" stroke="#000" stroke-width="1.4"/>
<text x="1669.4" y="1497" font-size="11.0" fill="#000" text-anchor="middle" textLength="41.9" lengthAdjust="spacingAndGlyphs">org.lsst</text>
<text x="1669.4" y="1509" font-size="11.0" fill="#000" text-anchor="middle" textLength="124.2" lengthAdjust="spacingAndGlyphs">org-lsst-ccs-bootstrap</text>
<text x="1669.4" y="1520.9" font-size="11.0" fill="#000" text-anchor="middle" textLength="29.1" lengthAdjust="spacingAndGlyphs">2.1.2</text>
<rect x="1749.2" y="1482.4" width="80.2" height="48.1" fill="#fff" stroke="#000" stroke-width="1.4"/>
<text x="1789.3" y="1497" font-size="11.0" fill="#000" text-anchor="middle" textLength="45.9" lengthAdjust="spacingAndGlyphs">org.slf4j</text>
<text x="1789.3" y="1509" font-size="11.0" fill="#000" text-anchor="middle" textLength="59.3" lengthAdjust="spacingAndGlyphs">slf4j-jdk14</text>
<text x="1789.3" y="1520.9" font-size="11.0" fill="#000" text-anchor="middle" textLength="29.1" lengthAdjust="spacingAndGlyphs">1.7.5</text>
<rect x="1294.3" y="1629.3" width="94.1" height="47.7" fill="#fff" stroke="#000" stroke-width="1.4"/>
<text x="1341.3" y="1643.8" font-size="11.0" fill="#000" text-anchor="middle" textLength="72.4" lengthAdjust="spacingAndGlyphs">commons-cli</text>
<text x="1341.3" y="1655.8" font-size="11.0" fill="#000" text-anchor="middle" textLength="72.4" lengthAdjust="spacingAndGlyphs">commons-cli</text>
<text x="1341.3" y="1667.6" font-size="11.0" fill="#000" text-anchor="middle" textLength="18.2" lengthAdjust="spacingAndGlyphs">1.2</text>
<rect x="1753.2" y="1629.3" width="72.1" height="47.7" fill="#fff" stroke="#000" stroke-width="1.4"/>
<text x="1789.2" y="1643.8" font-size="11.0" fill="#000" text-anchor="middle" textLength="45.9" lengthAdjust="spacingAndGlyphs">org.slf4j</text>
<text x="1789.2" y="1655.8" font-size="11.0" fill="#000" text-anchor="middle" textLength="45.1" lengthAdjust="spacingAndGlyphs">slf4j-api</text>
<text x="1789.2" y="1667.6" font-size="11.0" fill="#000" text-anchor="middle" textLength="29.1" lengthAdjust="spacingAndGlyphs">1.7.5</text>
<rect x="2018.2" y="1629.3" width="88.5" height="47.7" fill="#fff" stroke="#000" stroke-width="1.4"/>
<text x="2062.4" y="1643.8" font-size="11.0" fill="#000" text-anchor="middle" textLength="66.4" lengthAdjust="spacingAndGlyphs">org.freehep</text>
<text x="2062.4" y="1655.8" font-size="11.0" fill="#000" text-anchor="middle" textLength="66.2" lengthAdjust="spacingAndGlyphs">freehep-util</text>
<text x="2062.4" y="1667.6" font-size="11.0" fill="#000" text-anchor="middle" textLength="29.1" lengthAdjust="spacingAndGlyphs">2.0.8</text>
<rect x="2007.6" y="1775.8" width="109.8" height="48.1" fill="#fff" stroke="#000" stroke-width="1.4"/>
<text x="2062.5" y="1790.4" font-size="11.0" fill="#000" text-anchor="middle" textLength="75.6" lengthAdjust="spacingAndGlyphs">org.netbeans</text>
<text x="2062.5" y="1802.4" font-size="11.0" fill="#000" text-anchor="middle" textLength="88" lengthAdjust="spacingAndGlyphs">openide-lookup</text>
<text x="2062.5" y="1814.2" font-size="11.0" fill="#000" text-anchor="middle" textLength="91.1" lengthAdjust="spacingAndGlyphs">1.9-patched-1.0</text>
</svg></body></html>
